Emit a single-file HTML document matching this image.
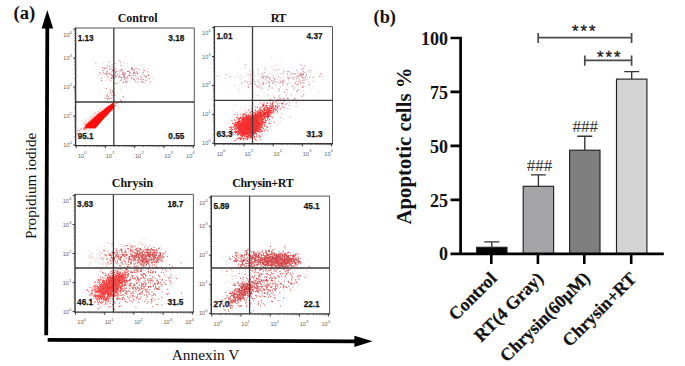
<!DOCTYPE html>
<html><head><meta charset="utf-8"><style>
html,body{margin:0;padding:0;background:#fff;}
body{width:685px;height:366px;overflow:hidden;}
svg{display:block;}
.tl{font-family:"Liberation Sans",sans-serif;font-size:5.6px;fill:#666;}
.sp{font-size:4.4px;}
.q{font-family:"Liberation Sans",sans-serif;font-weight:bold;font-size:8.2px;fill:#151515;stroke:#151515;stroke-width:0.25px;}
.pt{font-family:"Liberation Serif",serif;font-weight:bold;font-size:12px;fill:#111;}
.serif{font-family:"Liberation Serif",serif;}
</style></head><body>
<svg width="685" height="366" viewBox="0 0 685 366">
<rect width="685" height="366" fill="#fff"/>
<text x="13.5" y="19.3" class="serif" font-weight="bold" font-size="18.6" fill="#111">(a)</text>
<path d="M46.2 335.3L47.3 27" stroke="#000" stroke-width="3.8"/>
<path d="M47.3 10L53.2 28.5L41.6 28.5Z" fill="#000"/>
<path d="M47.7 339.9L356 341.4" stroke="#000" stroke-width="3.8"/>
<path d="M372.6 341.3L354.4 335.7L354.4 347Z" fill="#000"/>
<text transform="translate(35.9,239) rotate(-90)" class="serif" font-size="15.25" fill="#111">Propidium iodide</text>
<text x="205.6" y="360" class="serif" font-size="15.4" fill="#111" text-anchor="middle">Annexin V</text>
<path d="M143.1 69.4h1M115.2 78.0h1M124.6 63.1h1M122.4 67.1h1M124.6 72.4h1M134.1 69.0h1M112.9 77.2h1M152.3 78.0h1M153.3 79.1h1M100.7 73.9h1M102.2 62.4h1M124.8 81.9h1M139.3 64.3h1M125.7 79.4h1M130.5 67.4h1M138.1 77.3h1M125.7 83.2h1M135.1 73.3h1M99.6 73.8h1M110.4 78.2h1M123.2 74.8h1M141.7 66.3h1M105.4 70.5h1M118.9 73.4h1M111.6 71.4h1M131.4 71.1h1M108.1 72.5h1M127.1 63.9h1M138.2 69.5h1M109.9 68.2h1M101.8 74.5h1M123.6 86.6h1M136.5 71.9h1M127.9 74.8h1M130.8 70.1h1M132.6 78.7h1M114.6 77.0h1M135.9 71.4h1M127.1 78.7h1M129.5 70.0h1M104.0 67.6h1M130.7 79.0h1M110.3 78.1h1M135.8 77.4h1M118.5 70.3h1M124.8 69.8h1M140.9 74.4h1M119.1 80.8h1M131.8 60.6h1M135.4 82.5h1M112.5 71.2h1M132.4 69.6h1M119.0 72.2h1M142.4 79.4h1M143.1 71.1h1M122.5 63.1h1M115.0 72.1h1M115.6 76.4h1M102.9 70.9h1M108.4 79.3h1M145.7 77.0h1M143.7 80.1h1M135.8 76.6h1M137.1 75.0h1M131.6 85.2h1M111.8 67.0h1M103.1 67.5h1M98.4 66.9h1M134.0 65.7h1M148.9 79.6h1M106.3 77.4h1M138.9 73.1h1M106.1 74.4h1M142.3 74.5h1M143.6 74.6h1M131.7 73.7h1M123.9 75.0h1M125.5 57.7h1M118.9 82.6h1M123.3 61.0h1M129.5 81.4h1M122.7 78.7h1M113.0 73.5h1M145.3 79.0h1M98.4 75.5h1M104.4 69.2h1M141.7 65.1h1M142.8 72.6h1M133.5 65.5h1M114.2 71.3h1M106.2 71.8h1M138.7 76.1h1M142.8 68.8h1M123.1 81.4h1M110.7 72.0h1M106.2 73.9h1M148.3 68.8h1M105.1 68.0h1M144.5 70.7h1M123.4 81.3h1M116.8 68.1h1M102.2 67.7h1M95.6 69.3h1M112.8 66.9h1M98.7 69.9h1M107.7 78.9h1M114.6 70.1h1M141.4 77.0h1M95.5 69.0h1M107.8 74.3h1M108.6 101.8h1M112.4 81.1h1M110.3 93.4h1M106.3 99.3h1M107.5 95.7h1M111.6 98.8h1M111.3 94.3h1M110.7 107.0h1M120.1 89.9h1M110.0 88.2h1M111.5 96.4h1M107.0 102.1h1M109.6 94.7h1M113.1 100.2h1M113.3 92.3h1M110.4 89.1h1M112.6 102.0h1M111.2 102.8h1M103.5 102.7h1M97.9 92.8h1M120.2 89.2h1M114.3 89.2h1M110.8 93.9h1M104.0 97.9h1M105.9 97.5h1" stroke="#d8b0b8" stroke-width="1" opacity="0.6"/>
<path d="M133.5 73.2h1M140.1 79.4h1M105.9 74.1h1M124.7 73.5h1M119.8 77.3h1M109.1 69.3h1M124.1 79.3h1M131.0 78.2h1M116.6 83.2h1M110.9 78.4h1M140.2 76.4h1M141.2 77.9h1M145.7 80.4h1M114.6 73.4h1M136.6 73.1h1M147.0 71.9h1M117.4 71.7h1M143.6 75.8h1M135.5 68.6h1M115.2 69.7h1M143.5 82.3h1M115.7 76.2h1M145.4 76.8h1M133.6 71.1h1M123.5 72.4h1M131.3 69.3h1M129.1 72.9h1M122.9 82.5h1M131.6 69.2h1M125.0 78.1h1M135.1 81.1h1M115.2 75.3h1M119.4 75.0h1M120.4 80.6h1M113.3 78.1h1M117.0 74.6h1M126.9 81.7h1M115.6 71.8h1M110.3 80.9h1M127.4 71.5h1M125.4 80.8h1M128.1 71.4h1M113.2 77.4h1M110.5 74.1h1M112.6 69.6h1M107.6 76.7h1M121.1 79.2h1M127.1 76.3h1M133.4 79.8h1M114.7 83.5h1M109.5 74.0h1M148.6 78.5h1M129.6 76.1h1M129.0 74.8h1M131.2 67.7h1M111.9 70.4h1M133.1 74.9h1M127.3 71.4h1M125.6 77.8h1M120.6 69.7h1M124.0 77.0h1M128.4 71.5h1M114.9 76.9h1M127.3 78.1h1M142.7 72.6h1M122.0 73.2h1M123.6 74.8h1M106.2 74.0h1M132.1 68.5h1M123.4 75.8h1M104.6 73.6h1M134.7 75.7h1M122.3 74.7h1M128.5 75.5h1M121.5 70.9h1M133.8 70.0h1M108.6 73.7h1M143.8 70.7h1M137.1 73.8h1M136.6 72.0h1M118.1 77.2h1M149.8 81.9h1M106.8 71.2h1M112.5 75.5h1M111.5 77.2h1M133.1 72.4h1M140.9 81.4h1M122.9 74.0h1M123.4 77.7h1M111.9 75.6h1M113.8 74.9h1M142.4 82.0h1M102.8 72.8h1M138.5 69.4h1M136.6 78.8h1M146.5 76.1h1M147.9 75.7h1M101.2 80.5h1M132.6 77.8h1M145.3 76.3h1M134.5 73.2h1M111.2 75.2h1M142.5 79.5h1M100.9 78.4h1M133.7 79.1h1M124.5 74.7h1M112.9 76.5h1M123.1 76.8h1M125.7 82.4h1M131.4 75.4h1M129.8 72.7h1M111.8 77.9h1M118.8 76.3h1M122.4 72.2h1M148.1 74.7h1M133.9 72.9h1M137.0 82.1h1M121.0 77.8h1M106.3 72.9h1M137.9 78.9h1M113.8 68.1h1M111.5 65.0h1M118.3 60.7h1M99.7 72.8h1M112.7 70.7h1M120.4 65.4h1M102.1 68.2h1M119.9 61.9h1M108.7 61.9h1M95.4 62.9h1M111.2 68.8h1M104.2 68.5h1M114.6 63.3h1M102.6 70.7h1M120.4 70.9h1M106.1 67.9h1M114.9 72.2h1M107.2 65.6h1M109.4 66.4h1M121.5 69.4h1M109.9 90.4h1M112.4 90.5h1M106.2 96.0h1M114.3 95.4h1M107.7 96.3h1M109.5 98.3h1M105.9 88.6h1M111.8 91.8h1M113.8 94.6h1M113.2 88.6h1M112.5 91.9h1M105.3 98.1h1M107.7 98.4h1M108.6 98.3h1M107.2 94.2h1M113.4 93.2h1M110.6 98.3h1M109.9 92.5h1M111.5 95.4h1M107.1 99.3h1" stroke="#a82838" stroke-width="1" opacity="0.7"/>
<path d="M94.9 120.6h1M100.1 118.1h1M100.9 113.7h1M97.2 116.5h1M113.1 106.1h1M101.8 116.7h1M100.4 115.6h1M94.5 121.4h1M106.9 109.9h1M91.5 123.5h1M85.9 125.9h1M91.7 123.0h1M104.1 113.0h1M90.2 123.8h1M110.0 109.6h1M99.5 117.5h1M86.7 125.4h1M97.7 118.6h1M112.0 104.2h1M92.8 122.6h1M90.4 126.7h1M103.4 113.8h1M109.6 108.9h1M107.0 110.3h1M96.9 119.2h1M100.2 115.0h1M102.0 115.1h1M108.1 109.1h1M115.7 103.0h1M98.2 117.3h1M109.2 108.5h1M95.2 117.3h1M104.9 114.5h1M91.7 122.4h1M91.9 119.9h1M102.9 114.8h1M91.9 122.0h1M106.1 111.2h1M95.1 120.5h1M99.1 115.4h1M96.5 114.7h1M96.3 118.5h1M100.2 115.9h1M108.1 110.7h1M123.0 96.8h1M89.5 123.6h1M101.6 115.0h1M97.4 117.4h1M91.7 122.0h1M101.4 115.0h1M91.5 121.2h1M99.4 118.3h1M108.2 108.2h1M83.1 129.0h1M100.8 114.8h1M102.1 113.2h1M91.8 122.9h1M103.8 114.1h1M102.7 115.5h1M96.6 119.1h1M108.3 108.7h1M89.2 125.3h1M103.2 111.4h1M97.2 118.0h1M91.0 123.5h1M98.0 118.1h1M95.5 117.8h1M104.5 110.3h1M88.2 127.0h1M97.2 117.3h1M94.4 118.0h1M110.6 105.9h1M90.2 123.4h1M108.1 110.9h1M85.2 127.3h1M102.4 115.4h1M98.0 117.6h1M102.2 114.6h1M94.0 121.6h1M83.4 128.3h1M87.0 126.3h1M109.0 108.2h1M100.2 114.7h1M92.5 122.4h1M105.5 110.4h1M93.1 121.2h1M92.6 120.5h1M89.3 124.0h1M107.8 108.9h1M115.0 105.4h1M91.3 122.6h1M101.2 114.9h1M107.6 111.9h1M113.7 101.3h1M79.3 130.5h1M98.3 113.6h1M103.9 112.6h1M87.4 126.1h1M102.4 114.6h1M100.5 115.6h1M104.0 111.5h1M95.3 121.6h1M102.3 114.3h1M93.9 120.1h1M102.9 112.0h1M100.3 116.0h1M95.5 118.5h1M87.3 125.0h1M111.9 106.6h1M107.6 110.0h1M105.2 110.5h1M94.3 121.7h1M95.4 118.0h1M111.2 105.4h1M104.8 112.3h1M92.1 122.0h1M99.2 116.4h1M99.6 115.4h1M97.2 117.9h1M91.0 122.0h1M107.7 107.6h1M103.9 113.5h1M96.6 117.0h1M86.3 126.1h1M94.7 120.7h1M98.8 116.6h1M107.3 113.4h1M95.0 117.7h1M107.1 109.1h1M100.0 115.7h1M93.8 122.2h1M76.7 133.5h1M88.7 122.6h1M87.8 126.6h1M97.1 116.7h1M101.4 114.3h1M110.4 108.6h1M98.4 116.0h1M89.5 123.3h1M117.7 102.4h1M101.2 114.4h1M97.0 118.3h1M96.3 117.3h1M88.2 124.7h1M103.3 111.7h1M100.9 112.9h1M112.5 108.1h1M107.9 110.0h1M106.4 111.8h1M108.3 107.9h1M96.7 118.2h1M95.3 119.0h1M97.7 115.6h1M89.5 124.5h1M97.4 116.7h1M96.3 118.3h1M103.3 111.1h1M99.5 117.3h1M84.4 128.7h1M99.5 116.5h1M109.6 106.9h1M84.2 127.2h1M93.8 122.0h1M99.0 116.0h1M88.8 124.7h1M94.8 119.8h1M98.8 115.1h1M89.6 125.7h1M100.2 113.0h1M102.5 114.0h1M89.0 124.1h1M98.3 114.9h1M107.8 109.9h1M98.1 117.8h1M102.6 113.7h1M103.7 111.7h1M97.6 118.1h1M107.6 111.1h1M102.3 114.1h1M92.4 123.7h1M103.8 113.7h1M106.5 111.5h1M106.4 112.4h1M93.7 119.7h1M102.5 113.0h1M110.3 108.2h1M101.4 115.2h1M109.5 110.1h1M110.2 109.1h1M99.1 116.6h1M104.6 112.3h1M96.8 117.8h1M107.5 109.3h1M98.3 116.4h1M95.5 120.3h1M98.8 116.0h1M98.5 116.3h1M102.4 113.9h1M102.7 112.9h1M90.0 123.2h1M92.8 118.5h1M102.4 114.2h1M102.9 113.0h1M100.1 115.8h1M120.3 100.2h1M107.0 107.8h1M100.3 118.5h1M105.2 111.8h1M110.1 108.0h1M101.2 112.5h1M86.1 127.4h1M100.5 115.9h1M99.7 115.5h1M116.5 103.2h1M85.8 128.4h1M111.5 106.3h1M97.8 116.4h1M107.7 111.4h1M97.4 118.1h1M100.9 114.9h1M109.9 110.9h1M100.4 115.7h1M107.8 109.5h1M99.2 116.8h1M96.2 118.3h1M98.0 117.6h1M95.8 119.3h1M98.3 116.3h1M110.2 107.5h1M90.6 123.5h1M86.8 126.6h1M99.9 116.6h1M113.4 106.3h1M108.1 109.8h1M110.4 108.3h1M109.3 108.0h1M93.8 120.3h1M101.3 116.1h1M77.5 130.8h1M95.1 120.0h1M106.5 114.7h1M86.3 124.1h1M84.4 129.8h1M88.4 122.6h1M101.7 114.9h1M109.9 110.0h1M121.1 101.2h1M110.5 106.4h1M87.0 124.2h1M80.6 129.0h1M101.4 115.5h1M107.9 109.0h1M87.1 125.8h1M95.9 119.2h1M96.6 118.9h1M100.5 116.0h1M98.5 117.0h1M103.0 111.3h1M109.1 110.4h1M98.8 113.1h1" stroke="#f51010" stroke-width="1" opacity="0.85"/>
<path d="M80.7 120.5h1M99.5 115.4h1M100.3 119.6h1M97.9 115.2h1M94.4 112.8h1M96.7 119.0h1M103.3 113.1h1M100.9 118.5h1M101.6 117.6h1M91.5 121.0h1M102.1 115.2h1M93.6 113.5h1M81.7 133.9h1M102.5 114.1h1M97.7 121.3h1M108.0 113.2h1M96.0 117.4h1M96.9 117.3h1M98.2 113.5h1M94.0 112.2h1M93.9 119.7h1M82.7 129.5h1M111.9 101.9h1M85.6 129.3h1M95.2 119.5h1M104.5 113.6h1M99.8 112.6h1M99.6 108.9h1M106.1 113.6h1M110.0 109.8h1M100.3 114.7h1M122.4 96.3h1M88.7 123.2h1M99.7 115.1h1M93.9 118.2h1M89.5 115.9h1M101.9 116.9h1M107.8 103.6h1M91.2 121.0h1M91.2 121.0h1M104.7 112.7h1M99.7 109.5h1M117.2 106.6h1M108.1 111.6h1M101.4 117.2h1M97.5 122.2h1M98.4 113.6h1M90.7 110.7h1M86.8 127.0h1M100.5 120.0h1M98.6 120.9h1M95.0 117.3h1M94.1 119.7h1M113.2 106.2h1M100.7 108.0h1M104.9 109.1h1M91.5 119.6h1M92.0 127.7h1M94.3 117.4h1M103.0 119.0h1M95.0 119.4h1M93.3 114.3h1M110.4 115.7h1M98.8 112.7h1M90.6 125.1h1M97.4 123.9h1M91.3 120.2h1M97.3 112.9h1M89.8 127.4h1M96.6 118.4h1M101.7 109.4h1M96.3 114.2h1M89.4 122.3h1M94.4 123.5h1M98.5 115.5h1M103.4 115.3h1M108.3 115.2h1M99.1 121.0h1M89.2 129.3h1M112.6 110.3h1M97.6 111.2h1M103.8 117.1h1M101.3 115.7h1M88.8 123.7h1M93.2 116.6h1M97.3 111.5h1M104.9 107.4h1M98.5 116.5h1M94.4 116.7h1M99.9 113.2h1M110.4 109.8h1M103.6 111.5h1M119.3 99.8h1M112.8 110.5h1M109.1 107.1h1M107.3 112.0h1M84.1 123.9h1M106.0 112.0h1M103.4 113.2h1M93.8 121.0h1M102.2 111.9h1M99.7 111.7h1M93.4 119.4h1M96.1 116.7h1M97.6 121.2h1M101.7 117.6h1M92.1 117.0h1M103.9 114.8h1M80.5 128.9h1M96.4 120.0h1M82.5 127.3h1M91.1 116.8h1M104.4 115.9h1M99.0 117.9h1M94.8 114.9h1M95.1 112.1h1M110.6 105.1h1M86.2 121.7h1M105.0 110.1h1M86.0 128.7h1M96.7 123.6h1M98.8 115.0h1M93.2 126.0h1M101.9 118.4h1M103.5 111.0h1M84.6 121.1h1M98.9 119.5h1M95.9 121.0h1M85.5 135.7h1M99.0 121.7h1M92.5 124.3h1M112.7 111.9h1M88.5 120.5h1M113.1 106.0h1M92.9 120.0h1M118.0 108.0h1M103.7 114.7h1M96.3 106.7h1M107.5 114.8h1M104.2 108.8h1M111.6 109.4h1M112.2 104.2h1M95.5 119.9h1M88.4 127.0h1M92.9 117.4h1M107.2 115.2h1M102.0 115.4h1M99.0 116.2h1M96.3 121.1h1M91.5 120.1h1M99.1 123.4h1M101.8 114.9h1M83.4 129.9h1M105.0 112.9h1M83.7 124.8h1M94.5 115.3h1M92.9 121.9h1M95.5 120.4h1M91.4 127.3h1M88.9 125.9h1M94.0 116.1h1M89.6 125.7h1M120.8 102.4h1M96.2 122.3h1M92.9 122.3h1M91.0 117.9h1M90.8 127.1h1M96.8 120.2h1M97.8 111.3h1M86.4 129.1h1M96.6 115.2h1M89.5 127.8h1M100.9 121.5h1M103.2 117.4h1M100.0 111.0h1M100.0 111.9h1M90.3 119.8h1M106.8 112.7h1M94.7 120.9h1M101.3 115.1h1M104.6 113.1h1M96.4 120.5h1M88.0 127.3h1M106.4 116.9h1M88.2 124.5h1M90.6 123.6h1M85.0 120.2h1M102.8 108.3h1M95.3 116.6h1M104.7 112.6h1M117.8 105.5h1M112.7 103.9h1M92.1 119.8h1M97.7 115.4h1M102.6 113.9h1M104.7 109.7h1M99.0 117.9h1M89.0 125.2h1M105.1 112.8h1M104.7 114.7h1M86.4 126.2h1M95.0 119.9h1M103.5 119.4h1M97.8 117.0h1M103.9 115.4h1M104.9 111.8h1M101.8 112.3h1M96.1 116.8h1M84.7 124.3h1M103.3 112.9h1M108.9 106.2h1M114.2 102.7h1M99.9 120.2h1M97.3 117.0h1M112.5 110.0h1M110.9 108.0h1M102.4 116.8h1M102.9 110.8h1M91.6 122.6h1M107.8 119.4h1M92.2 124.6h1M98.5 120.4h1M97.2 118.5h1M95.4 122.3h1M77.4 128.6h1M89.1 120.7h1M101.6 115.8h1M98.9 119.4h1M93.7 118.8h1M101.2 113.7h1M103.2 111.6h1M104.9 110.9h1M88.6 119.7h1M95.4 113.6h1M94.8 119.2h1M87.0 118.9h1M83.1 124.9h1M95.8 116.2h1M88.3 120.5h1M116.9 103.1h1M96.2 116.7h1M95.7 118.4h1M92.5 117.4h1M112.7 102.6h1M90.6 124.7h1M97.1 119.0h1M90.3 121.2h1M97.4 118.8h1M97.8 117.7h1M107.6 110.0h1M88.5 130.4h1M96.9 116.2h1M112.6 107.1h1M94.2 121.5h1M95.8 117.7h1M88.0 120.3h1M91.0 123.7h1M89.7 128.6h1M89.1 117.8h1M89.0 121.0h1M89.0 128.1h1M86.2 125.1h1M89.8 121.9h1M83.5 124.9h1M88.8 127.1h1M84.4 122.1h1M87.8 126.1h1M91.0 123.4h1M88.1 123.5h1M87.4 123.6h1M90.4 127.1h1M88.0 120.4h1M87.6 122.7h1M87.7 125.8h1M93.4 120.2h1M90.8 119.1h1M90.3 125.5h1M85.3 123.8h1M90.7 123.4h1M85.0 124.2h1M90.3 120.9h1M85.5 132.5h1M94.7 120.9h1M83.8 122.5h1M92.5 119.5h1M91.2 122.6h1M83.5 128.4h1M88.1 123.9h1M93.2 125.6h1M92.2 122.4h1M83.8 129.2h1M87.3 124.3h1M85.3 120.1h1M85.7 126.1h1M86.9 122.7h1M94.3 125.6h1M89.2 124.2h1M88.1 124.6h1M87.8 124.2h1M90.8 121.1h1M90.9 119.3h1M86.1 126.7h1M93.2 123.4h1M85.6 124.7h1M88.0 122.4h1M90.2 117.7h1M93.9 120.0h1M87.8 128.0h1M89.7 121.5h1M92.7 122.7h1M90.7 119.4h1M92.2 122.2h1M91.9 122.7h1M89.6 123.1h1M90.7 123.6h1M91.6 121.9h1" stroke="#f09a9a" stroke-width="1" opacity="0.6"/><path d="M85 128.3L85.3 125.3L97.5 114.6L107.5 106.6L113.8 102.3L114.4 107.6L104 118.6L95.4 128.6Z" fill="#ff0d0d"/>
<path d="M75.6 28.0H194.3V145.6" fill="none" stroke="#555" stroke-width="1"/>
<path d="M75.6 27.5V145.6H194.8" fill="none" stroke="#333" stroke-width="1.4"/>
<line x1="113.8" y1="28.0" x2="113.8" y2="145.6" stroke="#3a3a3a" stroke-width="1.3"/>
<line x1="75.6" y1="102.0" x2="194.3" y2="102.0" stroke="#3a3a3a" stroke-width="1.3"/>
<path d="M73.2 145.1H75.6M76.1 145.6V148.2M73.2 116.1H75.6M105.4 145.6V148.2M73.2 87.0H75.6M134.7 145.6V148.2M73.2 58.0H75.6M164.0 145.6V148.2M73.2 29.0H75.6M193.3 145.6V148.2" stroke="#333" stroke-width="1"/>
<path d="M74.2 136.4H75.6M74.2 131.3H75.6M74.2 127.6H75.6M74.2 124.8H75.6M74.2 122.5H75.6M74.2 120.6H75.6M74.2 118.9H75.6M74.2 117.4H75.6M84.9 145.6V147.1M90.1 145.6V147.1M93.7 145.6V147.1M96.6 145.6V147.1M98.9 145.6V147.1M100.9 145.6V147.1M102.6 145.6V147.1M104.1 145.6V147.1M74.2 107.3H75.6M74.2 102.2H75.6M74.2 98.6H75.6M74.2 95.8H75.6M74.2 93.5H75.6M74.2 91.5H75.6M74.2 89.9H75.6M74.2 88.4H75.6M114.2 145.6V147.1M119.4 145.6V147.1M123.0 145.6V147.1M125.9 145.6V147.1M128.2 145.6V147.1M130.2 145.6V147.1M131.9 145.6V147.1M133.4 145.6V147.1M74.2 78.3H75.6M74.2 73.2H75.6M74.2 69.6H75.6M74.2 66.8H75.6M74.2 64.5H75.6M74.2 62.5H75.6M74.2 60.8H75.6M74.2 59.4H75.6M143.5 145.6V147.1M148.7 145.6V147.1M152.3 145.6V147.1M155.2 145.6V147.1M157.5 145.6V147.1M159.5 145.6V147.1M161.2 145.6V147.1M162.7 145.6V147.1M74.2 49.3H75.6M74.2 44.2H75.6M74.2 40.6H75.6M74.2 37.7H75.6M74.2 35.4H75.6M74.2 33.5H75.6M74.2 31.8H75.6M74.2 30.3H75.6M172.8 145.6V147.1M178.0 145.6V147.1M181.6 145.6V147.1M184.5 145.6V147.1M186.8 145.6V147.1M188.8 145.6V147.1M190.5 145.6V147.1M192.0 145.6V147.1" stroke="#666" stroke-width="0.8"/>
<text x="63.3" y="147.1" class="tl">10<tspan dy="-3" class="sp">0</tspan></text>
<text x="77.9" y="157.8" class="tl">10<tspan dy="-3.6" class="sp">0</tspan></text>
<text x="63.3" y="118.1" class="tl">10<tspan dy="-3" class="sp">1</tspan></text>
<text x="105.7" y="157.8" class="tl">10<tspan dy="-3.6" class="sp">1</tspan></text>
<text x="63.3" y="89.0" class="tl">10<tspan dy="-3" class="sp">2</tspan></text>
<text x="135.0" y="157.8" class="tl">10<tspan dy="-3.6" class="sp">2</tspan></text>
<text x="63.3" y="60.0" class="tl">10<tspan dy="-3" class="sp">3</tspan></text>
<text x="164.3" y="157.8" class="tl">10<tspan dy="-3.6" class="sp">3</tspan></text>
<text x="63.3" y="36.5" class="tl">10<tspan dy="-3" class="sp">4</tspan></text>
<text x="186.1" y="157.8" class="tl">10<tspan dy="-3.6" class="sp">4</tspan></text>
<text x="77.7" y="40.5" class="q">1.13</text>
<text x="184.3" y="40.5" class="q" text-anchor="end">3.18</text>
<text x="77.7" y="138.8" class="q">95.1</text>
<text x="184.3" y="138.8" class="q" text-anchor="end">0.55</text>
<text x="137.60" y="21.7" class="pt" text-anchor="middle">Control</text>
<path d="M227.9 75.7h1M279.5 77.1h1M225.5 78.6h1M311.0 72.1h1M298.2 76.1h1M262.8 81.4h1M271.9 80.5h1M275.7 79.8h1M297.3 71.6h1M255.5 75.3h1M253.0 74.0h1M258.9 88.0h1M276.9 91.2h1M279.9 82.4h1M264.4 92.4h1M291.5 77.3h1M249.6 77.4h1M271.8 69.3h1M257.4 81.5h1M250.0 76.1h1M302.5 80.4h1M266.1 83.6h1M250.0 77.8h1M274.6 70.8h1M250.1 79.3h1M287.7 79.1h1M293.6 79.9h1M297.8 85.1h1M248.8 78.0h1M270.2 77.6h1M317.0 93.5h1M268.6 88.3h1M303.4 79.0h1M309.6 72.3h1M241.2 76.2h1M302.2 82.8h1M291.4 86.5h1M294.3 98.9h1M313.5 77.9h1M284.6 81.0h1M275.6 77.0h1M288.1 80.5h1M265.6 76.8h1M285.4 71.4h1M226.4 88.0h1M314.4 80.9h1M261.2 90.1h1M286.4 75.9h1M281.1 82.0h1M276.2 85.2h1M276.4 65.1h1M275.2 69.5h1M235.2 85.9h1M260.9 80.8h1M301.8 65.5h1M249.7 74.2h1M248.9 71.7h1M323.4 76.2h1M302.1 92.3h1M310.4 75.5h1M273.4 96.1h1M280.0 78.1h1M291.6 74.3h1M286.9 92.5h1M271.6 87.6h1M239.2 91.0h1M256.4 95.5h1M238.2 88.5h1M310.5 89.8h1M264.1 66.6h1M269.2 73.7h1M280.1 83.7h1M273.8 81.8h1M285.7 85.9h1M258.7 76.5h1M237.5 89.0h1M314.3 96.2h1M256.5 84.9h1M262.0 86.9h1M254.5 84.3h1M260.2 87.7h1M273.5 82.0h1M290.6 76.4h1M248.3 81.9h1M279.8 81.2h1M257.2 68.3h1M301.1 82.2h1M244.1 80.6h1M275.2 82.0h1M289.6 76.0h1M241.0 84.2h1M275.4 85.3h1M276.2 74.8h1M254.1 82.9h1M267.7 86.5h1M295.9 86.2h1M278.4 73.1h1M263.0 72.2h1M267.8 80.5h1M283.1 72.0h1M302.2 100.0h1M291.1 73.8h1M289.6 73.9h1M309.0 85.3h1M236.6 76.4h1M239.1 61.6h1M219.6 78.9h1M291.9 72.2h1M219.2 75.9h1M271.4 67.2h1M289.9 72.8h1M239.9 78.6h1M257.0 79.3h1M266.2 71.0h1M289.3 74.1h1M237.1 73.0h1M279.7 80.8h1M288.4 78.5h1M275.6 69.8h1M275.9 84.7h1M301.2 74.1h1M277.3 82.7h1M271.7 72.4h1M264.4 81.9h1M287.3 78.6h1M265.5 80.0h1M287.3 83.5h1M274.5 83.0h1M298.3 80.9h1M253.8 80.8h1M273.9 69.5h1M280.2 79.0h1M281.7 62.2h1M298.3 61.8h1M281.2 77.1h1M293.0 77.8h1M317.4 91.3h1M291.6 84.8h1M247.7 88.3h1M239.1 77.1h1M287.6 83.1h1M263.4 88.8h1M278.8 83.8h1M268.1 82.4h1M302.3 80.4h1M299.8 72.4h1M246.1 72.6h1M278.4 68.4h1M265.1 82.9h1M241.9 77.6h1M287.0 74.4h1M268.8 82.5h1M282.3 75.2h1M329.2 88.0h1M302.7 94.8h1M297.5 83.3h1M262.7 74.3h1M244.8 68.0h1M300.8 95.7h1M265.1 83.4h1M273.1 70.5h1M263.4 88.3h1M274.4 66.6h1M327.5 76.3h1M264.8 77.9h1M265.5 77.0h1M276.7 70.8h1M278.6 98.8h1M244.4 76.7h1M231.1 82.9h1M258.5 80.1h1M267.0 67.2h1M253.8 75.5h1M248.8 81.5h1M250.1 87.2h1M262.7 77.1h1M268.9 82.8h1M234.1 77.2h1M259.0 84.5h1M279.7 60.3h1M268.7 84.6h1M240.2 74.9h1M263.3 75.3h1M271.0 57.3h1M289.1 71.4h1M234.0 84.7h1M287.1 98.2h1M260.8 74.3h1M276.0 74.7h1M287.1 83.8h1M251.3 82.2h1M252.8 75.2h1M268.7 78.6h1M288.0 76.9h1M258.8 84.8h1M238.8 86.2h1M255.2 93.9h1M280.0 87.2h1M297.8 85.2h1M256.8 126.1h1M264.7 118.1h1M240.8 130.2h1M281.7 113.5h1M253.1 116.2h1M264.8 105.0h1M233.9 112.8h1M269.7 124.0h1M259.0 123.1h1M252.6 128.2h1M244.0 126.9h1M248.8 141.0h1M269.2 101.7h1M272.1 122.8h1M249.5 114.5h1M252.2 117.0h1M237.7 117.5h1M230.2 135.4h1M229.0 132.1h1M246.5 129.5h1M247.4 118.4h1M231.5 119.2h1M264.1 120.7h1M263.9 128.3h1M257.2 126.5h1M230.4 133.7h1M251.1 126.5h1M243.9 108.8h1M235.1 128.0h1M277.1 112.0h1M255.6 110.8h1M251.1 131.2h1M270.6 109.6h1M268.6 119.8h1M251.0 107.7h1M252.3 116.1h1M262.8 118.9h1M271.0 114.0h1M255.2 125.6h1M249.0 123.4h1M258.0 116.2h1M256.8 127.9h1M240.1 112.9h1M250.2 119.4h1M248.7 121.5h1M256.7 120.7h1M257.7 129.0h1M246.7 111.0h1M252.7 126.9h1M249.6 105.2h1M242.4 119.5h1M261.5 110.9h1M230.3 131.5h1M251.6 115.6h1M255.1 114.7h1M235.0 128.1h1M245.5 122.7h1M259.7 98.2h1M244.0 111.9h1M239.2 124.6h1M260.5 127.2h1M259.8 118.4h1M273.2 101.4h1M252.7 123.2h1M256.6 126.2h1M244.2 127.7h1M246.4 114.0h1M251.1 121.3h1M260.9 116.2h1M252.3 107.0h1M237.2 117.8h1M251.5 134.5h1M258.6 94.9h1M241.0 129.9h1M259.8 114.6h1M277.8 121.2h1M262.6 122.0h1M251.1 113.4h1M274.1 122.1h1M253.7 115.0h1M260.7 137.3h1M256.9 136.1h1M265.5 113.2h1M263.8 123.0h1M271.5 112.5h1M243.8 117.2h1M252.9 132.3h1M248.5 128.2h1M259.1 126.5h1M248.3 135.0h1M269.5 126.4h1M260.7 127.5h1M239.6 128.1h1M231.7 137.9h1M268.9 110.9h1M250.2 120.5h1M262.1 135.3h1M249.0 128.7h1M265.2 133.9h1M225.2 129.5h1M227.5 135.6h1M230.2 130.1h1M251.0 118.5h1M259.2 114.8h1M257.2 117.7h1M248.5 119.5h1M264.6 121.6h1M245.2 118.2h1M249.3 117.9h1M254.4 128.3h1M248.7 129.5h1M240.4 122.4h1M248.9 133.3h1M229.9 120.0h1M252.8 116.6h1M257.5 136.6h1M252.7 94.8h1M229.1 133.1h1M270.6 121.4h1M250.4 121.4h1M246.5 117.1h1M238.2 120.8h1M232.8 111.7h1M227.9 122.2h1M263.1 116.2h1M246.8 119.1h1M260.6 116.9h1M261.3 115.1h1M247.2 127.7h1M241.7 110.9h1M246.4 122.1h1M262.9 112.2h1M252.2 118.7h1M250.0 114.0h1M250.9 100.0h1M253.8 127.4h1M280.4 114.0h1M270.4 118.9h1M276.3 124.8h1M240.8 134.6h1M260.7 113.0h1M257.6 123.9h1M257.3 106.9h1M238.5 132.3h1M254.5 119.4h1M235.4 120.7h1M253.4 133.7h1M274.2 120.7h1M252.4 126.5h1M237.6 129.0h1M258.3 104.5h1M239.3 119.5h1M236.2 138.3h1M266.6 116.0h1M248.4 108.8h1M262.1 129.8h1M243.3 129.3h1M276.5 124.5h1M255.6 131.6h1M226.2 132.5h1M238.7 130.7h1M238.5 122.3h1M246.3 116.7h1M260.0 114.4h1M245.5 131.0h1M250.9 136.8h1M274.8 99.8h1M256.2 126.9h1M245.8 126.1h1M251.5 120.2h1M241.9 139.6h1M257.0 115.6h1M270.0 126.0h1M243.5 123.6h1M260.1 108.0h1M252.0 130.1h1M249.1 108.9h1M237.8 118.2h1M241.6 126.3h1M233.9 132.7h1M253.6 118.6h1M239.9 108.9h1M243.1 113.6h1M240.7 134.1h1M240.4 134.6h1M239.9 118.8h1M259.0 121.0h1M256.7 121.7h1M248.4 134.9h1M252.4 114.5h1M280.0 121.2h1M252.1 119.2h1M283.1 119.3h1M261.5 126.4h1M263.8 105.1h1M244.4 123.6h1M267.7 116.3h1M242.3 138.4h1M248.9 109.8h1M245.9 120.7h1M230.7 141.1h1M237.7 135.5h1M261.2 106.2h1M254.1 111.9h1M269.8 116.5h1M249.9 113.0h1M259.3 127.6h1M245.3 126.4h1M234.0 105.0h1M251.9 134.5h1M248.0 136.6h1M246.8 140.0h1M271.0 120.3h1M250.0 106.1h1M250.5 137.9h1M248.5 127.9h1M268.1 122.8h1M256.0 118.4h1M253.4 119.0h1M236.2 129.1h1M254.0 137.7h1M239.6 132.4h1M227.9 134.2h1M257.2 106.1h1M250.2 128.3h1M247.1 125.3h1M241.1 130.3h1M265.7 124.7h1M280.7 113.3h1M259.2 118.3h1M264.3 117.5h1M237.4 131.7h1M257.4 126.7h1M257.8 126.2h1M270.8 113.0h1M248.3 115.6h1M244.4 135.5h1M255.3 129.8h1M242.0 117.1h1M271.3 115.2h1" stroke="#d8b4bc" stroke-width="1" opacity="0.6"/>
<path d="M299.7 81.0h1M262.9 82.8h1M271.0 80.8h1M264.4 69.2h1M267.5 81.9h1M274.4 78.8h1M269.2 85.2h1M252.9 71.9h1M291.8 86.4h1M263.2 77.1h1M301.6 69.8h1M271.7 88.1h1M260.6 76.9h1M283.5 82.3h1M292.5 79.1h1M256.3 86.6h1M269.1 86.7h1M303.3 86.8h1M254.8 84.3h1M257.7 70.3h1M278.1 69.9h1M250.4 81.2h1M225.5 74.2h1M241.4 82.8h1M282.2 81.0h1M287.8 71.5h1M286.6 73.7h1M282.6 73.1h1M250.1 74.6h1M288.3 78.7h1M297.8 84.1h1M260.8 88.1h1M293.6 74.1h1M267.4 76.6h1M278.6 89.4h1M282.1 85.4h1M245.1 81.4h1M304.1 65.8h1M257.7 73.9h1M272.8 80.9h1M264.9 76.4h1M284.0 92.0h1M283.4 80.5h1M275.2 81.7h1M303.1 73.3h1M280.5 73.7h1M266.8 75.9h1M217.2 76.2h1M269.2 78.6h1M269.0 82.2h1M257.4 81.4h1M257.6 86.0h1M286.7 71.8h1M295.7 81.3h1M312.7 81.4h1M297.7 89.6h1M260.7 78.7h1M279.9 82.0h1M247.6 75.0h1M289.4 82.5h1M282.0 82.4h1M262.6 76.2h1M272.7 77.3h1M269.8 79.8h1M262.1 83.5h1M301.2 73.0h1M291.3 78.0h1M296.0 91.5h1M278.0 88.8h1M267.9 77.5h1M318.8 76.2h1M267.5 94.9h1M282.8 83.8h1M272.5 83.4h1M286.7 77.4h1M273.9 79.2h1M286.7 84.9h1M249.5 83.7h1M272.8 75.0h1M302.3 87.5h1M254.2 81.9h1M261.5 74.2h1M302.3 86.0h1M282.9 78.9h1M296.2 84.7h1M230.1 76.6h1M277.8 82.2h1M249.3 70.1h1M247.0 82.2h1M283.1 70.8h1M298.5 81.0h1M244.9 64.6h1M252.6 79.6h1M263.1 84.4h1M272.3 82.9h1M248.1 87.2h1M320.0 73.5h1M286.5 89.5h1M267.5 89.7h1M264.3 72.7h1M321.3 75.2h1M319.6 76.5h1M264.9 79.8h1M281.7 81.1h1M299.9 65.0h1M250.9 83.6h1M262.9 78.4h1M301.7 73.8h1M260.7 85.7h1M265.9 77.9h1M247.6 86.9h1M259.3 83.2h1M288.3 78.0h1M258.0 87.1h1M248.3 84.9h1M261.9 76.9h1M310.0 70.2h1M278.0 76.7h1M263.1 83.7h1M301.0 76.5h1M309.1 77.5h1M303.0 74.4h1M302.8 82.4h1M303.6 83.0h1M298.4 76.0h1M301.5 74.9h1M299.3 74.6h1M292.5 73.7h1M294.8 82.6h1M305.0 77.2h1M300.2 74.3h1M301.5 74.8h1M296.0 78.7h1M299.6 74.0h1M305.1 77.6h1M302.4 75.8h1M299.9 82.8h1M308.1 81.8h1M301.7 68.9h1M300.6 75.2h1M306.6 79.6h1M295.0 73.7h1M304.2 80.1h1M297.5 77.7h1M298.8 79.0h1M299.2 75.7h1M302.5 77.5h1M302.4 78.6h1M303.2 68.6h1M302.8 71.4h1M307.6 70.9h1M308.8 84.5h1M304.8 77.5h1M305.0 77.9h1M300.5 76.9h1M297.5 73.4h1M304.4 72.3h1M302.1 80.3h1M305.4 74.1h1M294.6 84.0h1M312.8 77.0h1M296.9 76.5h1M302.1 74.9h1M306.0 75.6h1M296.4 76.2h1M299.8 83.7h1M293.8 87.8h1M296.2 70.2h1M294.2 77.3h1M277.8 101.1h1M263.3 114.4h1M264.0 109.4h1M270.8 116.3h1M247.4 123.3h1M281.2 107.7h1M273.3 111.0h1M270.1 106.9h1M275.0 110.7h1M277.2 110.6h1M293.4 89.4h1M276.0 110.1h1M289.5 116.9h1M266.4 110.7h1M277.6 108.7h1M266.1 105.4h1M272.0 111.3h1M261.8 112.0h1M266.0 116.7h1M277.0 105.4h1M277.3 99.2h1M279.8 109.8h1M265.1 112.0h1M273.3 102.6h1M246.8 125.0h1M279.8 98.8h1M273.1 110.3h1M275.1 106.5h1M283.5 99.6h1M269.8 113.8h1M279.3 97.5h1M270.4 115.0h1M273.3 97.3h1M272.3 117.3h1M276.1 107.2h1M286.7 98.2h1M264.2 109.8h1M267.7 114.5h1M268.9 109.9h1M275.2 105.9h1M303.2 94.9h1M265.7 110.5h1M251.2 120.6h1M267.0 114.3h1M259.1 122.7h1M266.6 111.4h1M273.2 108.9h1M263.0 114.7h1M267.5 115.6h1M257.2 126.1h1M272.3 103.7h1M264.7 112.7h1M283.6 101.3h1M284.8 104.0h1M267.4 119.7h1M268.9 110.7h1M273.8 108.9h1M283.2 107.9h1M252.6 114.2h1M270.1 105.9h1M290.6 94.8h1M271.8 108.9h1M275.5 107.8h1M271.5 106.3h1M264.8 122.7h1M280.7 99.6h1M275.0 105.8h1M277.1 111.5h1M282.0 106.7h1M280.8 103.3h1M254.4 121.9h1M279.7 108.4h1M266.8 112.0h1M276.0 109.8h1M263.3 109.3h1M264.1 114.1h1M278.6 95.9h1M270.6 104.9h1M267.2 105.6h1M272.9 114.9h1M272.5 105.9h1M273.4 109.5h1M246.5 119.7h1M263.5 113.0h1M269.8 108.6h1M278.4 100.1h1M288.9 102.8h1M259.4 107.7h1M294.2 98.2h1M280.3 117.8h1M276.0 101.8h1M267.6 111.6h1M263.0 105.9h1M287.6 98.8h1M266.6 102.7h1M273.5 111.1h1M283.6 98.7h1M286.1 89.8h1M254.6 112.5h1M267.3 103.0h1M272.2 106.9h1M293.6 99.6h1M297.2 90.6h1M269.7 103.6h1M274.9 102.2h1M282.2 102.7h1M278.9 91.0h1M271.3 112.0h1M282.8 103.8h1M260.0 102.6h1M248.7 129.3h1M255.1 110.1h1M274.8 105.4h1M284.0 107.2h1M246.1 115.6h1M250.2 111.9h1M270.1 103.4h1M236.1 124.8h1M278.6 103.4h1M282.5 98.8h1M241.6 124.5h1M279.9 100.7h1M270.9 107.9h1M285.7 95.0h1M277.0 106.9h1M270.9 108.9h1M272.1 102.6h1M287.4 108.5h1M272.2 101.2h1M275.6 109.9h1M256.9 113.6h1M279.2 105.7h1M275.0 109.2h1M294.3 98.9h1M276.8 112.9h1M270.6 104.6h1M274.1 122.4h1M281.9 104.3h1M269.5 105.5h1M263.1 106.5h1M295.6 106.3h1M295.8 102.4h1M268.9 110.2h1M265.0 116.8h1M288.4 105.3h1M265.4 113.1h1M301.4 87.7h1M272.2 108.1h1M285.5 104.5h1M260.5 115.7h1M270.3 102.8h1M286.7 103.3h1M274.0 97.8h1M266.4 107.8h1M301.8 96.5h1M281.8 103.5h1M272.0 109.7h1M267.8 111.6h1M273.5 113.1h1M287.4 98.5h1" stroke="#a83848" stroke-width="1" opacity="0.6"/>
<path d="M245.5 126.1h1M233.6 125.9h1M248.8 129.1h1M250.5 114.2h1M243.3 126.3h1M245.5 132.7h1M254.7 125.7h1M243.4 134.1h1M242.7 128.7h1M247.1 129.7h1M251.9 125.4h1M251.2 123.1h1M245.5 129.2h1M247.7 131.5h1M245.6 116.9h1M244.5 123.3h1M239.7 118.2h1M240.1 124.0h1M250.4 118.9h1M246.0 124.4h1M264.7 119.3h1M253.2 129.5h1M245.4 133.4h1M246.8 122.4h1M249.3 123.2h1M251.4 128.3h1M249.7 122.3h1M250.1 123.4h1M244.4 117.8h1M253.0 128.3h1M261.5 123.1h1M243.9 122.5h1M243.7 120.7h1M250.6 119.8h1M256.1 125.8h1M252.2 122.3h1M253.4 118.1h1M247.2 124.7h1M248.0 130.6h1M253.8 130.7h1M254.1 131.1h1M258.2 123.6h1M257.8 124.4h1M237.6 131.2h1M253.7 127.9h1M245.0 130.3h1M234.0 125.9h1M249.3 122.1h1M246.5 124.8h1M247.0 130.3h1M239.6 126.4h1M240.8 124.7h1M248.3 131.5h1M241.3 136.0h1M246.0 122.3h1M248.5 125.5h1M248.9 132.0h1M249.2 123.9h1M249.0 130.7h1M238.9 122.0h1M241.5 127.3h1M249.8 129.1h1M256.1 131.6h1M250.3 130.5h1M242.5 119.8h1M246.7 118.9h1M235.9 125.8h1M243.3 132.1h1M246.8 130.5h1M249.2 131.5h1M247.1 130.2h1M245.5 124.2h1M240.3 126.9h1M243.2 123.3h1M250.7 129.7h1M235.0 124.0h1M240.9 129.0h1M246.2 128.1h1M258.7 129.2h1M250.8 121.5h1M257.9 125.2h1M254.4 119.1h1M246.8 132.0h1M247.0 124.8h1M240.5 127.2h1M253.5 119.6h1M251.4 122.1h1M250.5 122.2h1M251.0 122.2h1M252.4 130.8h1M247.7 121.3h1M250.0 126.9h1M256.4 127.9h1M241.5 122.6h1M238.5 118.4h1M248.7 128.5h1M252.4 116.4h1M248.2 122.3h1M246.6 126.3h1M253.3 126.0h1M248.2 124.9h1M235.6 126.7h1M243.4 132.9h1M235.8 131.4h1M249.5 135.7h1M243.9 123.0h1M250.5 125.1h1M260.5 122.0h1M245.2 130.0h1M248.4 127.4h1M245.7 127.2h1M234.1 140.9h1M243.2 127.1h1M244.3 129.8h1M249.9 126.7h1M242.1 125.1h1M241.4 132.3h1M248.7 116.6h1M249.3 131.8h1M240.3 120.9h1M243.0 126.4h1M246.3 127.4h1M252.1 122.5h1M255.7 121.2h1M242.0 134.4h1M258.6 135.2h1M249.9 131.1h1M250.4 126.4h1M252.8 121.6h1M241.1 124.7h1M254.9 130.3h1M241.6 133.0h1M247.2 133.4h1M244.4 132.6h1M260.1 129.2h1M256.9 120.4h1M251.3 121.2h1M249.6 120.7h1M244.8 127.2h1M258.1 122.1h1M256.5 124.1h1M251.6 119.0h1M247.6 127.3h1M247.2 130.7h1M247.6 126.8h1M251.9 111.3h1M242.4 128.0h1M248.2 124.4h1M259.2 127.4h1M253.1 123.9h1M259.4 125.9h1M250.0 123.7h1M251.1 127.0h1M257.8 128.1h1M251.6 123.8h1M250.6 127.1h1M245.3 128.0h1M240.2 132.0h1M256.8 122.8h1M246.4 129.3h1M241.0 119.3h1M253.0 123.5h1M244.1 131.8h1M241.2 132.0h1M243.4 122.9h1M246.6 122.7h1M250.4 127.6h1M251.8 126.9h1M254.7 126.5h1M247.6 126.8h1M250.5 126.0h1M249.1 131.2h1M243.0 123.2h1M248.5 119.1h1M251.8 130.2h1M258.1 119.2h1M252.8 128.2h1M243.1 124.5h1M250.1 120.0h1M249.1 133.8h1M257.5 122.9h1M236.0 123.0h1M244.0 126.5h1M244.1 126.7h1M248.6 125.0h1M247.7 127.2h1M237.1 124.0h1M236.8 128.5h1M250.0 127.9h1M257.8 126.2h1M257.0 123.8h1M244.7 123.3h1M248.0 116.3h1M245.3 134.5h1M238.0 123.8h1M254.8 121.7h1M252.3 124.9h1M246.9 128.9h1M246.0 126.8h1M252.5 120.7h1M250.1 125.4h1M249.3 136.3h1M253.6 137.1h1M247.9 125.2h1M246.8 129.9h1M241.4 119.6h1M254.0 125.4h1M246.5 130.4h1M240.9 127.1h1M261.7 131.1h1M256.9 127.8h1M252.3 128.0h1M244.0 114.4h1M248.5 123.0h1M240.8 132.2h1M247.4 124.0h1M247.3 117.6h1M246.2 124.0h1M253.1 132.4h1M244.8 130.8h1M250.6 129.9h1M239.3 130.1h1M250.5 133.7h1M240.4 114.6h1M238.6 123.3h1M248.7 135.8h1M249.9 131.0h1M245.1 128.5h1M253.2 122.9h1M241.4 119.3h1M253.1 122.5h1M252.3 124.2h1M243.3 123.2h1M258.7 129.8h1M241.7 133.6h1M250.9 124.0h1M249.9 130.3h1M252.6 124.6h1M239.4 130.5h1M240.4 126.4h1M247.0 139.3h1M246.0 119.4h1M248.4 125.5h1M249.8 131.0h1M248.1 131.5h1M241.5 120.2h1M238.6 124.6h1M245.4 126.7h1M250.0 121.7h1M253.0 121.3h1M244.7 126.2h1M254.1 123.6h1M241.7 134.0h1M250.1 117.1h1M243.2 133.3h1M249.1 124.9h1M243.3 130.9h1M241.8 126.6h1M248.3 138.2h1M253.7 115.4h1M245.9 133.1h1M251.0 123.2h1M248.6 125.0h1M251.9 132.3h1M249.6 124.9h1M253.1 129.3h1M243.2 135.3h1M247.4 123.6h1M253.1 135.0h1M246.5 133.3h1M249.8 124.7h1M242.4 129.4h1M251.2 121.8h1M244.4 129.1h1M247.7 131.0h1M254.2 129.5h1M254.7 125.4h1M244.0 125.1h1M243.4 124.7h1M252.4 120.2h1M230.8 130.6h1M256.8 126.7h1M254.8 121.3h1M240.8 125.3h1M253.5 119.3h1M251.0 128.4h1M250.4 124.4h1M232.1 123.4h1M246.8 132.5h1M248.5 131.7h1M245.7 127.3h1M245.3 125.6h1M246.3 126.8h1M229.9 127.7h1M248.4 131.4h1M246.0 134.1h1M249.1 131.3h1M245.5 128.5h1M248.4 127.5h1M250.5 128.3h1M261.0 130.9h1M242.0 124.4h1M257.9 123.1h1M245.6 123.8h1M241.0 122.6h1M240.0 130.7h1M254.8 130.0h1M237.6 124.5h1M254.8 129.2h1M251.0 128.9h1M245.4 129.7h1M246.1 133.9h1M249.9 122.5h1M251.3 133.5h1M251.8 123.4h1M248.8 128.9h1M242.7 120.4h1M252.6 129.9h1M241.0 128.9h1M252.1 122.2h1M246.8 121.6h1M241.7 129.5h1M244.0 134.4h1M246.9 129.5h1M236.8 128.3h1M255.0 120.3h1M252.1 119.8h1M241.1 127.0h1M244.9 119.3h1M257.4 121.5h1M252.0 130.7h1M241.9 128.1h1M235.1 129.8h1M237.4 126.8h1M256.0 127.4h1M250.8 128.7h1M242.4 135.4h1M251.1 121.8h1M244.2 122.0h1M243.1 124.9h1M243.1 121.8h1M245.1 127.0h1M257.2 121.2h1M241.1 124.2h1M245.5 126.9h1M257.3 128.4h1M257.9 126.7h1M241.2 125.4h1M260.2 122.5h1M254.9 125.7h1M240.1 132.2h1M258.1 121.3h1M237.3 123.3h1M252.5 126.6h1M239.7 124.1h1M236.9 128.1h1M252.6 123.5h1M251.8 129.7h1M246.8 124.3h1M249.3 126.7h1M247.0 125.5h1M245.6 124.3h1M242.9 132.4h1M250.7 123.1h1M248.8 128.5h1M246.9 128.1h1M241.8 119.0h1M243.8 119.3h1M234.3 114.9h1M246.6 128.3h1M242.5 129.4h1M254.8 121.5h1M241.5 125.8h1M244.8 125.7h1M247.1 123.4h1M252.6 124.6h1M250.6 125.3h1M246.7 122.2h1M262.9 128.6h1M249.4 131.0h1M249.3 123.9h1M267.4 131.0h1M246.3 139.2h1M255.5 130.1h1M252.4 130.9h1M239.3 126.2h1M243.8 126.1h1M250.6 117.5h1M238.7 127.3h1M248.3 131.2h1M252.9 122.7h1M244.1 119.2h1M251.9 133.2h1M246.9 136.6h1M246.5 134.5h1M242.0 120.6h1M247.1 130.8h1M250.5 121.4h1M248.2 125.6h1M260.7 125.8h1M253.5 132.3h1M248.7 123.0h1M260.8 120.5h1M245.4 120.8h1M243.2 128.0h1M247.4 121.6h1M240.7 126.2h1M252.2 128.9h1M256.1 123.7h1M251.9 125.7h1M246.0 128.5h1M248.3 130.3h1M252.9 131.8h1M253.3 118.8h1M243.2 119.8h1M246.3 129.6h1M255.5 127.5h1M251.3 132.3h1M251.2 129.3h1M253.4 133.4h1M244.1 130.2h1M246.2 123.8h1M255.8 128.9h1M245.7 122.6h1M245.8 123.6h1M250.4 127.7h1M249.9 124.5h1M264.5 125.8h1M242.6 126.2h1M251.5 134.5h1M258.5 117.8h1M249.3 129.6h1M249.6 123.5h1M241.5 135.7h1M252.9 121.9h1M254.3 128.2h1M248.2 110.3h1M245.8 123.4h1M252.7 133.3h1M247.9 127.4h1M253.2 125.2h1M249.3 130.5h1M256.3 136.0h1M238.4 124.0h1M246.0 126.7h1M230.4 129.8h1M248.2 130.0h1M251.6 121.7h1M244.2 119.8h1M259.7 114.9h1M243.1 131.4h1M246.3 128.1h1M243.8 132.2h1M242.7 120.1h1M243.9 123.2h1M238.5 126.8h1M243.5 132.3h1M260.8 124.6h1M246.2 126.2h1M252.0 120.1h1M240.8 129.8h1M246.6 124.5h1M252.5 129.5h1M249.6 134.8h1M245.2 128.0h1M245.2 121.7h1M251.7 137.4h1M253.9 127.8h1M256.0 126.6h1M240.3 129.6h1M236.0 131.3h1M247.0 127.3h1M248.4 127.7h1M250.1 118.2h1M253.3 121.2h1M243.9 127.4h1M260.5 123.2h1M249.9 126.9h1M238.1 131.9h1M251.0 116.3h1M248.2 121.6h1M248.7 122.9h1M238.7 130.2h1M245.9 126.2h1M251.9 135.3h1M246.5 125.1h1M251.8 124.1h1M253.2 117.0h1M259.8 131.9h1M255.6 124.5h1M247.0 126.3h1M257.3 120.2h1M249.7 126.4h1M252.6 123.3h1M248.4 132.6h1M238.5 125.5h1M233.9 128.9h1M248.3 123.7h1M244.9 130.5h1M248.5 128.1h1M254.8 129.3h1M239.7 132.0h1M238.4 132.6h1M249.7 126.3h1M251.6 130.0h1M247.1 129.3h1M245.4 129.1h1M236.2 122.3h1M246.8 124.6h1M242.6 124.8h1M247.9 117.4h1M255.6 130.7h1M246.9 134.3h1M252.1 130.7h1M250.0 128.8h1M254.4 132.0h1M254.7 115.9h1M253.9 131.1h1M249.2 115.9h1M253.0 125.7h1M245.7 127.9h1M248.8 128.9h1M251.1 128.8h1M256.5 127.4h1M254.7 120.8h1M260.5 119.0h1M240.3 124.8h1M248.0 127.2h1M237.2 128.3h1M242.4 120.2h1M239.7 134.1h1M253.3 119.0h1M251.8 122.8h1M240.5 125.2h1M248.9 122.4h1M253.3 127.7h1M257.3 119.9h1M250.8 118.3h1M247.8 123.2h1M245.9 121.9h1M249.5 118.2h1M251.2 130.1h1M246.9 132.7h1M238.6 122.2h1M256.6 131.6h1M246.4 136.2h1M244.3 120.6h1M253.4 126.8h1M247.3 125.3h1M256.0 128.1h1M237.0 115.2h1M253.5 127.8h1M239.5 127.4h1M239.8 131.6h1M243.1 132.5h1M245.2 115.4h1M243.9 127.5h1M239.8 129.1h1M256.1 126.9h1M244.0 133.5h1M248.5 130.2h1M248.4 122.4h1M246.2 130.6h1M249.0 122.3h1M252.8 128.8h1M247.1 125.9h1M253.9 123.6h1M244.7 128.2h1M239.3 121.2h1M248.7 124.6h1M240.5 122.9h1M251.6 130.0h1M249.3 132.5h1M243.1 120.8h1M248.1 115.1h1M251.6 126.5h1M229.5 129.6h1M244.7 122.8h1M252.2 136.7h1M250.3 123.6h1M243.2 122.8h1M240.7 127.4h1M249.2 127.5h1M254.4 132.4h1M236.2 131.9h1M237.2 123.7h1M243.8 125.4h1M235.3 139.9h1M241.8 119.7h1M252.8 124.7h1M243.4 133.9h1M249.2 127.4h1M242.4 127.2h1M249.2 121.6h1M252.1 126.0h1M256.6 126.4h1M248.8 127.4h1M255.8 129.1h1M250.7 126.7h1M247.1 133.3h1M257.0 124.3h1M245.8 131.8h1M248.5 124.7h1M265.2 129.7h1M255.1 130.6h1M244.1 131.3h1M248.3 121.4h1M245.0 128.5h1M242.8 113.4h1M238.5 127.8h1M249.5 126.9h1M237.4 125.6h1M250.4 126.5h1M251.2 128.9h1M255.7 133.2h1M261.3 122.3h1M235.8 122.6h1M237.4 118.1h1M241.8 127.7h1M246.0 131.8h1M254.9 130.0h1M246.1 127.7h1M243.5 124.7h1M240.2 125.5h1M244.0 127.1h1M245.5 127.8h1M248.3 129.5h1M239.6 129.9h1M250.5 135.9h1M251.6 126.2h1M250.8 128.2h1M242.1 133.8h1M254.3 129.3h1M251.9 122.1h1M247.4 118.6h1M238.7 123.0h1M239.8 131.2h1M249.1 129.2h1M242.4 130.2h1M241.2 132.8h1M255.3 130.8h1M252.3 121.3h1M255.7 137.1h1M259.8 136.3h1M254.6 128.4h1M240.8 128.1h1M255.3 125.6h1M246.7 120.0h1M250.7 125.9h1M256.2 119.9h1M250.5 125.3h1M257.0 122.1h1M251.4 136.0h1M244.5 123.4h1M244.3 129.4h1M246.6 125.1h1M240.3 137.2h1M249.2 131.6h1M245.0 119.9h1M243.4 123.2h1M235.1 132.3h1M234.3 128.0h1M252.9 127.3h1M242.4 128.9h1M254.6 119.0h1M243.3 126.7h1M250.9 128.1h1M239.3 129.1h1M244.4 128.5h1M247.3 128.8h1M251.3 125.0h1M260.1 129.6h1M251.9 119.0h1M240.1 131.6h1M247.3 124.3h1M247.6 128.8h1M245.5 131.8h1M252.5 128.4h1M258.5 126.7h1M246.4 131.0h1M255.5 126.9h1M256.1 122.9h1M242.8 132.1h1M260.1 127.7h1M259.5 127.3h1M250.2 127.4h1M258.7 124.6h1M246.6 117.1h1M253.7 120.7h1M251.7 124.5h1M244.4 132.9h1M251.4 131.6h1M247.3 127.6h1M243.4 122.4h1M241.9 131.1h1M244.8 132.7h1M241.8 132.5h1M253.8 121.2h1M234.7 125.5h1M247.2 122.3h1M242.8 122.9h1M242.0 133.6h1M252.9 126.6h1M246.5 138.1h1M257.7 131.8h1M248.5 131.6h1M249.0 122.8h1M248.2 129.9h1M252.6 127.4h1M251.6 118.3h1M243.5 121.7h1M246.9 123.2h1M260.5 129.0h1M244.0 125.9h1M256.8 116.7h1M245.8 127.8h1M245.6 130.4h1M236.1 124.3h1M245.8 137.0h1M236.5 126.5h1M246.2 132.5h1M253.2 128.4h1M246.6 123.3h1M244.2 127.2h1M241.9 128.6h1M243.4 126.3h1M240.4 132.9h1M240.5 129.3h1M257.1 114.8h1M249.6 126.5h1M240.8 123.1h1M251.7 124.2h1M257.4 124.7h1M244.0 127.3h1M248.9 131.4h1M240.4 128.6h1M237.7 127.3h1M258.7 131.4h1M269.6 123.3h1M243.4 127.4h1M238.3 129.7h1M255.9 121.9h1M254.5 124.9h1M249.4 121.2h1M259.5 131.8h1M247.8 132.9h1M246.3 115.7h1M251.3 120.6h1M246.1 126.9h1M249.9 122.6h1M243.4 117.2h1M251.8 128.8h1M247.2 120.7h1M237.2 133.5h1M249.2 128.4h1M241.7 136.3h1M241.6 124.1h1M240.7 138.1h1M251.0 119.3h1M248.3 134.1h1M247.3 132.2h1M256.1 126.1h1M250.6 120.2h1M249.1 134.4h1M236.7 134.3h1M249.5 117.6h1M242.5 115.1h1M244.8 124.2h1M251.1 121.1h1M245.3 131.0h1M247.7 127.3h1M253.8 126.3h1M250.6 123.1h1M245.7 132.1h1M255.8 121.1h1M252.6 117.3h1M255.7 111.8h1M248.5 129.0h1M248.4 123.3h1M251.7 116.6h1M249.3 121.6h1M248.3 124.5h1M248.4 129.9h1M243.0 117.3h1M243.5 125.9h1M245.3 131.2h1M251.2 127.9h1M247.4 130.9h1M242.5 138.4h1M247.1 122.5h1M257.1 120.6h1M257.8 128.9h1M238.4 138.0h1M243.5 129.9h1M252.2 123.7h1M246.8 121.2h1M249.4 129.4h1M247.8 128.6h1M246.8 121.6h1M241.2 126.3h1M253.7 119.9h1M242.7 131.4h1M247.0 126.3h1M259.1 129.5h1M256.6 130.8h1M248.6 128.3h1M249.8 132.2h1M246.1 132.7h1M247.4 134.6h1M246.0 125.1h1M257.1 127.1h1M248.3 136.2h1M252.5 128.8h1M250.1 124.1h1M251.0 127.2h1M249.9 138.0h1M252.0 123.6h1M248.2 123.7h1M250.2 130.9h1M244.8 126.1h1M233.0 123.8h1M250.2 118.2h1M252.8 125.5h1M244.3 125.0h1M249.4 134.0h1M249.1 123.6h1M240.4 122.4h1M251.3 121.9h1M250.7 119.8h1M255.1 130.6h1M252.6 121.5h1M239.2 137.5h1M252.3 128.5h1M248.7 137.1h1M254.8 124.3h1M255.9 128.8h1M250.0 115.7h1M247.1 124.9h1M263.9 118.0h1M249.7 132.3h1M241.9 128.3h1M255.1 128.1h1M238.6 126.4h1M257.8 117.2h1M254.3 124.6h1M258.2 130.4h1M254.5 124.6h1M253.1 133.4h1M240.0 127.9h1M244.3 126.4h1M251.2 124.2h1M246.8 126.1h1M249.6 123.0h1M244.0 127.1h1M242.5 124.7h1M248.6 121.5h1M255.1 132.5h1M249.8 131.0h1M242.2 127.4h1M237.6 127.3h1M258.1 115.7h1M242.5 131.8h1M242.2 125.5h1M247.0 137.2h1M251.1 117.1h1M244.4 130.0h1M253.4 131.5h1M249.3 123.9h1M244.6 138.6h1M250.8 131.3h1M242.6 133.9h1M246.1 123.3h1M254.3 130.3h1M248.4 132.1h1M243.1 129.4h1M248.5 136.1h1M247.7 128.9h1M246.9 115.9h1M235.2 133.0h1M240.0 138.7h1M250.3 123.3h1M248.7 130.7h1M247.3 124.1h1M249.5 126.6h1M243.2 114.8h1M242.8 119.5h1M248.4 125.5h1M251.3 123.1h1M247.4 117.7h1M249.3 130.3h1M242.5 130.7h1M248.2 122.5h1M238.2 119.6h1M245.0 131.0h1M248.3 124.4h1M249.9 130.1h1M256.3 130.1h1M252.8 123.6h1M250.6 124.9h1M247.3 131.1h1M247.6 125.7h1M243.7 118.1h1M259.3 126.3h1M251.3 127.4h1M243.3 125.4h1M243.8 130.8h1M254.8 122.6h1M242.3 126.5h1M251.4 129.7h1M247.0 119.9h1M251.9 117.1h1M242.6 127.6h1M248.8 119.6h1M250.5 130.2h1M251.6 121.6h1M253.5 115.9h1M248.0 124.5h1M243.3 116.6h1M255.3 131.2h1M239.7 129.1h1M250.2 129.4h1M243.0 130.9h1M241.2 129.8h1M237.1 124.8h1M239.4 133.4h1M252.5 123.4h1M252.1 121.3h1M245.6 116.9h1M256.1 130.5h1M247.9 125.4h1M244.5 125.6h1M238.8 119.8h1M254.0 129.4h1M252.7 124.5h1M257.1 128.8h1M243.3 127.9h1M245.1 123.1h1M241.0 131.8h1M252.5 117.1h1M249.9 118.0h1M251.0 125.2h1M249.1 130.0h1M248.9 132.0h1M245.8 126.8h1M254.4 123.9h1M244.7 128.7h1M253.1 123.9h1M249.1 123.6h1M242.9 130.8h1M238.8 127.0h1M243.2 127.0h1M249.7 132.1h1M240.8 130.0h1M251.1 122.9h1M255.9 127.6h1M251.1 124.8h1M239.1 132.9h1M232.9 127.1h1M252.1 121.3h1M254.8 117.0h1M247.5 132.5h1M253.3 132.0h1M248.3 132.5h1M244.9 129.4h1M254.3 125.5h1M244.5 126.5h1M254.1 127.6h1M258.1 122.3h1M245.9 122.1h1M260.7 127.5h1M241.7 133.2h1M254.4 127.2h1M248.1 126.2h1M262.8 119.8h1M248.5 126.8h1M243.7 129.0h1M256.0 118.0h1M238.3 127.3h1M249.2 120.8h1M245.2 133.1h1M254.3 117.6h1M245.7 121.1h1M251.9 120.7h1M248.1 127.3h1M240.2 124.3h1M237.9 138.7h1M259.8 126.4h1M245.9 115.0h1M241.6 129.7h1M246.8 128.6h1M252.1 118.7h1M239.1 128.9h1M261.7 122.4h1M245.6 124.0h1M245.7 126.7h1M256.2 125.5h1M248.6 123.7h1M242.0 128.1h1M251.7 119.1h1M251.7 128.4h1M253.8 121.3h1M244.4 133.8h1M244.4 138.1h1M254.3 132.9h1M244.8 125.1h1M235.8 132.6h1M244.2 126.4h1M252.5 127.3h1M242.5 124.0h1M254.1 119.3h1M244.9 127.2h1M246.2 122.9h1M240.1 135.2h1M244.3 131.3h1M247.4 128.3h1M251.2 124.6h1M248.9 125.3h1M255.8 128.8h1M235.1 131.0h1M248.2 126.4h1M249.9 135.3h1M242.0 129.1h1M247.3 125.3h1M243.2 126.8h1M252.4 131.5h1M245.2 124.8h1M250.3 123.3h1M244.2 133.2h1M257.3 129.3h1M252.5 132.1h1M257.4 119.1h1M247.8 128.7h1M244.1 124.8h1M249.4 128.1h1M242.8 120.1h1M241.5 127.6h1M249.7 131.4h1M247.9 127.5h1M240.5 116.7h1M247.2 131.8h1M242.7 130.0h1M248.5 124.9h1M239.9 129.1h1M257.7 121.7h1M249.9 131.7h1M253.6 124.5h1M238.4 121.5h1M248.8 121.9h1M249.6 134.2h1M255.6 129.7h1M254.4 128.5h1M237.0 126.1h1M255.7 126.7h1M240.6 134.1h1M256.2 124.4h1M248.8 130.0h1M242.5 134.1h1M253.8 129.9h1M248.9 128.5h1M242.8 130.6h1M241.7 122.3h1M250.4 124.3h1M241.0 133.0h1M245.4 136.1h1M259.4 123.8h1M245.0 133.0h1M250.3 125.9h1M249.3 121.3h1M254.4 126.7h1M254.0 127.0h1M231.5 127.4h1M243.8 123.6h1M255.2 124.5h1M242.5 125.8h1M259.7 125.3h1M247.5 119.9h1M241.9 132.7h1M250.5 122.6h1M260.3 124.4h1M241.7 120.7h1M252.8 129.8h1M243.0 129.2h1M247.7 137.4h1M246.3 118.7h1M248.4 117.2h1M251.2 129.2h1M250.7 130.3h1M259.9 113.7h1M242.3 131.1h1M238.2 134.5h1M253.5 131.9h1M249.4 126.8h1M237.1 122.3h1M255.6 114.3h1M247.0 137.6h1M240.2 131.2h1M252.1 130.3h1M251.4 123.8h1M261.9 120.9h1M238.5 128.6h1M239.0 124.8h1M246.0 125.8h1M243.8 122.3h1M247.0 124.8h1M245.4 133.1h1M238.7 129.8h1M244.4 124.4h1M254.9 133.1h1M254.8 131.0h1M244.2 128.1h1M248.7 117.5h1M252.5 131.7h1M247.0 133.6h1M245.1 124.6h1M250.5 133.1h1M263.7 117.3h1M248.7 125.0h1M242.0 126.2h1M247.4 127.7h1M244.5 127.1h1M257.1 130.9h1M234.5 129.2h1M242.1 130.8h1M253.2 125.2h1M251.0 126.9h1M247.0 122.7h1M252.4 125.0h1M242.1 135.6h1M251.5 129.7h1M239.4 123.4h1M239.7 127.3h1M249.6 121.0h1M242.2 124.8h1M245.0 124.3h1M250.1 119.7h1M242.5 130.8h1M253.1 129.5h1M261.9 122.9h1M246.2 124.8h1M254.2 125.4h1M251.6 121.6h1M242.0 133.9h1M243.3 140.0h1M244.1 114.3h1M235.8 132.5h1M248.5 126.7h1M250.0 127.0h1M250.5 124.4h1M248.6 118.8h1M256.1 123.6h1M245.5 125.4h1M256.1 123.2h1M251.3 125.3h1M250.6 123.2h1M250.6 137.4h1M252.1 119.0h1M243.0 126.3h1M250.7 119.3h1M254.7 123.6h1M246.4 135.0h1M242.3 128.2h1M242.3 124.2h1M245.9 120.5h1M251.2 128.3h1M252.4 121.5h1M260.6 125.7h1M257.0 120.1h1M249.0 123.5h1M245.7 127.0h1M238.4 121.4h1M255.0 130.4h1M249.6 120.3h1M246.7 127.8h1M247.8 128.9h1M251.0 137.5h1M233.2 133.8h1M249.1 130.5h1M249.4 123.5h1M247.2 126.1h1M241.7 128.6h1M250.0 131.3h1M249.6 121.0h1M259.7 124.8h1M258.8 137.5h1M250.3 120.9h1M245.1 118.2h1M239.3 126.8h1M245.1 126.8h1M242.3 136.9h1M248.3 129.0h1M256.3 129.7h1M253.5 121.2h1M253.6 124.6h1M248.7 127.8h1M252.9 120.7h1M247.0 128.4h1M235.9 129.1h1M249.4 127.3h1M246.3 120.1h1M234.6 120.7h1M247.0 133.9h1M233.4 131.6h1M245.2 127.1h1M259.4 136.0h1M245.8 132.5h1M256.8 126.1h1M248.6 123.2h1M244.3 129.8h1M237.8 131.2h1M252.4 124.0h1M254.4 131.9h1M240.3 133.1h1M246.5 130.2h1M253.7 120.8h1M242.7 125.0h1M252.3 131.0h1M236.7 131.7h1M241.8 126.0h1M253.1 126.8h1M241.1 129.2h1M238.8 127.6h1M239.5 128.7h1M247.1 131.0h1M239.2 131.4h1M246.3 123.1h1M250.5 122.3h1M258.0 125.1h1M244.3 122.8h1M258.2 124.2h1M251.5 125.1h1M245.0 121.3h1M247.8 114.8h1M256.2 119.9h1M257.3 123.7h1M252.8 125.2h1M249.5 132.6h1M253.3 125.1h1M249.4 125.9h1M249.8 128.1h1M249.1 124.2h1M261.8 131.0h1M240.1 126.4h1M246.5 122.9h1M240.8 126.5h1M255.2 130.5h1M254.1 121.9h1M255.3 120.5h1M246.9 130.0h1M250.3 131.9h1M252.2 123.2h1M250.3 129.4h1M249.0 123.0h1M251.5 132.6h1M248.3 121.1h1M247.1 125.6h1M250.2 123.7h1M238.0 125.2h1M245.5 127.0h1M241.1 132.2h1M246.4 122.9h1M246.6 136.7h1M251.8 126.6h1M256.3 125.6h1M239.5 125.4h1M243.4 127.8h1M251.5 129.9h1M255.5 119.1h1M251.9 121.8h1M249.7 121.8h1M245.9 120.6h1M246.4 130.2h1M249.3 122.1h1M253.7 133.0h1M247.3 120.4h1M244.2 126.1h1M238.5 129.8h1M241.6 123.6h1M242.7 117.4h1M240.2 125.8h1M250.1 125.7h1M238.1 124.9h1M246.7 128.3h1M247.5 117.3h1M253.5 126.2h1M252.7 135.5h1M256.9 128.5h1M246.1 132.2h1M242.9 126.4h1M254.1 122.4h1M244.5 133.3h1M246.7 125.3h1M238.6 132.8h1M253.5 119.8h1M253.1 126.8h1M243.9 128.7h1M234.3 119.8h1M249.5 125.4h1M250.6 128.5h1M256.0 126.6h1M259.9 124.5h1M251.5 131.9h1M246.7 126.6h1M245.6 123.4h1M247.7 131.2h1M243.0 138.9h1M242.2 126.7h1M249.9 133.6h1M237.9 128.9h1M238.0 122.3h1M254.2 120.0h1M242.8 123.9h1M254.7 130.2h1M254.9 124.8h1M247.4 123.9h1M253.3 125.4h1M249.1 133.2h1M242.7 127.8h1M246.4 123.4h1M249.1 128.0h1M247.6 122.4h1M249.3 128.6h1M247.2 131.8h1M254.8 125.2h1M246.3 124.9h1M245.8 127.8h1M251.7 118.2h1M244.5 135.6h1M251.7 137.3h1M257.1 123.6h1M245.5 116.9h1M255.8 120.6h1M244.5 120.3h1M242.3 118.9h1M247.0 126.1h1M244.6 126.8h1M245.1 124.2h1M247.2 132.4h1M253.1 125.0h1M249.2 121.2h1M247.6 128.7h1M241.8 122.1h1M267.0 118.5h1M245.8 123.0h1M257.1 125.0h1M240.7 127.5h1M242.9 125.2h1M256.0 125.2h1M242.3 130.7h1M242.2 129.6h1M249.6 131.6h1M242.3 123.1h1M247.1 128.8h1M251.7 133.8h1M253.5 124.8h1M246.1 115.9h1M251.5 130.3h1M255.9 122.9h1M257.7 126.6h1M246.5 128.4h1M238.0 132.9h1M244.0 134.0h1M254.9 124.9h1M246.5 131.0h1M242.1 121.9h1M244.2 123.2h1M257.7 122.7h1M251.0 133.5h1M244.8 123.4h1M243.5 126.2h1M242.6 131.6h1M264.5 118.5h1M246.1 120.5h1M246.2 117.1h1M247.5 130.6h1M253.0 119.1h1M242.7 130.0h1M237.5 132.5h1M243.3 123.0h1M251.0 127.8h1M258.7 112.2h1M247.6 126.0h1M241.5 123.3h1M247.2 127.9h1M243.9 128.8h1M243.8 128.8h1M249.7 129.1h1M249.1 122.9h1M242.1 121.1h1M253.0 118.6h1M249.3 131.1h1M247.4 121.4h1M244.6 125.8h1M251.0 127.3h1M250.5 124.9h1M250.8 120.5h1M240.2 118.3h1M253.5 129.4h1M244.0 124.8h1M246.5 118.7h1M251.8 122.0h1M257.5 123.6h1M242.7 118.2h1M241.8 129.2h1M249.2 126.1h1M256.3 126.0h1M246.3 127.1h1M261.5 117.0h1M234.5 122.6h1M257.1 122.5h1M254.6 121.7h1M257.3 131.2h1M242.9 126.6h1M257.1 125.5h1M255.5 124.3h1M253.2 115.9h1M248.1 130.2h1M246.2 124.7h1M254.0 117.1h1M251.0 127.5h1M248.0 132.7h1M243.1 127.4h1M249.5 124.5h1M239.2 126.0h1M251.2 123.2h1M250.9 131.1h1M239.1 129.7h1M251.7 127.3h1M256.4 126.6h1M245.5 112.4h1M240.5 129.6h1M245.5 130.1h1M253.7 125.7h1M238.3 122.0h1M244.9 123.4h1M256.2 127.1h1M247.2 128.7h1M245.4 129.5h1M251.5 119.5h1M258.4 124.4h1M252.8 132.1h1M240.3 129.1h1M240.6 135.6h1M248.0 130.7h1M238.6 133.6h1M246.8 123.4h1M252.8 121.5h1M231.2 128.4h1M248.9 131.9h1M252.1 131.3h1M243.5 122.6h1M248.7 119.7h1M251.5 125.9h1M256.5 130.2h1M265.0 122.2h1M251.1 128.5h1M243.5 130.2h1M242.9 130.9h1M240.6 128.1h1M253.3 127.1h1M251.3 128.7h1M250.9 124.9h1M251.9 133.5h1M256.3 118.3h1M254.3 122.4h1M253.1 120.5h1M245.7 132.5h1M247.9 131.9h1M239.3 125.4h1M244.4 127.9h1M248.1 124.1h1M238.8 122.5h1M243.2 123.9h1M260.9 123.8h1M248.0 129.2h1M238.1 125.9h1M240.7 128.7h1M248.9 130.2h1M255.4 130.9h1M248.2 128.0h1M252.3 120.9h1M247.8 118.5h1M241.6 128.8h1M254.0 122.9h1M244.7 124.5h1M258.6 119.5h1M243.9 124.9h1M247.6 127.3h1M246.0 130.4h1M245.4 123.1h1M253.8 133.8h1M249.2 133.1h1M255.1 122.9h1M251.3 126.9h1M260.1 130.1h1M247.4 122.0h1M255.2 121.0h1M254.7 121.2h1M246.0 122.0h1M264.7 124.6h1M257.1 122.4h1M251.8 125.7h1M247.3 127.1h1M247.6 125.6h1M249.5 133.5h1M249.8 125.0h1M240.3 124.7h1M246.7 120.0h1M243.7 124.4h1M258.7 123.9h1M253.3 125.6h1M258.9 124.3h1M262.2 119.7h1M251.9 127.3h1M261.2 124.4h1M248.9 120.1h1M252.8 126.9h1M243.3 130.0h1M248.5 124.9h1M258.7 128.5h1M251.5 125.6h1M245.1 123.6h1M249.9 130.6h1M246.6 135.8h1M242.7 122.4h1M239.7 128.8h1M256.4 128.1h1M256.0 126.9h1M249.3 131.1h1M242.3 134.9h1M244.4 118.7h1M261.6 125.5h1M238.1 121.6h1M244.0 123.0h1M244.0 122.3h1M254.0 126.9h1M238.4 121.3h1M250.2 126.3h1M241.3 121.1h1M249.2 136.0h1M240.4 126.3h1M251.6 125.2h1M243.8 121.9h1M244.0 124.8h1M257.0 130.1h1M250.9 126.7h1M261.0 116.4h1M250.3 123.2h1M248.8 125.4h1M251.8 134.0h1M264.9 120.4h1M256.7 125.8h1M248.3 131.6h1M253.9 136.5h1M246.3 130.2h1M250.9 120.1h1M244.0 122.8h1M247.7 135.1h1M251.8 127.3h1M253.8 114.9h1M252.9 122.3h1M252.3 122.7h1M248.2 124.7h1M234.9 133.9h1M248.5 129.7h1M249.2 132.8h1M248.9 116.7h1M259.5 124.2h1M252.8 123.9h1M236.4 124.9h1M249.8 130.1h1M245.1 120.7h1M250.7 118.6h1M250.5 133.8h1M237.5 131.9h1M244.2 131.8h1M248.4 132.9h1M234.2 124.5h1M249.7 132.8h1M246.8 127.4h1M255.7 126.7h1M248.9 130.3h1M245.6 130.5h1M247.0 124.9h1M248.4 126.3h1M254.5 125.2h1M244.1 133.1h1M231.4 120.7h1M267.1 127.4h1M251.5 120.7h1M251.8 136.3h1M263.7 123.8h1M244.0 136.7h1M243.2 126.9h1M248.2 135.2h1M251.9 127.4h1M246.1 129.2h1M253.7 127.0h1M242.5 115.7h1M254.0 117.1h1M248.7 118.1h1M238.4 130.1h1M247.8 125.5h1M242.6 132.4h1M248.0 128.3h1M250.1 132.1h1M260.8 118.8h1M247.4 128.5h1M237.7 127.3h1M247.2 120.9h1M238.5 120.6h1M259.2 122.4h1M251.2 120.8h1M257.0 120.9h1M244.4 122.8h1M240.2 123.4h1M254.2 138.7h1M239.9 129.3h1M240.4 122.3h1M243.3 127.0h1M247.3 126.8h1M236.7 122.6h1M237.2 135.3h1M255.5 119.3h1M245.6 129.8h1M246.3 124.6h1M250.6 121.4h1M255.6 140.3h1M243.2 124.8h1M243.2 120.2h1M257.2 120.7h1M254.3 119.2h1M254.3 129.8h1M259.0 124.9h1M234.9 124.5h1M251.6 134.1h1M246.2 125.7h1M234.5 124.0h1M251.9 130.5h1M253.1 127.9h1M248.3 121.0h1M235.5 124.6h1M246.7 125.9h1M248.5 122.7h1M247.6 129.2h1M250.4 126.9h1M249.5 119.7h1M255.3 118.3h1M249.3 124.5h1M266.3 126.9h1M248.6 122.8h1M250.9 128.3h1M252.1 121.6h1M248.5 128.3h1M245.5 124.1h1M256.5 125.6h1M233.9 126.3h1M236.4 126.2h1M263.9 130.9h1M254.2 128.9h1M249.8 119.2h1M251.9 130.9h1M249.8 124.7h1M244.6 134.2h1M244.6 120.4h1M241.9 127.6h1M254.7 121.8h1M251.2 121.5h1M248.1 120.2h1M253.6 134.3h1M247.5 126.3h1M240.8 126.9h1M256.3 115.0h1M254.0 130.0h1M249.0 131.6h1M251.7 124.1h1M254.1 117.2h1M256.5 126.4h1M252.4 124.8h1M251.3 117.7h1M250.1 136.2h1M257.8 126.8h1M252.7 119.6h1M253.0 120.5h1M241.7 132.3h1M254.1 130.4h1M253.4 127.6h1M254.1 127.0h1M232.0 129.6h1M240.1 139.5h1M249.7 124.4h1M243.0 129.2h1M251.3 127.3h1M247.4 125.2h1M254.8 128.2h1M247.3 134.6h1M238.5 118.2h1M251.2 124.3h1M248.5 132.7h1M243.3 135.2h1M235.5 128.2h1M268.6 123.3h1M246.4 128.0h1M247.1 127.6h1M235.3 127.4h1M243.6 133.1h1M249.1 132.3h1M252.7 133.2h1M253.5 126.1h1M243.9 128.6h1M253.0 130.7h1M260.4 139.6h1M244.8 126.4h1M247.7 126.2h1M239.9 138.3h1M241.6 122.9h1M236.0 117.6h1M253.9 129.8h1M249.3 133.4h1M260.1 129.5h1M251.0 130.8h1M254.9 130.1h1M250.4 122.3h1M251.1 131.0h1M240.2 124.1h1M256.1 116.0h1M247.4 125.7h1M235.0 124.3h1M243.1 122.6h1M240.5 125.8h1M254.9 122.2h1M255.0 125.1h1M256.2 118.7h1M260.9 119.4h1M244.1 127.1h1M236.9 131.0h1M243.2 130.6h1M252.0 129.2h1M231.9 133.0h1M245.3 129.8h1M254.5 127.9h1M243.0 128.1h1M247.8 127.6h1M241.3 124.1h1M259.5 124.0h1M261.9 127.1h1M241.0 125.5h1M245.0 134.3h1M248.4 123.8h1M254.3 130.1h1M253.6 133.4h1M252.8 126.2h1M254.1 122.6h1M256.8 126.0h1M259.7 120.7h1M248.5 121.8h1M247.4 132.1h1M245.5 117.6h1M264.1 126.0h1M253.0 121.0h1M254.8 129.1h1M256.6 121.2h1M259.4 132.2h1M262.9 119.2h1M240.6 117.5h1M254.7 139.4h1M253.8 124.9h1M253.9 124.0h1M246.6 127.0h1M238.4 128.0h1M247.7 128.2h1M243.5 124.1h1M251.6 136.6h1M254.7 120.8h1M254.3 127.8h1M243.8 134.8h1M243.9 126.7h1M251.4 129.9h1M255.1 121.5h1M246.9 121.8h1M249.0 122.1h1M241.0 134.4h1M247.3 132.1h1M242.4 123.7h1M251.5 130.6h1M245.6 122.7h1M243.5 128.9h1M242.9 131.8h1M246.8 116.4h1M245.4 130.5h1M255.1 122.6h1M247.2 119.2h1M247.8 130.0h1M254.5 125.8h1M241.5 130.4h1M253.7 123.2h1M242.9 124.7h1M250.9 118.8h1M243.8 126.6h1M240.9 123.4h1M236.2 128.0h1M249.2 128.1h1M252.5 129.0h1M240.2 131.1h1M259.7 124.1h1M247.8 125.1h1M242.7 133.0h1M262.2 127.8h1M245.0 124.9h1M256.7 121.4h1M229.2 127.5h1M261.2 120.6h1M248.7 123.9h1M251.1 135.4h1M252.2 132.0h1M239.0 122.4h1M255.1 128.1h1M250.6 124.3h1M247.6 117.6h1M245.0 128.7h1M239.9 125.5h1M250.9 127.0h1M254.0 127.1h1M248.0 123.0h1M249.2 133.7h1M245.1 128.0h1M251.4 121.3h1M254.7 115.9h1M250.5 136.9h1M241.7 124.4h1M263.5 121.7h1M238.9 130.8h1M251.1 129.9h1M245.5 120.3h1M252.6 112.4h1M247.4 127.1h1M235.6 122.7h1M240.7 127.3h1M251.9 135.6h1M247.1 123.6h1M245.0 130.8h1M243.0 122.3h1M238.4 127.5h1M244.8 129.4h1M243.6 127.0h1M246.3 123.7h1M242.4 133.6h1M257.4 122.0h1M235.9 125.5h1M252.7 122.0h1M251.1 123.7h1M258.1 123.4h1M256.9 124.0h1M238.8 125.0h1M249.6 123.0h1M256.0 134.2h1M253.6 123.0h1M253.4 131.3h1M244.0 125.1h1M256.7 125.1h1M246.5 123.3h1M242.2 117.8h1M248.5 123.0h1M246.8 130.9h1M246.0 133.2h1M250.6 130.7h1M263.6 118.1h1M249.7 123.7h1M247.0 120.4h1M245.9 128.0h1M251.6 128.9h1M241.3 129.3h1M250.1 121.4h1M250.5 127.2h1M248.9 126.1h1M251.9 127.1h1M246.8 125.4h1M252.7 125.5h1M250.5 121.4h1M250.4 120.9h1M244.5 114.1h1M254.0 125.1h1M247.4 127.0h1M254.7 118.8h1M249.9 133.3h1M258.0 129.0h1M252.4 133.4h1M247.9 125.5h1M241.7 126.8h1M252.7 126.3h1M251.9 129.6h1M250.9 132.9h1M249.4 120.8h1M248.9 125.0h1M239.6 118.4h1M240.7 127.2h1M253.6 129.0h1M250.5 128.9h1M261.3 134.0h1M261.8 125.2h1M252.8 122.5h1M251.2 121.3h1M252.3 126.2h1M251.5 133.6h1M242.6 121.5h1M230.8 126.9h1M253.2 124.9h1M251.5 123.3h1M249.9 130.2h1M248.5 123.7h1M254.4 124.4h1M254.0 124.2h1M249.9 126.7h1M248.9 133.0h1M250.1 118.9h1M250.7 116.4h1M259.7 114.7h1M242.4 126.5h1M251.6 125.6h1M243.8 130.3h1M246.1 128.5h1M263.0 122.0h1M243.1 118.6h1M246.6 123.3h1M245.5 129.2h1M251.8 118.6h1M245.1 124.7h1M237.5 127.4h1M250.0 128.1h1M252.1 120.3h1M245.7 118.3h1M248.8 124.1h1M243.6 126.1h1M243.8 131.8h1M247.5 123.3h1M241.0 127.3h1M244.8 124.6h1M241.5 125.8h1M250.0 136.2h1M249.3 112.7h1M249.0 128.9h1M254.0 120.1h1M250.6 125.7h1M245.1 119.2h1M243.0 128.8h1M247.6 122.1h1M241.9 131.0h1M254.9 130.9h1M238.1 123.0h1M237.2 121.4h1M244.7 133.2h1M240.8 138.6h1M248.9 126.0h1M240.3 118.0h1M243.0 119.8h1M253.4 129.3h1M237.2 138.7h1M246.5 126.0h1M248.3 119.1h1M256.2 129.5h1M246.9 119.5h1M243.0 124.3h1M253.0 121.3h1M252.9 121.3h1M262.6 124.2h1M259.9 117.3h1M247.1 127.2h1M258.3 128.5h1M251.1 130.8h1M243.9 134.4h1M252.0 123.0h1M253.6 115.6h1M234.0 131.7h1M256.7 124.5h1M243.5 129.1h1M257.5 121.1h1M250.3 127.8h1M247.6 121.1h1M258.0 127.2h1M248.8 135.1h1M261.3 122.6h1M242.4 128.4h1M245.5 130.4h1M242.3 130.9h1M252.4 127.8h1M248.0 127.3h1M252.7 123.3h1M257.3 131.3h1M251.2 119.1h1M256.5 129.3h1M253.6 120.1h1M248.3 128.6h1M242.1 123.3h1M239.7 121.0h1M251.1 119.9h1M243.3 122.8h1M244.1 134.4h1M242.0 125.1h1M245.6 123.4h1M247.9 121.2h1M258.9 113.0h1M260.5 115.5h1M264.2 112.4h1M255.4 117.7h1M252.4 120.7h1M259.6 114.7h1M268.5 114.4h1M266.0 112.5h1M255.4 122.0h1M254.7 113.6h1M263.0 114.1h1M255.9 116.7h1M247.6 116.1h1M265.8 120.4h1M255.9 113.3h1M264.2 116.5h1M267.9 113.9h1M259.5 120.9h1M252.2 119.2h1M250.8 111.6h1M267.2 113.8h1M261.2 114.7h1M267.2 113.9h1M258.1 116.6h1M268.2 115.9h1M258.4 119.1h1M255.8 117.3h1M265.2 122.3h1M258.8 114.3h1M255.1 110.3h1M261.4 115.6h1M268.2 112.6h1M257.3 120.1h1M247.9 121.7h1M263.6 113.6h1M272.0 104.8h1M267.2 109.7h1M253.9 122.6h1M262.9 112.0h1M269.7 112.6h1M266.5 110.8h1M273.4 107.7h1M266.0 110.8h1M244.0 131.0h1M264.9 113.3h1M254.1 116.6h1M254.8 119.9h1M251.4 126.4h1M252.6 121.9h1M256.4 114.1h1M266.9 108.5h1M266.7 107.5h1M267.8 116.4h1M269.5 110.5h1M259.7 119.7h1M256.6 121.5h1M273.2 106.0h1M266.0 116.5h1M258.2 116.6h1M266.5 113.0h1M252.0 112.9h1M271.3 108.1h1M251.1 120.0h1M255.7 115.5h1M259.9 116.7h1M257.1 112.6h1M251.7 120.1h1M261.9 104.2h1M264.6 111.9h1M259.8 113.0h1M267.9 117.6h1M257.9 117.8h1M268.4 112.6h1M251.4 109.4h1M252.6 118.7h1M257.4 112.6h1M261.8 119.8h1M264.9 116.3h1M265.6 112.5h1M272.6 108.1h1M251.9 121.3h1M249.8 122.0h1M263.9 115.7h1M270.8 111.0h1M267.6 110.1h1M258.8 113.5h1M262.2 120.7h1M258.1 115.1h1M271.6 105.1h1M263.8 122.5h1M263.4 113.9h1M252.4 120.0h1M264.8 107.1h1M258.2 112.6h1M261.8 120.1h1M258.4 115.4h1M262.3 118.9h1M277.5 100.0h1M266.8 114.7h1M265.9 112.6h1M255.3 117.3h1M248.3 116.3h1M249.1 128.4h1M257.5 118.1h1M262.3 114.3h1M264.4 116.7h1M249.5 118.7h1M268.3 116.3h1M259.0 120.0h1M270.0 111.8h1M260.7 118.0h1M260.4 113.1h1M256.1 118.0h1M257.5 119.5h1M260.6 113.6h1M267.7 116.5h1M267.7 114.4h1M259.1 122.3h1M250.2 116.4h1M267.1 117.7h1M269.1 108.2h1M256.6 115.2h1M258.0 116.3h1M261.0 121.2h1M264.5 115.0h1M268.6 112.1h1M257.0 122.3h1M266.3 116.4h1M273.2 112.2h1M267.2 115.3h1M256.8 119.4h1M252.6 123.0h1M259.2 111.1h1M270.3 108.8h1M262.8 105.4h1M271.0 108.5h1M259.2 117.0h1M260.5 112.7h1M255.1 117.1h1M267.1 115.7h1M259.5 114.9h1M256.2 118.5h1M262.4 122.1h1M265.9 113.5h1M269.1 113.8h1M267.6 112.9h1M278.2 106.4h1M268.7 114.9h1M255.0 118.3h1M270.2 112.3h1M255.0 117.3h1M253.4 118.5h1M267.6 113.5h1M256.5 115.7h1M256.8 107.4h1M257.8 116.4h1M262.7 119.3h1M248.1 119.5h1M268.7 112.5h1M269.1 108.4h1M257.2 111.5h1M269.4 108.4h1M263.2 104.5h1M271.8 112.8h1M270.8 107.1h1M254.1 121.1h1M267.1 111.1h1M257.9 111.1h1M266.0 110.2h1M262.0 119.1h1M277.0 107.9h1M272.1 106.3h1M260.2 112.6h1M264.5 112.4h1M260.8 109.9h1M263.8 114.1h1M264.9 105.9h1M253.8 116.6h1M253.7 123.1h1M269.2 109.6h1M262.8 111.2h1M258.9 116.9h1M256.7 116.7h1M252.2 121.7h1M261.8 118.8h1M249.9 121.8h1M259.5 109.1h1M264.3 114.5h1M255.6 115.2h1M270.5 113.4h1M268.4 114.1h1M262.8 113.7h1M257.3 119.2h1M254.4 113.4h1M252.0 113.9h1M247.7 122.3h1M262.1 115.6h1M268.8 115.4h1M249.9 119.5h1M262.0 110.6h1M258.1 113.5h1M260.7 112.2h1M266.4 112.2h1M264.8 106.8h1M258.0 119.9h1M263.8 107.9h1M262.5 123.0h1M243.7 125.7h1M275.0 106.2h1M258.4 110.1h1M259.5 117.1h1M266.7 103.6h1M265.7 115.3h1M256.2 115.6h1M263.0 114.7h1M264.2 114.9h1M261.5 118.4h1M247.5 129.1h1M264.2 117.4h1M256.1 121.1h1M252.9 117.8h1M259.3 111.5h1M276.9 107.6h1M253.6 121.1h1M262.2 112.1h1M251.0 121.3h1M251.9 124.6h1M260.2 119.1h1M266.2 109.2h1M260.5 110.0h1M259.4 108.3h1M268.4 108.3h1M263.8 111.9h1M254.7 113.8h1M256.5 122.1h1M262.4 121.6h1M262.0 111.3h1M260.2 118.5h1M259.2 115.7h1M258.3 119.0h1M255.9 119.0h1M252.8 120.0h1M257.4 121.1h1M274.3 109.2h1M267.6 109.1h1M271.3 110.3h1M260.7 112.8h1M260.1 115.4h1M267.6 113.1h1M259.4 118.0h1M265.9 105.6h1M263.0 116.1h1M264.2 108.1h1M256.2 119.0h1M274.6 109.0h1M259.7 109.9h1M263.6 109.0h1M257.5 120.5h1M257.0 118.9h1M262.0 106.1h1M251.7 124.9h1M268.3 107.8h1M254.9 114.3h1M268.1 111.5h1M255.5 116.1h1M260.8 115.3h1M262.1 115.3h1M271.7 117.8h1M257.0 121.3h1M265.3 113.3h1M263.2 114.0h1M266.9 112.6h1M256.3 120.0h1M260.0 113.2h1M257.0 119.6h1M257.3 114.7h1M267.3 108.7h1M268.9 109.5h1M256.7 121.9h1M261.5 118.0h1M255.2 107.0h1M256.9 122.5h1M258.5 116.9h1M254.0 119.9h1M267.5 116.6h1M253.3 117.1h1M268.7 105.9h1M244.2 118.0h1M262.7 109.2h1M266.6 114.6h1M255.1 115.6h1M247.7 119.5h1M262.9 115.3h1M250.9 117.5h1M266.9 108.1h1M260.2 112.2h1M261.6 116.2h1M260.4 112.6h1M265.1 110.3h1M260.4 114.6h1M261.3 107.4h1M262.9 112.7h1M254.1 112.2h1M266.1 106.8h1M270.8 106.6h1M268.5 110.4h1M261.2 113.7h1M267.4 114.9h1M253.9 119.9h1M256.4 120.1h1M254.1 117.4h1M255.8 115.7h1M269.5 116.0h1M252.3 113.9h1M258.7 121.0h1M249.3 119.4h1M257.4 119.8h1M247.3 118.6h1M267.7 112.5h1M260.3 116.5h1M263.1 105.0h1M268.7 107.2h1M265.1 114.7h1M264.9 116.4h1M262.2 115.2h1M256.9 115.3h1M246.2 124.3h1M259.6 110.5h1M254.3 115.2h1M254.5 119.9h1M256.9 117.5h1M261.9 117.1h1M265.7 112.5h1M255.2 120.9h1M252.2 120.2h1M269.1 112.0h1M268.9 119.5h1M264.3 108.8h1M259.2 116.6h1M250.7 119.7h1M270.5 110.7h1M269.9 110.9h1M255.3 115.4h1M263.9 113.7h1M268.5 110.9h1M277.2 104.0h1M269.5 110.7h1M267.1 116.5h1M260.6 117.7h1M257.4 116.3h1M261.0 116.0h1M260.2 123.5h1M264.1 110.5h1M264.0 117.5h1M258.2 114.1h1M251.4 114.9h1M260.5 112.6h1M259.4 117.4h1M263.2 112.6h1M253.5 117.1h1M264.2 109.8h1M258.5 112.7h1M271.9 103.7h1M254.9 116.5h1M269.7 99.4h1M281.3 103.5h1M261.5 115.8h1M275.0 106.3h1M270.5 112.4h1M252.1 118.4h1M257.6 117.1h1M263.4 103.0h1M263.8 113.9h1M266.6 109.7h1M265.4 114.5h1M272.8 110.7h1M259.6 115.2h1M252.1 115.7h1M257.7 118.4h1M262.8 117.1h1" stroke="#f51010" stroke-width="1" opacity="0.85"/>
<path d="M214.4 26.6H332.5V143.7" fill="none" stroke="#555" stroke-width="1"/>
<path d="M214.4 26.1V143.7H333.0" fill="none" stroke="#333" stroke-width="1.4"/>
<line x1="252.5" y1="26.6" x2="252.5" y2="143.7" stroke="#3a3a3a" stroke-width="1.3"/>
<line x1="214.4" y1="100.3" x2="332.5" y2="100.3" stroke="#3a3a3a" stroke-width="1.3"/>
<path d="M212.0 143.2H214.4M214.9 143.7V146.3M212.0 114.3H214.4M244.1 143.7V146.3M212.0 85.4H214.4M273.2 143.7V146.3M212.0 56.5H214.4M302.4 143.7V146.3M212.0 27.6H214.4M331.5 143.7V146.3" stroke="#333" stroke-width="1"/>
<path d="M213.0 134.5H214.4M213.0 129.4H214.4M213.0 125.8H214.4M213.0 123.0H214.4M213.0 120.7H214.4M213.0 118.8H214.4M213.0 117.1H214.4M213.0 115.6H214.4M223.7 143.7V145.2M228.8 143.7V145.2M232.5 143.7V145.2M235.3 143.7V145.2M237.6 143.7V145.2M239.5 143.7V145.2M241.2 143.7V145.2M242.7 143.7V145.2M213.0 105.6H214.4M213.0 100.5H214.4M213.0 96.9H214.4M213.0 94.1H214.4M213.0 91.8H214.4M213.0 89.9H214.4M213.0 88.2H214.4M213.0 86.7H214.4M252.8 143.7V145.2M258.0 143.7V145.2M261.6 143.7V145.2M264.4 143.7V145.2M266.7 143.7V145.2M268.7 143.7V145.2M270.4 143.7V145.2M271.9 143.7V145.2M213.0 76.7H214.4M213.0 71.6H214.4M213.0 68.0H214.4M213.0 65.2H214.4M213.0 62.9H214.4M213.0 61.0H214.4M213.0 59.3H214.4M213.0 57.8H214.4M282.0 143.7V145.2M287.1 143.7V145.2M290.8 143.7V145.2M293.6 143.7V145.2M295.9 143.7V145.2M297.8 143.7V145.2M299.5 143.7V145.2M301.0 143.7V145.2M213.0 47.8H214.4M213.0 42.7H214.4M213.0 39.1H214.4M213.0 36.3H214.4M213.0 34.0H214.4M213.0 32.1H214.4M213.0 30.4H214.4M213.0 28.9H214.4M311.1 143.7V145.2M316.3 143.7V145.2M319.9 143.7V145.2M322.7 143.7V145.2M325.0 143.7V145.2M327.0 143.7V145.2M328.7 143.7V145.2M330.2 143.7V145.2" stroke="#666" stroke-width="0.8"/>
<text x="202.1" y="145.2" class="tl">10<tspan dy="-3" class="sp">0</tspan></text>
<text x="216.7" y="155.9" class="tl">10<tspan dy="-3.6" class="sp">0</tspan></text>
<text x="202.1" y="116.3" class="tl">10<tspan dy="-3" class="sp">1</tspan></text>
<text x="244.4" y="155.9" class="tl">10<tspan dy="-3.6" class="sp">1</tspan></text>
<text x="202.1" y="87.4" class="tl">10<tspan dy="-3" class="sp">2</tspan></text>
<text x="273.5" y="155.9" class="tl">10<tspan dy="-3.6" class="sp">2</tspan></text>
<text x="202.1" y="58.5" class="tl">10<tspan dy="-3" class="sp">3</tspan></text>
<text x="302.7" y="155.9" class="tl">10<tspan dy="-3.6" class="sp">3</tspan></text>
<text x="202.1" y="35.1" class="tl">10<tspan dy="-3" class="sp">4</tspan></text>
<text x="324.3" y="155.9" class="tl">10<tspan dy="-3.6" class="sp">4</tspan></text>
<text x="216.5" y="39.1" class="q">1.01</text>
<text x="322.5" y="39.1" class="q" text-anchor="end">4.37</text>
<text x="216.5" y="136.9" class="q">63.3</text>
<text x="322.5" y="136.9" class="q" text-anchor="end">31.3</text>
<text x="278.05" y="22.2" class="pt" text-anchor="middle" letter-spacing="-0.9">RT</text>
<path d="M105.7 262.4h1M160.4 262.6h1M110.9 258.3h1M124.2 255.2h1M87.9 256.9h1M141.1 259.9h1M99.1 255.6h1M104.7 251.8h1M108.4 251.3h1M145.5 266.3h1M105.2 248.7h1M115.9 251.8h1M130.1 255.1h1M101.9 262.5h1M123.4 253.5h1M132.7 260.2h1M151.8 266.0h1M110.4 270.8h1M143.9 248.2h1M120.1 258.1h1M117.6 258.1h1M137.3 260.0h1M146.6 244.7h1M90.7 253.0h1M118.3 268.7h1M135.9 257.5h1M113.4 250.3h1M160.2 260.2h1M116.1 268.0h1M108.8 256.0h1M145.1 264.3h1M124.0 246.6h1M138.1 264.2h1M128.7 252.8h1M143.6 249.4h1M90.1 262.6h1M150.0 270.3h1M99.9 251.7h1M110.5 246.6h1M97.2 261.2h1M131.1 250.6h1M154.8 254.9h1M90.0 257.5h1M128.4 257.7h1M132.7 257.7h1M159.3 256.1h1M141.7 257.8h1M118.6 252.9h1M129.6 253.7h1M125.5 261.4h1M130.2 256.5h1M124.6 263.7h1M160.8 252.8h1M129.3 244.2h1M113.1 244.7h1M146.3 264.8h1M120.8 268.5h1M113.7 274.5h1M100.8 259.5h1M152.2 265.0h1M130.8 269.0h1M154.5 258.6h1M119.7 244.7h1M139.1 242.5h1M155.1 262.0h1M93.1 257.3h1M107.9 261.5h1M114.2 248.6h1M129.8 259.1h1M101.5 262.6h1M145.7 257.8h1M115.4 263.8h1M156.8 258.3h1M142.5 269.7h1M128.9 243.2h1M144.6 252.9h1M117.5 263.3h1M103.6 254.7h1M143.2 258.3h1M133.4 253.3h1M144.7 254.4h1M132.6 260.2h1M108.0 242.9h1M88.6 250.5h1M114.2 257.0h1M140.0 261.1h1M98.9 263.3h1M96.9 257.9h1M120.3 269.3h1M103.1 259.9h1M95.6 260.1h1M88.3 265.4h1M129.9 262.5h1M159.9 255.9h1M152.6 245.7h1M94.7 262.0h1M102.8 264.6h1M122.2 244.5h1M118.7 251.4h1M144.4 252.6h1M144.7 262.6h1M122.2 261.1h1M144.6 243.4h1M95.3 258.9h1M109.3 259.4h1M104.4 246.2h1M112.5 245.3h1M138.7 265.7h1M148.0 263.6h1M149.1 261.4h1M136.8 254.7h1M142.4 268.4h1M99.2 258.9h1M147.4 257.5h1M149.6 259.6h1M144.4 256.8h1M117.2 269.4h1M114.6 261.8h1M155.7 261.9h1M106.7 264.2h1M103.9 258.1h1M128.0 250.7h1M153.9 251.2h1M130.5 250.3h1M164.6 262.2h1M145.3 270.8h1M118.7 267.1h1M131.5 256.0h1M150.9 252.6h1M160.1 246.9h1M155.4 252.9h1M136.4 253.8h1M97.0 258.2h1M136.4 260.3h1M146.3 248.8h1M151.8 258.7h1M119.0 252.7h1M126.7 247.8h1M105.7 256.2h1M107.0 251.9h1M132.9 248.1h1M131.4 273.5h1M139.9 255.5h1M130.2 253.7h1M99.6 247.9h1M146.1 252.6h1M127.7 253.2h1M143.5 239.5h1M106.0 266.0h1M130.5 270.5h1M165.8 264.1h1M136.5 258.1h1M149.1 245.6h1M88.6 255.3h1M134.7 247.7h1M119.6 260.7h1M152.8 254.0h1M118.3 258.3h1M98.2 253.6h1M151.6 267.9h1M151.3 258.6h1M137.7 247.8h1M133.6 271.3h1M151.5 260.5h1M135.2 264.0h1M145.2 251.6h1M118.5 254.3h1M127.7 276.6h1M100.4 264.4h1M102.1 266.8h1M142.5 250.0h1M144.5 251.7h1M146.0 272.5h1M145.0 260.1h1M119.8 267.8h1M144.3 259.0h1M129.8 259.3h1M118.8 258.7h1M116.9 253.8h1M150.8 251.5h1M135.9 266.6h1M126.6 265.7h1M116.2 251.6h1M160.6 249.2h1M105.6 251.4h1M105.7 265.8h1M145.2 245.8h1M135.0 249.3h1M135.4 259.3h1M115.4 266.6h1M142.2 262.8h1M99.9 256.4h1M91.9 254.3h1M101.6 253.8h1M154.6 257.6h1M127.1 266.8h1M131.9 256.9h1M139.6 260.1h1M149.9 265.2h1M154.1 254.0h1M162.1 258.1h1M131.8 254.7h1M147.3 261.5h1M95.2 268.5h1M140.6 266.5h1M155.2 253.9h1M142.6 270.1h1M112.2 268.0h1M110.8 254.2h1M91.9 257.4h1M135.8 256.9h1M132.8 271.6h1M138.4 244.1h1M135.6 249.8h1M97.0 266.3h1M138.5 258.2h1M156.2 264.9h1M129.6 261.1h1M99.3 254.6h1M116.1 258.5h1M154.3 267.8h1M103.2 263.1h1M117.2 251.7h1M115.6 256.2h1M116.5 248.2h1M132.6 258.1h1M101.6 253.4h1M126.3 257.7h1M160.7 266.2h1M134.1 255.2h1M144.2 263.4h1M154.0 262.9h1M106.3 262.2h1M97.1 250.0h1M99.1 267.7h1M130.9 247.7h1M100.4 267.5h1M119.5 268.1h1M125.9 269.4h1M148.6 268.0h1M90.8 254.9h1M126.9 243.9h1M89.8 256.7h1M105.7 268.2h1M124.5 248.8h1M109.3 260.2h1M151.5 260.5h1M114.6 262.4h1M145.6 261.4h1M145.7 254.1h1M122.1 246.4h1M100.7 253.3h1M130.9 262.7h1M136.3 253.8h1M113.3 264.3h1M124.6 265.7h1M125.5 251.1h1M133.9 256.6h1M152.2 256.0h1M112.6 263.3h1M156.5 257.8h1M148.5 252.6h1M131.3 272.5h1M160.3 254.5h1M129.1 266.0h1M137.3 249.8h1M96.2 254.7h1M127.2 262.8h1M105.1 263.3h1M152.8 261.0h1M144.8 257.2h1M141.1 265.1h1M130.5 266.3h1M117.9 246.2h1M106.0 256.7h1M145.9 252.3h1M117.9 243.0h1M132.4 246.3h1M103.1 260.0h1M147.2 263.1h1M140.6 242.7h1M132.6 271.4h1M134.1 256.1h1M105.7 264.7h1M153.7 266.1h1M119.9 263.2h1M102.0 269.2h1M116.4 262.0h1M111.1 260.9h1M124.8 249.7h1M115.6 253.9h1M130.1 250.1h1M125.0 257.7h1M91.4 259.2h1M106.9 242.9h1M150.5 245.9h1M113.4 256.7h1M158.5 259.1h1M149.0 262.8h1M112.4 251.8h1" stroke="#e0a0a0" stroke-width="1" opacity="0.6"/>
<path d="M146.0 263.0h1M114.1 257.5h1M139.6 249.2h1M110.6 263.6h1M163.4 256.4h1M147.1 259.1h1M135.9 257.7h1M110.1 254.7h1M151.0 262.6h1M144.8 249.5h1M131.0 262.0h1M159.5 255.9h1M117.1 255.1h1M137.6 266.3h1M110.1 260.4h1M155.8 250.8h1M150.6 259.6h1M148.1 264.2h1M107.3 262.7h1M134.6 259.0h1M146.2 250.3h1M137.1 256.8h1M139.1 257.9h1M156.7 260.8h1M134.5 259.2h1M139.6 252.7h1M142.5 254.2h1M113.0 259.3h1M124.5 261.3h1M142.9 261.1h1M136.8 268.4h1M115.2 255.1h1M138.7 253.8h1M145.3 256.8h1M139.2 248.9h1M156.3 258.7h1M119.1 265.4h1M130.0 263.9h1M121.0 250.6h1M134.3 246.2h1M159.8 255.6h1M116.4 250.7h1M159.6 257.8h1M151.6 262.4h1M110.0 255.5h1M141.6 257.5h1M146.0 261.5h1M146.2 251.1h1M134.7 249.3h1M133.4 255.3h1M145.7 255.9h1M112.2 258.9h1M151.3 258.9h1M141.7 254.3h1M103.4 250.3h1M109.2 255.4h1M130.0 259.1h1M120.9 250.6h1M142.3 259.8h1M133.5 252.4h1M158.8 257.3h1M135.6 253.4h1M141.4 256.6h1M130.7 256.3h1M149.3 254.7h1M152.2 253.0h1M136.2 256.4h1M145.3 261.3h1M125.7 254.7h1M118.6 259.1h1M132.4 256.0h1M120.7 254.4h1M133.7 267.1h1M120.1 258.0h1M126.8 248.8h1M132.2 249.9h1M138.4 261.4h1M147.8 254.9h1M123.2 264.2h1M147.0 249.2h1M141.3 261.0h1M135.6 253.9h1M128.0 262.0h1M143.4 254.9h1M120.9 257.2h1M155.2 252.3h1M124.2 254.6h1M150.6 259.7h1M123.3 261.1h1M124.8 267.5h1M121.2 256.4h1M118.2 256.0h1M127.0 266.5h1M121.8 254.0h1M145.0 257.1h1M144.5 255.2h1M129.9 249.4h1M128.3 259.7h1M133.1 258.1h1M121.7 252.1h1M109.6 258.5h1M135.4 252.4h1M150.1 255.9h1M145.6 258.4h1M135.8 267.6h1M121.1 257.1h1M130.9 260.2h1M162.6 253.9h1M118.5 259.4h1M127.9 248.8h1M144.7 258.5h1M154.3 250.6h1M155.1 260.8h1M120.5 248.9h1M123.5 259.8h1M133.7 261.2h1M130.8 256.2h1M156.1 249.4h1M116.4 263.7h1M121.4 262.5h1M142.6 258.9h1M128.4 261.4h1M113.9 258.2h1M117.6 256.8h1M145.1 262.3h1M141.5 261.3h1M111.4 255.3h1M143.6 262.0h1M134.0 255.7h1M131.7 257.8h1M104.8 255.1h1M137.2 263.2h1M121.2 249.5h1M123.0 255.8h1M117.5 257.2h1M121.1 250.3h1M130.5 263.5h1M116.0 255.0h1M152.2 249.5h1M137.9 256.4h1M138.6 255.5h1M112.1 253.0h1M133.5 257.4h1M153.5 262.3h1M117.0 261.0h1M124.8 255.9h1M127.9 261.1h1M100.6 258.3h1M148.7 253.3h1M112.8 261.1h1M133.9 264.1h1M148.2 260.6h1M141.5 252.9h1M138.2 257.3h1M126.7 245.5h1M134.1 266.9h1M120.1 259.5h1M155.5 254.5h1M121.6 263.8h1M134.3 259.1h1M120.5 250.1h1M160.0 254.1h1M122.2 255.5h1M140.6 252.2h1M125.1 251.3h1M111.5 243.7h1M134.4 257.9h1M133.1 263.9h1M131.9 252.3h1M124.8 251.1h1M134.7 256.4h1M142.5 261.0h1M137.3 260.5h1M150.2 254.5h1M120.7 262.2h1M130.1 250.4h1M147.5 253.0h1M117.6 256.9h1M149.3 255.7h1M140.1 249.1h1M140.9 254.7h1M128.9 258.1h1M134.1 259.2h1M119.7 259.5h1M120.4 260.1h1M144.2 259.7h1M103.8 250.3h1M142.6 255.8h1M108.8 253.5h1M131.4 259.8h1M111.1 257.4h1M155.8 262.7h1M147.4 261.2h1M152.3 255.8h1M128.5 248.3h1M126.7 254.5h1M129.8 260.1h1M150.1 252.8h1M116.3 254.9h1M113.2 259.4h1M154.1 264.4h1M136.8 250.9h1M143.8 259.0h1M119.7 256.2h1M128.7 258.5h1M126.0 255.5h1M125.6 252.3h1M141.6 252.2h1M146.7 255.6h1M124.3 252.7h1M108.4 254.5h1M111.9 258.2h1M129.1 257.1h1M131.5 251.3h1M148.3 249.5h1M117.6 254.6h1M144.2 263.7h1M154.7 257.6h1M133.4 256.5h1M139.6 260.0h1M110.5 262.0h1M130.3 246.4h1M114.0 253.2h1M119.6 259.1h1M110.8 256.2h1M147.4 247.8h1M119.4 250.6h1M116.7 253.0h1M115.1 261.8h1M153.9 255.6h1M135.2 263.2h1M106.4 255.1h1M137.8 260.1h1M117.2 256.5h1M157.2 257.2h1M111.7 252.3h1M120.9 252.3h1M112.3 252.4h1M114.3 260.0h1M128.7 256.3h1M125.2 245.5h1M102.5 258.1h1M140.2 256.2h1M141.4 261.8h1M108.5 264.0h1M135.2 249.9h1M154.1 257.9h1M116.8 252.3h1M138.0 254.5h1M140.7 257.9h1M141.7 244.3h1M116.2 249.2h1M128.4 258.2h1M149.5 254.0h1M117.2 261.9h1M134.3 255.0h1M134.4 258.1h1M127.7 259.2h1M123.2 255.1h1M124.1 256.9h1M119.9 257.6h1M156.4 260.3h1M140.1 260.8h1M112.3 259.9h1M126.2 264.3h1M106.7 258.4h1M130.3 251.9h1M136.1 248.4h1M129.1 258.7h1M130.3 254.1h1M160.8 256.3h1M148.0 261.9h1M144.4 252.5h1M141.2 264.6h1M148.3 256.3h1M113.0 258.6h1M164.3 253.3h1M149.7 252.5h1M119.6 257.4h1M138.1 255.7h1M115.6 257.1h1M131.2 250.0h1M153.7 262.5h1M113.6 260.0h1M141.7 262.2h1M122.2 254.5h1M114.8 252.7h1M136.9 252.9h1M133.2 260.4h1M113.8 252.8h1M152.1 255.9h1M124.6 252.7h1M126.4 255.0h1M134.9 255.3h1M128.7 256.7h1M148.6 255.4h1M147.4 263.1h1M104.7 254.9h1M140.0 256.7h1M159.5 252.2h1M141.6 261.1h1M149.2 257.4h1M150.8 262.6h1M152.0 252.9h1M125.5 258.2h1M136.4 250.2h1M141.3 259.4h1M130.5 262.3h1M141.4 253.8h1M115.2 256.2h1M139.0 258.1h1M134.0 252.9h1M139.7 248.7h1M131.7 247.3h1M128.3 264.5h1M143.9 254.7h1M143.3 260.7h1M136.5 250.4h1M111.5 252.9h1M113.5 258.4h1M106.4 259.2h1M123.7 256.2h1M139.5 253.1h1M123.3 254.2h1M151.6 255.4h1M134.5 256.5h1M137.1 254.1h1M149.0 255.8h1M150.6 259.9h1M131.6 245.6h1M143.4 251.2h1M146.4 262.5h1M157.8 260.0h1M153.1 260.4h1M142.0 257.1h1M138.8 259.7h1M160.0 253.8h1M142.9 258.7h1M148.7 258.8h1M152.3 259.1h1M136.1 255.0h1M156.7 250.9h1M146.4 261.6h1M139.6 253.4h1M150.3 249.6h1M162.1 255.9h1M150.7 260.5h1M142.9 255.7h1M150.2 251.8h1M150.4 257.6h1M147.9 252.6h1M153.3 259.4h1M153.1 257.3h1M139.7 263.0h1M136.7 253.8h1M148.7 259.6h1M154.4 255.5h1M151.7 262.9h1M137.3 255.9h1M154.2 251.9h1M142.2 251.5h1M154.3 252.9h1M160.6 259.0h1M140.7 263.5h1M148.8 261.0h1M146.7 255.9h1M160.3 260.7h1M142.9 262.2h1M147.9 254.3h1M142.8 254.5h1M145.6 257.8h1M146.0 264.9h1M145.2 254.0h1M146.0 252.5h1M140.4 260.7h1M141.4 264.7h1M153.0 253.1h1M138.3 262.3h1M151.6 250.0h1M145.4 259.7h1M153.7 254.9h1M153.5 250.8h1M146.5 260.4h1M138.5 257.2h1M156.4 262.0h1M155.5 252.4h1M153.1 254.5h1M146.1 262.0h1M159.9 254.7h1M154.0 259.8h1M155.4 254.4h1M138.1 258.5h1M131.0 254.6h1M134.7 257.2h1M145.4 250.2h1M135.2 260.3h1M158.9 248.1h1M147.0 254.2h1M145.3 261.3h1M152.8 252.1h1M142.3 260.2h1M159.1 259.8h1M137.2 251.9h1M136.3 254.6h1M151.8 254.5h1M159.2 255.1h1M143.4 265.3h1M150.1 255.9h1M149.7 253.2h1M159.0 259.0h1M141.5 257.0h1M147.8 255.3h1M139.3 254.5h1M154.4 256.5h1M149.4 255.1h1M131.9 256.1h1M146.8 249.4h1M138.3 254.8h1M145.0 256.2h1M154.3 254.1h1M151.9 255.1h1M149.3 252.5h1M148.5 255.9h1M151.5 254.8h1M142.8 250.9h1M151.1 259.3h1M152.1 261.9h1M142.3 258.8h1M143.8 257.1h1M139.5 255.0h1M151.7 250.3h1M151.1 249.1h1M137.3 250.5h1M141.4 255.7h1M156.2 261.1h1M152.4 256.0h1M161.5 260.9h1M142.5 257.5h1M136.1 255.5h1M142.5 259.6h1M147.4 256.0h1M143.6 259.2h1M139.0 251.2h1M151.0 248.4h1M132.8 251.2h1M152.8 256.6h1M147.2 249.2h1M141.7 259.4h1M156.3 252.9h1M137.3 248.3h1M149.2 256.5h1M147.9 252.8h1M144.0 259.2h1M144.3 261.9h1M146.8 252.5h1M138.4 259.9h1M146.1 260.6h1M137.2 252.0h1M155.4 257.9h1M139.5 253.5h1M141.0 249.9h1M154.4 252.4h1M148.4 253.8h1M148.0 250.1h1M142.2 261.3h1M155.7 255.6h1M138.2 251.1h1M140.6 265.1h1M132.7 259.1h1M145.8 261.0h1M148.5 256.2h1M147.4 259.7h1M144.6 257.5h1M141.7 253.0h1M153.3 252.3h1M147.6 263.3h1M151.8 265.2h1M159.7 256.8h1M154.5 261.7h1M157.9 248.5h1M160.7 258.4h1M157.1 260.1h1M145.7 259.5h1M140.4 255.8h1M132.2 255.1h1M147.2 252.9h1M142.2 257.1h1M160.5 252.9h1M143.9 252.7h1M162.2 257.4h1M145.8 258.8h1M150.0 255.7h1M144.9 249.5h1M143.9 259.7h1M147.4 253.9h1M153.5 247.5h1M142.8 255.0h1M149.5 258.8h1M144.5 255.1h1M154.5 258.0h1M152.2 255.8h1M155.2 255.7h1M159.1 253.4h1M139.4 258.1h1M152.4 254.1h1M144.4 246.9h1M151.3 259.5h1M142.0 255.2h1M139.8 250.2h1M146.6 261.8h1M146.2 255.9h1M155.3 256.1h1M137.2 252.7h1M142.4 255.9h1M154.2 257.0h1M149.0 255.3h1M147.0 251.2h1M152.8 250.1h1M157.9 256.8h1M148.9 257.0h1M153.2 258.9h1M156.9 259.7h1M157.1 258.2h1M147.8 256.2h1M131.6 255.5h1M143.5 256.2h1M157.4 252.9h1M147.2 252.3h1M157.8 258.7h1M158.3 255.6h1M135.5 253.4h1M154.3 249.6h1M157.0 259.3h1M148.8 250.6h1M141.7 256.9h1M149.6 251.1h1M158.0 256.7h1M151.3 254.2h1M149.5 249.7h1M153.6 257.2h1M158.4 255.6h1M162.9 257.8h1M157.5 261.8h1M147.1 254.2h1M156.3 253.2h1M142.2 260.5h1M153.5 258.2h1M162.0 261.1h1M139.0 253.4h1M157.6 261.9h1M147.2 262.6h1M126.5 283.2h1M120.2 275.1h1M140.5 282.7h1M125.9 279.1h1M102.6 285.4h1M140.3 278.6h1M140.6 275.0h1M109.7 306.6h1M154.8 267.4h1M110.6 287.3h1M119.3 306.1h1M116.2 290.2h1M129.5 284.1h1M133.4 293.2h1M101.2 290.9h1M129.1 279.5h1M130.7 271.6h1M126.7 302.1h1M90.7 293.7h1M106.4 282.0h1M112.5 278.2h1M146.5 289.2h1M125.6 293.6h1M130.9 272.1h1M165.2 251.9h1M138.2 299.4h1M122.1 278.0h1M140.9 274.1h1M142.6 265.4h1M158.5 289.5h1M125.3 275.4h1M103.3 280.7h1M101.1 298.7h1M116.5 290.9h1M121.4 281.9h1M106.9 285.9h1M97.9 279.5h1M118.5 277.4h1M129.3 300.1h1M111.5 273.6h1M159.4 276.6h1M151.5 291.8h1M114.6 303.2h1M142.5 277.1h1M131.3 293.4h1M121.6 298.7h1M113.0 276.6h1M169.0 264.3h1M121.3 275.6h1M105.1 273.7h1M129.5 291.5h1M134.6 269.9h1M130.5 283.5h1M118.5 274.1h1M118.3 298.4h1M120.3 292.8h1M105.8 291.6h1M123.4 275.2h1M131.4 272.6h1M134.7 279.8h1M123.5 277.8h1M142.2 263.1h1M136.2 283.3h1M137.8 280.0h1M116.6 299.2h1M126.2 292.1h1M115.7 276.6h1M144.0 273.9h1M122.0 276.1h1M119.3 272.7h1M125.1 285.0h1M149.1 266.9h1M121.9 289.8h1M114.9 285.1h1M134.6 285.2h1M126.3 281.2h1M149.6 272.2h1M149.9 280.4h1M140.9 292.8h1M124.8 280.1h1M120.1 265.8h1M141.6 258.0h1M140.6 287.7h1M146.2 290.0h1M97.8 308.6h1M118.9 303.2h1M124.8 280.5h1M135.6 272.3h1M144.1 286.6h1M133.8 287.1h1M105.5 301.2h1M133.0 286.1h1M116.8 288.8h1M89.5 287.6h1M120.3 298.9h1M123.6 288.0h1M127.8 275.2h1M137.5 272.2h1M134.9 287.7h1M125.5 277.3h1M115.9 278.0h1M130.0 285.7h1M116.0 298.5h1M143.2 283.7h1M132.5 288.9h1M145.3 276.0h1M136.2 276.2h1M114.7 270.7h1M126.9 282.0h1M125.7 277.9h1M137.0 294.8h1M89.4 300.0h1M116.7 292.8h1M161.0 272.2h1M125.5 272.6h1M144.8 261.1h1M127.1 296.6h1M112.1 304.6h1M117.3 271.7h1M124.3 285.8h1M123.8 299.3h1M143.2 265.8h1M150.5 270.3h1M119.7 288.7h1M156.4 262.7h1M140.5 270.1h1M100.2 271.1h1M139.5 264.2h1M133.3 275.9h1M130.6 283.2h1M114.0 309.1h1M146.9 297.2h1M124.4 299.0h1M156.5 268.1h1M109.1 282.1h1M106.6 293.0h1M140.8 286.4h1M111.6 290.6h1M152.3 271.2h1M121.8 299.5h1M135.9 268.6h1M111.7 284.8h1M128.6 297.9h1M134.2 285.0h1M123.6 295.3h1M141.0 278.2h1M114.8 280.0h1M156.4 280.3h1M141.0 271.4h1M108.3 299.6h1M161.7 269.6h1M136.6 282.9h1M112.5 280.2h1M136.3 283.4h1M125.8 271.0h1M143.3 277.7h1M140.7 271.6h1M154.2 283.6h1M108.8 288.0h1M133.2 278.5h1M120.0 285.9h1M98.3 280.1h1M117.1 286.8h1M114.0 290.4h1M131.8 272.5h1M124.6 283.1h1M136.2 280.9h1M130.1 285.5h1M134.1 284.9h1M141.5 285.9h1M123.0 297.5h1M126.1 280.9h1M128.7 285.8h1M121.9 286.0h1M112.9 286.7h1M131.6 275.5h1M134.1 268.1h1M157.7 267.5h1M136.9 287.4h1M131.5 276.3h1M111.4 287.3h1M124.6 275.1h1M142.3 260.9h1M154.2 256.2h1M137.9 278.8h1M146.8 254.6h1M161.9 279.6h1M164.8 269.7h1M141.6 275.2h1M118.7 281.8h1M136.9 286.8h1M146.8 268.3h1M130.7 301.1h1M129.2 280.5h1M120.0 291.9h1M118.2 279.7h1M113.9 302.0h1M149.5 275.4h1M122.5 291.0h1M139.1 293.6h1M133.8 270.5h1M117.5 269.9h1M105.3 275.6h1M118.0 281.4h1M112.8 287.9h1M129.9 277.8h1M122.9 290.7h1M151.1 280.6h1M121.3 279.1h1M142.9 286.9h1M113.6 285.5h1M99.1 289.4h1M127.9 290.5h1M147.6 280.4h1M147.1 278.9h1M142.8 264.0h1M129.8 296.1h1M126.1 288.1h1M128.0 274.9h1M124.8 285.2h1M138.4 279.0h1M141.7 274.7h1M140.9 269.6h1M125.3 301.7h1M149.0 265.8h1M103.2 301.2h1M124.4 284.5h1M122.6 288.8h1M121.5 270.1h1M134.1 300.0h1M152.5 284.3h1M117.7 288.4h1M145.1 284.9h1M113.0 292.6h1M132.4 288.8h1M134.3 278.5h1M136.7 262.2h1M109.4 287.7h1M94.5 296.6h1M151.2 262.6h1M106.6 274.7h1M124.0 283.0h1M129.3 288.1h1M151.5 273.3h1M136.3 269.9h1M154.4 284.8h1M147.9 269.3h1M138.4 280.7h1M125.2 282.4h1M145.6 264.5h1M144.8 274.6h1M129.9 272.2h1M97.7 289.1h1M112.5 272.6h1M136.7 279.6h1M125.2 290.7h1M143.2 273.6h1M166.8 256.5h1M130.2 279.4h1M138.7 285.1h1M140.2 270.7h1M155.7 266.3h1M100.0 302.7h1M121.9 285.2h1M152.1 272.3h1M132.0 287.3h1M103.1 294.4h1M146.0 292.0h1M107.3 288.0h1M143.3 274.2h1M145.4 275.5h1M124.1 284.8h1M107.6 283.2h1M137.5 277.8h1M120.4 277.7h1M124.8 283.1h1M123.4 291.0h1M125.9 291.8h1M115.3 290.0h1M140.0 271.1h1M156.1 288.5h1M116.7 288.3h1M118.8 306.6h1M137.6 269.5h1M149.9 272.7h1M144.9 289.3h1M142.9 265.4h1M136.4 266.0h1M135.2 288.6h1M133.0 296.1h1M122.2 294.6h1M130.5 286.1h1M101.5 293.0h1M153.1 272.1h1M117.2 298.1h1M132.2 276.7h1M128.1 266.4h1M133.4 291.2h1M124.1 273.4h1M112.3 278.5h1M121.6 281.9h1M145.7 283.8h1M134.4 266.2h1M110.3 293.6h1M137.0 296.6h1M105.6 300.0h1M127.5 281.0h1M127.2 275.2h1M102.9 281.7h1M156.9 280.2h1M103.7 283.4h1M148.2 272.6h1M109.5 303.5h1M137.6 271.4h1M100.5 296.7h1M126.5 294.1h1M110.7 294.1h1M139.2 288.7h1M122.2 297.7h1M132.7 295.3h1M126.4 269.5h1M115.9 293.0h1M120.7 287.9h1M132.0 278.7h1M107.6 277.5h1M134.2 277.8h1M108.4 307.1h1M163.2 272.3h1M142.2 267.6h1M107.0 294.0h1M116.7 288.3h1M127.3 291.5h1M134.2 272.4h1M137.1 271.1h1M138.5 262.5h1M149.6 278.4h1M120.8 306.2h1M133.1 284.0h1M129.2 288.3h1M141.4 283.3h1M121.8 275.1h1M105.4 302.2h1M128.5 298.0h1M170.2 269.1h1M128.4 280.8h1M143.4 266.4h1M125.1 277.9h1M130.1 293.8h1M126.7 277.6h1M126.3 285.2h1M142.7 276.9h1M121.2 284.1h1M97.6 291.3h1M143.9 278.3h1M133.6 272.2h1M121.1 282.7h1M131.9 292.4h1M143.4 281.4h1M125.2 262.8h1M109.7 282.3h1M152.5 276.6h1M162.7 253.8h1M132.9 288.3h1M119.0 298.9h1M149.4 281.3h1M157.4 283.8h1M110.4 280.2h1M103.1 288.5h1M107.2 290.2h1M119.8 283.1h1M117.1 299.1h1M124.3 290.1h1M118.7 280.3h1M102.6 293.4h1M128.1 270.9h1M147.4 268.4h1M92.5 290.2h1M132.9 299.5h1M125.0 293.3h1M147.1 291.3h1M147.8 286.4h1M158.3 282.9h1M149.8 287.1h1M167.9 293.3h1M155.0 295.0h1M180.9 293.0h1M157.2 283.9h1M136.8 288.4h1M140.0 294.2h1M146.7 296.1h1M166.2 271.0h1M148.7 294.5h1M159.9 282.5h1M136.1 297.7h1M157.2 288.6h1M137.9 290.7h1M143.2 284.6h1M149.7 286.5h1M138.1 302.1h1M171.7 266.3h1M138.5 294.2h1M144.5 289.3h1M168.7 280.2h1M161.3 286.1h1M124.8 301.3h1M155.0 286.7h1M165.8 293.8h1M138.5 290.3h1M156.4 304.5h1M137.2 277.3h1M146.5 303.3h1M168.6 278.7h1M158.1 275.4h1M139.0 284.9h1M135.6 289.5h1M159.3 286.4h1M152.9 286.7h1M150.6 299.2h1M152.9 286.1h1M135.4 291.2h1M141.4 288.6h1M143.9 295.1h1M164.5 283.6h1M154.6 299.6h1M138.0 288.0h1M141.5 288.4h1M161.4 280.2h1M152.5 280.7h1M143.6 287.0h1M144.3 282.7h1M152.9 268.4h1M142.6 276.1h1M144.8 280.1h1M135.9 270.8h1M121.3 290.9h1M158.6 289.3h1M149.3 289.8h1M155.1 271.6h1M180.6 263.0h1M145.0 284.1h1M154.6 278.5h1M147.8 292.5h1M142.4 290.7h1M142.0 291.8h1M145.4 286.2h1M153.2 293.5h1M170.0 281.3h1M161.4 305.0h1M146.1 295.0h1M161.8 284.6h1M139.8 289.4h1M156.7 280.3h1M150.2 278.9h1M145.0 291.0h1M156.9 289.6h1M167.1 294.6h1M158.4 287.3h1M132.2 302.1h1M131.9 297.2h1M148.6 286.7h1M148.6 293.1h1M136.1 298.1h1M158.0 283.1h1M155.0 284.1h1M163.4 282.1h1M147.9 271.5h1M170.3 283.3h1M139.3 279.9h1M152.3 306.7h1M157.2 284.2h1M155.4 288.6h1M134.5 296.9h1M136.9 278.3h1M161.1 297.2h1M150.1 283.1h1M145.4 299.4h1M150.9 299.6h1M151.3 295.9h1M140.2 267.7h1M152.4 277.9h1M156.5 282.3h1M138.4 282.0h1M175.9 278.6h1M158.1 298.9h1M152.4 298.2h1M170.2 277.6h1M147.6 279.9h1M139.6 298.9h1M137.9 299.2h1M143.2 288.7h1M141.1 284.3h1M135.4 307.2h1M150.8 302.9h1M144.4 301.5h1M166.8 289.4h1M154.1 283.5h1M141.8 293.9h1M158.7 276.0h1M152.6 301.1h1M125.3 288.2h1M147.9 282.6h1M165.5 280.4h1M150.7 286.7h1M147.5 301.9h1M153.5 294.3h1M141.7 284.7h1M157.8 288.5h1M154.3 289.4h1M151.0 301.0h1M155.0 272.6h1M167.7 277.2h1M151.3 279.1h1M165.3 284.6h1M162.2 291.8h1M148.0 287.5h1M157.2 304.7h1M164.4 275.0h1M155.4 287.8h1M159.5 279.2h1M129.5 283.8h1M157.9 281.8h1M131.6 295.6h1M170.6 275.0h1M152.4 281.8h1M160.4 284.1h1M141.4 285.6h1M152.6 295.5h1M140.4 297.2h1M140.3 292.5h1" stroke="#cc2424" stroke-width="1" opacity="0.8"/>
<path d="M106.4 292.2h1M124.1 281.3h1M110.3 284.4h1M110.8 278.9h1M104.6 297.1h1M108.9 293.2h1M103.1 290.5h1M86.4 290.6h1M104.9 284.7h1M107.1 294.8h1M102.5 287.6h1M106.6 285.2h1M115.1 289.0h1M109.8 287.0h1M115.8 281.8h1M100.4 289.1h1M111.8 286.8h1M102.7 293.0h1M107.0 292.7h1M106.8 277.3h1M112.9 291.7h1M113.4 295.4h1M109.2 290.2h1M108.9 284.8h1M117.1 288.4h1M113.7 291.5h1M101.9 288.1h1M110.8 285.3h1M106.9 290.0h1M105.2 284.4h1M107.0 287.9h1M114.5 288.7h1M114.1 296.2h1M98.9 283.5h1M100.8 297.6h1M94.9 288.9h1M106.6 285.2h1M105.0 294.4h1M108.1 281.3h1M107.9 290.3h1M106.6 286.1h1M108.5 292.1h1M116.2 272.8h1M117.9 292.9h1M106.5 283.1h1M108.2 283.6h1M89.7 294.4h1M105.8 298.0h1M114.4 285.6h1M113.7 283.9h1M106.9 298.2h1M91.5 293.3h1M96.6 291.1h1M110.2 288.0h1M102.9 286.8h1M111.4 283.3h1M104.5 289.4h1M107.0 286.9h1M110.1 288.0h1M102.3 285.3h1M107.2 295.2h1M103.0 291.9h1M103.1 287.2h1M104.9 286.9h1M112.6 286.1h1M106.3 288.5h1M105.0 293.6h1M104.9 299.5h1M102.1 292.5h1M103.6 281.2h1M107.9 290.0h1M114.1 284.0h1M106.1 290.3h1M103.5 290.3h1M109.0 276.8h1M110.9 283.9h1M113.4 284.7h1M99.2 293.7h1M110.9 295.6h1M112.9 294.9h1M101.6 280.7h1M99.6 306.9h1M103.0 284.3h1M104.9 287.4h1M121.0 295.5h1M110.1 296.5h1M109.7 292.6h1M102.2 285.8h1M100.8 294.3h1M111.5 288.5h1M113.9 277.4h1M102.4 294.8h1M110.7 277.4h1M120.1 287.5h1M98.8 294.8h1M96.8 291.4h1M106.4 298.1h1M103.9 296.6h1M107.1 298.1h1M96.5 288.2h1M102.6 288.2h1M108.5 286.9h1M105.7 279.3h1M105.6 290.5h1M101.2 293.7h1M108.7 286.0h1M109.5 286.2h1M97.4 286.6h1M110.4 289.8h1M104.6 299.4h1M98.4 287.0h1M103.3 284.1h1M105.0 290.3h1M108.7 279.8h1M102.7 286.4h1M106.4 286.6h1M108.2 278.9h1M92.7 289.2h1M112.7 290.1h1M109.4 280.1h1M107.8 293.4h1M109.8 281.2h1M102.3 296.5h1M99.9 291.0h1M94.2 288.9h1M116.5 284.2h1M101.0 292.2h1M106.9 284.1h1M103.7 304.9h1M116.7 292.1h1M95.1 290.5h1M101.8 291.9h1M90.7 298.7h1M96.4 291.4h1M112.9 287.0h1M100.8 298.3h1M118.3 286.6h1M114.7 275.0h1M106.8 292.2h1M102.4 300.1h1M97.7 282.7h1M106.4 286.7h1M92.3 294.8h1M104.7 294.8h1M102.5 282.7h1M108.3 287.0h1M94.9 296.6h1M103.4 286.3h1M106.6 288.5h1M107.4 278.0h1M104.2 283.2h1M109.1 280.7h1M111.7 289.7h1M105.7 298.3h1M120.9 276.1h1M108.7 284.4h1M102.6 281.6h1M99.6 285.1h1M115.5 282.8h1M110.0 292.9h1M108.2 284.8h1M105.2 285.2h1M103.6 287.2h1M99.2 298.4h1M106.9 296.5h1M116.0 281.3h1M106.5 286.5h1M103.1 293.0h1M99.4 290.7h1M101.3 292.5h1M107.3 295.4h1M106.8 291.7h1M109.6 276.6h1M114.3 295.3h1M124.7 293.0h1M92.3 290.7h1M103.8 288.1h1M97.3 300.1h1M97.9 303.7h1M101.8 280.9h1M101.2 303.7h1M110.3 293.8h1M103.3 295.8h1M112.4 283.8h1M107.1 276.4h1M97.8 296.8h1M108.0 282.7h1M107.3 290.8h1M107.8 285.2h1M99.4 286.7h1M119.5 292.0h1M119.8 295.2h1M101.2 283.5h1M98.0 297.3h1M89.3 295.6h1M114.1 287.9h1M104.4 284.8h1M99.5 297.5h1M99.0 291.3h1M122.9 280.4h1M94.3 287.0h1M109.5 289.6h1M114.3 284.4h1M120.7 280.6h1M108.6 288.5h1M113.3 292.5h1M103.5 299.6h1M106.9 284.7h1M106.1 289.5h1M97.5 290.9h1M98.1 292.3h1M118.8 290.6h1M109.2 280.6h1M124.1 280.8h1M109.3 297.2h1M96.9 301.1h1M121.3 284.6h1M106.6 282.3h1M114.8 280.0h1M99.8 289.0h1M108.5 296.7h1M114.6 282.0h1M99.4 289.6h1M105.8 289.2h1M109.8 293.7h1M107.5 280.0h1M114.9 287.6h1M102.4 293.1h1M111.2 284.2h1M106.3 291.5h1M103.7 286.8h1M104.2 284.3h1M107.4 279.1h1M107.1 290.8h1M104.7 281.0h1M100.3 290.0h1M95.9 292.1h1M103.1 297.6h1M99.9 277.3h1M105.9 287.0h1M107.5 288.2h1M99.6 295.7h1M102.0 292.1h1M109.5 292.3h1M110.2 285.2h1M108.1 284.8h1M105.4 291.2h1M103.6 293.3h1M98.7 296.6h1M104.8 292.8h1M116.6 288.2h1M109.6 295.5h1M100.0 287.2h1M105.6 284.6h1M128.6 285.0h1M102.7 289.5h1M94.5 285.0h1M96.3 295.9h1M96.2 299.6h1M112.4 291.8h1M109.6 289.1h1M104.8 294.1h1M109.4 288.2h1M113.2 290.8h1M97.2 286.3h1M108.2 288.1h1M112.3 286.5h1M98.7 296.5h1M109.3 294.3h1M103.1 283.8h1M100.1 302.1h1M122.8 281.5h1M109.0 279.8h1M116.8 279.9h1M98.0 295.2h1M99.5 280.7h1M113.2 283.8h1M101.9 288.9h1M116.6 277.3h1M94.3 286.2h1M107.3 290.3h1M108.6 296.0h1M101.2 301.6h1M108.9 294.9h1M107.8 290.7h1M103.2 297.4h1M99.5 285.7h1M110.4 282.7h1M110.9 284.4h1M109.3 287.1h1M109.0 283.7h1M113.6 282.7h1M108.2 293.1h1M98.5 287.0h1M108.9 290.8h1M107.2 288.0h1M104.1 293.5h1M108.5 288.6h1M109.3 288.8h1M111.6 282.9h1M104.2 297.0h1M116.9 287.6h1M107.6 292.5h1M96.2 292.0h1M112.1 283.2h1M110.2 287.5h1M113.3 296.0h1M102.4 296.9h1M113.0 287.2h1M104.3 298.1h1M96.6 288.7h1M108.0 291.6h1M103.0 273.3h1M105.2 286.8h1M107.7 289.0h1M96.8 287.2h1M104.6 275.6h1M100.1 284.9h1M111.2 287.8h1M123.7 277.8h1M108.8 289.2h1M100.0 292.7h1M101.4 299.2h1M102.5 295.3h1M98.9 291.1h1M107.9 287.6h1M120.0 290.6h1M104.9 286.8h1M101.1 285.6h1M105.8 280.8h1M95.5 284.8h1M101.0 284.7h1M115.6 289.9h1M115.2 286.0h1M105.9 292.5h1M106.7 293.7h1M101.6 288.4h1M106.9 286.0h1M115.4 282.4h1M111.2 294.2h1M98.4 292.2h1M108.4 278.7h1M109.9 280.5h1M117.5 289.4h1M110.9 284.8h1M100.5 285.5h1M101.5 294.6h1M111.9 289.3h1M102.4 287.0h1M105.1 285.8h1M110.9 279.1h1M91.1 290.4h1M95.4 294.8h1M100.3 298.1h1M104.2 294.3h1M105.5 289.0h1M103.8 281.9h1M102.1 292.9h1M115.9 287.7h1M107.9 294.4h1M108.9 283.4h1M112.9 278.0h1M115.7 287.7h1M105.0 290.7h1M110.4 294.8h1M112.1 290.2h1M114.6 289.7h1M99.9 294.3h1M96.5 289.1h1M104.5 293.3h1M111.8 283.2h1M109.6 290.5h1M105.4 288.7h1M100.3 297.8h1M96.8 292.7h1M108.8 287.8h1M103.4 297.7h1M116.3 290.3h1M97.8 288.0h1M108.4 289.4h1M111.5 286.8h1M110.3 287.4h1M106.3 289.1h1M119.3 280.2h1M104.8 287.7h1M110.5 289.1h1M109.1 296.1h1M107.4 278.1h1M117.8 289.2h1M109.4 278.6h1M107.1 286.2h1M109.2 281.2h1M102.8 296.1h1M103.6 289.7h1M112.0 288.2h1M88.1 291.2h1M97.3 296.0h1M113.1 289.2h1M107.5 288.1h1M101.9 286.2h1M105.6 290.2h1M120.0 288.7h1M112.1 290.7h1M108.2 295.4h1M95.4 292.1h1M107.2 288.4h1M98.3 291.8h1M104.9 289.2h1M99.3 288.6h1M111.6 280.6h1M106.5 297.4h1M102.6 284.4h1M116.7 285.4h1M93.3 298.3h1M101.8 289.0h1M99.6 298.9h1M116.1 282.6h1M113.1 292.3h1M112.5 297.5h1M109.6 290.9h1M109.9 284.1h1M108.1 284.0h1M102.3 281.9h1M112.3 284.9h1M107.0 284.8h1M124.5 288.6h1M98.8 291.5h1M102.8 287.9h1M108.2 281.7h1M111.1 284.8h1M102.0 288.9h1M108.9 276.0h1M115.5 289.0h1M118.0 283.0h1M110.3 296.5h1M115.8 286.1h1M106.4 289.2h1M111.8 290.9h1M111.1 285.2h1M107.9 295.2h1M105.0 290.2h1M117.7 282.0h1M95.8 286.1h1M108.7 284.7h1M115.6 284.2h1M115.8 282.6h1M105.6 289.3h1M104.6 297.9h1M116.8 288.6h1M99.8 286.4h1M107.0 289.1h1M104.1 294.0h1M105.2 303.4h1M104.2 292.9h1M103.8 288.4h1M96.2 296.5h1M118.4 287.5h1M97.7 280.6h1M118.9 285.6h1M116.7 288.4h1M102.9 290.8h1M109.9 293.6h1M101.8 288.1h1M103.1 284.8h1M102.2 282.3h1M108.2 286.5h1M110.3 288.6h1M108.0 288.8h1M98.9 286.3h1M97.9 296.1h1M109.5 290.2h1M106.8 291.6h1M114.7 291.7h1M99.8 287.5h1M109.1 289.2h1M100.6 292.6h1M109.0 287.6h1M103.3 287.9h1M109.1 287.2h1M117.1 272.1h1M109.3 283.0h1M108.9 293.2h1M106.4 285.4h1M105.8 287.5h1M107.5 290.5h1M108.6 290.7h1M110.4 293.6h1M104.2 285.8h1M111.5 283.5h1M108.2 279.6h1M117.8 283.0h1M109.6 287.0h1M109.7 287.7h1M116.8 274.2h1M100.6 297.8h1M104.2 283.3h1M105.5 281.8h1M108.5 284.0h1M100.3 288.1h1M106.1 292.7h1M98.8 295.6h1M101.3 288.2h1M98.9 301.1h1M112.9 288.0h1M104.7 288.7h1M98.4 290.2h1M111.1 278.6h1M107.2 289.9h1M100.8 293.0h1M109.9 287.9h1M104.8 292.4h1M96.5 298.4h1M104.8 285.9h1M116.0 283.5h1M96.6 296.2h1M97.3 282.2h1M108.8 283.8h1M111.5 291.9h1M112.6 286.3h1M103.7 288.2h1M112.1 281.0h1M107.7 290.2h1M104.7 287.7h1M104.0 281.1h1M100.7 284.8h1M111.8 299.3h1M102.9 289.7h1M101.9 292.6h1M102.9 292.7h1M99.9 296.0h1M111.6 289.1h1M108.4 287.8h1M94.2 295.9h1M103.3 290.0h1M106.4 288.4h1M105.8 299.7h1M113.9 293.7h1M105.4 294.3h1M111.7 295.5h1M99.5 291.0h1M105.0 285.0h1M100.4 279.5h1M121.7 282.2h1M116.4 283.7h1M103.6 283.4h1M108.3 290.8h1M105.9 287.4h1M108.5 288.7h1M97.4 302.2h1M108.1 291.5h1M109.7 286.0h1M105.3 287.2h1M102.7 298.0h1M94.5 291.2h1M97.3 298.1h1M118.2 285.5h1M114.6 291.1h1M109.2 277.2h1M106.2 292.3h1M101.5 291.2h1M96.9 294.9h1M111.1 290.9h1M99.1 296.1h1M93.9 282.3h1M115.0 286.6h1M111.3 278.4h1M106.6 292.2h1M109.5 282.9h1M105.0 285.5h1M109.1 286.9h1M100.7 296.7h1M105.1 284.0h1M111.5 292.6h1M106.8 285.0h1M109.7 288.8h1M112.4 295.2h1M108.3 285.1h1M103.0 293.3h1M110.5 290.0h1M104.0 296.1h1M110.0 292.3h1M104.4 291.4h1M102.7 292.3h1M103.9 292.3h1M101.9 289.6h1M105.5 278.6h1M103.5 293.3h1M108.7 287.5h1M117.4 296.9h1M117.3 277.7h1M108.3 280.1h1M99.4 290.5h1M98.3 292.0h1M108.5 290.5h1M107.7 285.0h1M104.6 293.9h1M110.1 282.5h1M94.4 295.2h1M95.6 298.4h1M102.7 292.5h1M105.7 280.8h1M112.9 286.7h1M106.4 287.6h1M120.4 290.0h1M108.6 286.0h1M106.7 290.7h1M112.1 278.6h1M110.1 289.4h1M100.5 290.2h1M108.9 288.1h1M103.3 296.7h1M108.6 278.9h1M99.0 281.8h1M95.9 295.5h1M114.0 283.7h1M110.4 289.1h1M107.6 295.8h1M106.2 286.4h1M109.3 284.5h1M103.4 285.0h1M109.2 289.5h1M115.9 288.4h1M104.1 290.3h1M109.3 292.3h1M115.0 278.9h1M103.5 288.2h1M106.8 296.8h1M110.8 293.2h1M112.4 284.9h1M99.2 288.2h1M106.0 290.7h1M99.6 286.8h1M117.9 283.1h1M112.3 281.8h1M105.7 283.6h1M112.7 283.4h1M106.4 304.2h1M103.9 294.0h1M109.8 289.6h1M110.4 278.5h1M100.3 297.7h1M103.7 281.3h1M103.2 287.7h1M105.6 290.9h1M113.7 296.5h1M98.3 290.7h1M116.1 284.5h1M102.6 290.1h1M102.8 279.9h1M102.3 296.0h1M109.9 301.1h1M99.1 299.4h1M112.3 279.3h1M120.9 276.9h1M108.6 290.5h1M105.6 283.3h1M118.4 280.7h1M101.2 289.1h1M108.1 287.6h1M101.5 290.1h1M111.5 285.3h1M110.2 288.2h1M110.5 281.2h1M117.1 290.2h1M97.6 289.2h1M104.8 293.3h1M113.9 295.4h1M114.5 291.9h1M105.7 288.5h1M111.8 288.0h1M108.6 281.8h1M105.6 292.1h1M104.1 284.8h1M108.0 295.1h1M101.4 295.2h1M110.6 281.7h1M119.4 283.7h1M104.2 287.3h1M117.2 282.1h1M113.4 278.5h1M101.8 289.0h1M107.7 293.6h1M109.7 298.4h1M117.4 291.1h1M117.6 287.1h1M104.7 291.6h1M101.1 298.7h1M107.0 288.0h1M113.8 282.9h1M108.5 286.1h1M109.8 292.3h1M98.8 297.0h1M106.2 280.8h1M106.1 291.3h1M111.0 293.4h1M109.3 290.3h1M102.5 288.3h1M101.8 292.9h1M107.6 288.2h1M112.7 289.8h1M118.2 283.6h1M104.6 288.9h1M103.9 296.8h1M111.7 273.5h1M107.2 276.9h1M105.0 294.9h1M99.7 282.4h1M111.9 294.3h1M115.7 283.5h1M107.3 289.2h1M118.7 287.2h1M114.4 295.4h1M103.1 292.2h1M109.5 289.5h1M94.8 292.3h1M99.7 286.6h1M106.4 281.1h1M106.5 297.4h1M103.9 288.6h1M104.7 300.2h1M103.6 284.2h1M94.8 292.7h1M105.4 290.9h1M114.2 289.4h1M101.2 287.5h1M110.4 282.8h1M106.9 284.1h1M115.9 293.0h1M104.0 293.4h1M107.9 290.7h1M99.0 290.3h1M102.3 291.2h1M101.7 287.8h1M116.7 295.1h1M115.0 281.2h1M93.1 286.4h1M111.3 277.3h1M87.0 289.6h1M91.2 292.2h1M110.7 273.9h1M116.9 287.6h1M106.9 286.5h1M104.1 282.6h1M113.1 296.2h1M93.1 296.1h1M115.8 292.3h1M103.3 289.6h1M95.0 297.9h1M111.4 288.8h1M115.7 291.7h1M114.2 282.8h1M117.5 290.3h1M102.8 286.4h1M117.4 294.3h1M107.8 290.3h1M108.1 288.5h1M116.6 279.8h1M105.9 291.1h1M94.9 301.8h1M105.0 291.5h1M94.1 289.9h1M107.2 300.7h1M112.9 280.0h1M106.6 283.4h1M99.5 288.1h1M108.1 292.2h1M110.0 281.2h1M107.0 286.7h1M121.1 287.4h1M104.0 296.5h1M108.2 287.5h1M104.4 284.1h1M101.7 292.2h1M110.2 289.1h1M107.6 281.8h1M111.1 280.7h1M97.5 299.6h1M106.7 286.9h1M114.6 291.6h1M109.4 278.2h1M107.3 284.8h1M104.6 285.3h1M103.9 292.8h1M112.8 279.7h1M109.2 292.8h1M120.9 289.4h1M107.4 288.0h1M109.9 289.1h1M100.7 290.0h1M102.9 298.8h1M105.9 284.2h1M105.4 288.9h1M115.6 284.7h1M96.2 290.7h1M101.7 297.2h1M112.0 283.4h1M102.8 293.9h1M99.5 292.1h1M91.3 293.1h1M103.5 295.5h1M110.4 287.1h1M112.1 285.6h1M95.0 295.6h1M110.0 289.6h1M99.8 291.5h1M103.0 292.8h1M114.6 292.8h1M104.3 288.4h1M109.3 289.6h1M108.5 284.8h1M110.6 287.7h1M107.5 286.8h1M113.5 288.4h1M101.7 288.9h1M100.2 291.6h1M106.6 299.0h1M107.0 289.7h1M107.4 299.4h1M107.0 287.5h1M102.2 285.5h1M114.6 282.3h1M102.3 294.8h1M112.5 283.0h1M106.1 280.5h1M114.0 272.5h1M108.4 298.5h1M107.1 283.4h1M104.9 293.2h1M107.3 294.2h1M110.8 291.0h1M102.0 272.5h1M109.8 276.3h1M100.5 285.1h1M104.4 294.0h1M105.6 286.2h1M108.7 278.9h1M111.7 288.4h1M112.6 288.7h1M111.9 284.7h1M102.6 283.1h1M110.9 287.2h1M115.2 276.3h1M109.3 285.5h1M103.9 292.3h1M105.2 291.0h1M104.7 288.7h1M108.1 286.9h1M112.1 288.4h1M98.6 295.6h1M94.9 282.0h1M102.0 287.2h1M101.0 293.0h1M98.6 301.4h1M98.1 292.0h1M110.5 281.8h1M100.6 296.1h1M112.0 277.6h1M108.7 291.0h1M105.4 285.6h1M117.4 281.4h1M118.3 281.6h1M101.2 295.4h1M115.5 288.7h1M109.2 285.2h1M100.3 288.8h1M104.7 290.3h1M107.9 301.1h1M119.0 285.8h1M118.2 273.6h1M94.8 290.2h1M101.6 291.5h1M101.2 283.9h1M97.4 287.8h1M115.9 288.5h1M111.1 291.9h1M108.1 293.6h1M102.3 302.5h1M91.5 287.9h1M107.1 289.4h1M93.9 294.8h1M114.2 289.4h1M100.9 287.0h1M113.6 286.1h1M111.0 290.9h1M112.9 290.2h1M113.7 293.4h1M107.5 297.7h1M103.6 292.0h1M99.8 284.5h1M108.6 290.0h1M115.6 291.4h1M109.1 294.5h1M108.0 275.2h1M101.4 287.1h1M102.2 296.4h1M104.3 294.3h1M103.4 292.1h1M114.9 283.2h1M108.9 282.2h1M110.5 289.1h1M111.7 296.2h1M108.5 288.0h1M94.8 287.6h1M118.2 275.6h1M111.5 288.4h1M114.2 286.5h1M111.0 280.7h1M103.9 285.7h1M106.5 290.1h1M102.4 294.0h1M106.8 289.8h1M105.7 289.6h1M96.4 296.8h1M105.9 285.0h1M94.2 286.6h1M101.7 284.9h1M118.1 277.5h1M118.5 284.5h1M95.7 291.8h1M114.0 296.1h1M108.1 286.8h1M112.9 279.0h1M120.1 283.2h1M110.5 293.5h1M108.3 297.0h1M111.5 290.6h1M111.2 289.0h1M95.6 295.4h1M108.9 288.3h1M105.4 291.9h1M113.8 279.0h1M111.5 288.0h1M102.5 280.6h1M109.2 282.6h1M104.4 287.8h1M107.7 288.4h1M110.0 289.2h1M97.8 298.2h1M112.4 286.3h1M107.8 278.8h1M117.4 294.2h1M111.3 282.2h1M104.0 298.8h1M108.6 289.0h1M106.1 290.3h1M104.6 288.9h1M99.8 293.9h1M96.6 286.6h1M104.8 288.0h1M107.4 302.2h1M106.7 293.2h1M98.3 291.7h1M107.9 285.3h1M116.3 278.3h1M108.2 286.5h1M110.0 294.5h1M100.3 296.9h1M100.8 290.0h1M103.4 277.7h1M112.5 294.9h1M108.6 294.4h1M95.9 297.0h1M101.3 295.4h1M107.3 285.9h1M98.8 290.8h1M118.4 295.2h1M99.7 279.4h1M100.0 292.2h1M117.8 282.9h1M93.9 302.2h1M104.1 291.2h1M97.3 294.6h1M105.4 291.9h1M106.0 282.5h1M110.4 279.0h1M110.5 289.7h1M102.8 287.0h1M109.9 290.8h1M103.0 298.9h1M110.0 295.3h1M114.3 290.3h1M104.9 283.8h1M110.4 286.4h1M103.9 291.0h1M113.0 290.7h1M104.8 288.6h1M105.4 298.4h1M98.2 296.6h1M97.5 304.5h1M101.8 293.5h1M104.0 291.7h1M104.0 284.3h1M100.8 291.1h1M104.6 300.5h1M113.0 293.6h1M101.8 277.9h1M116.6 296.1h1M114.0 294.2h1M101.0 288.8h1M111.2 290.1h1M123.7 280.1h1M105.9 288.1h1M115.9 279.9h1M120.1 282.6h1M115.0 279.2h1M113.8 288.3h1M118.3 282.9h1M120.8 280.0h1M118.6 278.3h1M110.9 281.9h1M128.0 273.4h1M109.6 280.1h1M114.9 283.0h1M117.1 275.4h1M117.5 285.2h1M114.7 282.2h1M117.0 284.8h1M114.0 277.3h1M127.3 271.8h1M114.2 279.0h1M114.1 281.3h1M109.2 280.4h1M120.1 282.1h1M117.5 275.5h1M114.4 284.2h1M116.2 283.2h1M121.8 282.8h1M115.8 283.9h1M109.5 277.7h1M118.2 275.2h1M119.6 272.0h1M112.4 277.3h1M105.7 283.7h1M120.5 280.7h1M111.8 287.2h1M125.7 274.6h1M115.6 275.8h1M118.5 276.2h1M119.6 280.9h1M121.9 277.4h1M117.3 274.1h1M119.1 278.9h1M118.1 279.4h1M113.9 289.8h1M119.1 276.9h1M109.5 273.0h1M118.9 280.2h1M123.7 280.2h1M109.5 278.1h1M115.7 285.4h1M123.2 280.8h1M114.3 283.1h1M113.5 280.1h1M115.2 281.7h1M118.9 277.1h1M116.4 282.0h1M120.7 283.2h1M123.3 276.2h1M118.2 276.8h1M120.8 280.6h1M116.0 279.4h1M111.6 276.8h1M111.2 286.0h1M120.5 286.6h1M120.8 275.3h1M125.5 274.5h1M111.2 277.8h1M116.8 279.7h1M118.4 277.4h1M118.8 279.8h1M115.3 281.6h1M106.3 287.6h1M116.9 284.2h1M112.5 280.5h1M113.1 278.2h1M118.8 284.0h1M115.3 284.4h1M115.7 276.7h1M111.2 278.8h1M108.1 281.6h1M123.8 285.7h1M118.3 282.6h1M119.3 279.7h1M123.0 279.0h1M111.8 287.1h1M121.6 288.4h1M112.9 286.4h1M119.0 281.1h1M110.5 284.0h1M107.7 292.0h1M123.4 277.1h1M112.7 284.6h1M108.2 274.1h1M118.1 278.4h1M118.7 274.6h1M119.2 281.9h1M110.5 275.5h1M123.8 271.9h1M113.0 277.9h1M113.1 283.3h1M118.3 279.9h1M115.1 283.7h1M116.9 277.4h1M112.2 282.4h1M115.8 275.1h1M110.2 286.3h1M116.1 277.7h1M122.7 281.5h1M122.7 286.0h1M113.1 275.7h1M126.5 272.4h1M114.2 276.3h1M110.8 279.2h1M117.5 280.6h1M123.8 277.1h1M114.2 280.9h1M111.6 288.4h1M115.6 281.4h1M110.2 282.8h1M119.7 286.3h1M111.3 287.3h1M123.5 275.3h1M118.5 282.8h1M121.6 280.8h1M116.6 279.7h1M122.8 280.8h1M111.9 276.4h1M112.1 278.1h1M113.2 283.9h1M111.1 278.4h1M124.1 282.1h1M121.0 276.8h1M116.8 285.1h1M110.3 285.8h1M119.6 275.9h1M112.4 282.7h1M115.7 285.4h1M114.9 280.4h1M116.3 271.1h1M121.7 283.3h1M114.8 280.1h1M109.7 284.5h1M116.5 279.6h1M119.5 273.4h1M111.3 271.8h1M118.5 276.2h1M115.7 277.9h1M116.3 281.4h1M117.9 280.0h1M115.9 278.8h1M125.5 269.6h1M121.8 284.3h1M117.7 281.6h1M117.0 279.9h1M114.8 274.9h1M116.8 277.3h1M120.7 277.2h1M117.9 273.9h1M116.3 276.7h1M106.0 283.6h1M119.9 276.4h1M118.9 279.9h1M122.7 274.6h1M106.1 287.1h1M121.2 278.4h1M109.1 290.1h1M110.4 271.1h1M113.1 277.9h1M120.0 276.1h1M108.7 287.9h1M114.8 270.6h1M108.7 284.2h1M117.7 285.3h1M113.9 282.0h1M119.6 278.5h1M117.0 284.2h1M118.8 281.6h1M112.0 280.3h1M115.1 282.2h1M111.6 280.4h1M119.7 280.1h1M115.6 284.3h1M114.8 286.3h1M120.6 278.9h1M112.5 270.8h1M123.5 274.4h1M114.6 277.8h1M121.9 279.6h1M116.8 285.5h1M121.9 277.6h1M122.1 273.5h1M124.2 276.5h1M111.2 288.5h1M114.5 287.5h1M110.7 289.8h1M120.9 275.8h1M122.7 276.5h1M115.4 281.4h1M115.9 286.7h1M110.7 277.8h1M109.3 278.6h1M116.8 285.4h1M116.0 286.0h1M121.7 279.6h1M125.4 272.8h1M118.6 283.4h1M120.3 277.1h1M122.1 272.9h1M124.6 277.2h1M113.4 277.4h1M120.0 279.2h1M122.1 274.8h1M122.1 276.5h1M127.3 280.6h1M110.9 278.1h1M117.8 280.9h1M123.6 280.6h1M118.2 283.3h1M126.9 274.2h1M125.8 268.9h1M116.5 286.9h1M113.4 280.8h1M121.3 286.1h1M118.4 278.9h1M124.3 279.2h1M127.3 276.3h1M112.6 281.0h1M116.5 280.0h1M123.2 280.7h1M113.7 280.6h1M121.3 280.7h1M110.4 284.0h1M120.1 280.7h1M116.9 280.9h1M119.6 279.2h1M115.3 287.6h1M111.5 280.1h1M112.4 279.0h1M106.7 279.2h1M115.8 295.6h1M111.0 282.6h1M122.0 281.6h1M115.2 279.9h1M116.9 277.8h1M114.8 277.9h1M129.3 280.4h1M113.1 279.2h1M114.0 277.5h1M121.5 278.5h1M118.8 281.5h1M119.0 280.2h1M116.8 275.3h1M113.0 283.6h1M113.8 286.6h1M112.5 280.1h1M124.7 281.7h1M126.8 269.9h1M113.4 285.1h1M119.0 279.4h1M107.1 286.2h1M118.7 283.7h1M115.1 274.7h1M117.2 279.5h1M108.5 280.8h1M116.3 282.6h1M119.7 269.1h1M119.1 281.5h1M112.6 280.5h1M119.9 282.2h1M112.5 281.6h1M118.7 286.3h1M115.1 280.4h1M115.9 279.2h1M114.0 279.5h1M118.3 276.9h1M107.4 280.5h1M112.3 284.4h1M116.8 271.7h1M114.6 281.2h1M114.9 279.0h1M113.9 280.6h1M112.7 279.2h1M111.2 282.9h1M116.9 279.3h1M117.0 280.7h1M116.2 287.5h1M116.3 278.9h1M123.2 278.6h1M110.5 289.2h1M122.9 279.2h1M113.7 281.5h1M119.8 287.4h1M114.6 274.8h1M118.9 275.7h1M118.3 280.4h1M117.7 276.2h1M111.5 285.0h1M112.8 286.3h1M112.2 283.4h1M114.5 280.3h1M113.6 284.9h1M111.2 282.7h1M118.6 275.9h1M112.0 275.5h1M112.6 286.4h1M126.2 280.9h1M119.9 272.8h1M120.4 274.2h1M109.8 291.8h1M108.4 280.6h1M109.6 280.9h1M118.6 281.0h1M119.3 278.3h1M120.4 280.3h1M110.6 278.0h1M123.2 278.7h1M124.3 271.0h1M119.9 283.0h1M123.6 278.7h1M116.1 278.1h1M108.2 292.1h1M113.6 281.6h1M112.9 278.3h1M118.3 276.8h1M117.3 273.1h1M113.7 281.3h1M110.1 280.6h1M115.6 286.6h1M113.7 277.5h1M118.4 284.8h1M118.9 282.0h1M117.4 271.8h1M111.7 283.4h1M124.5 272.8h1M113.8 279.5h1M122.0 275.1h1M121.7 285.9h1M119.0 277.5h1M110.9 278.9h1M118.6 274.3h1M115.4 278.6h1M115.9 291.6h1M114.4 279.5h1M116.4 287.3h1M116.2 273.6h1M113.3 280.5h1M119.5 276.0h1M119.0 276.2h1M120.0 278.8h1M115.4 283.1h1" stroke="#f51010" stroke-width="1" opacity="0.75"/>
<path d="M75.0 194.4H193.4V312.1" fill="none" stroke="#555" stroke-width="1"/>
<path d="M75.0 193.9V312.1H193.9" fill="none" stroke="#333" stroke-width="1.4"/>
<line x1="113.4" y1="194.4" x2="113.4" y2="312.1" stroke="#3a3a3a" stroke-width="1.3"/>
<line x1="75.0" y1="268.0" x2="193.4" y2="268.0" stroke="#3a3a3a" stroke-width="1.3"/>
<path d="M72.6 311.6H75.0M75.5 312.1V314.7M72.6 282.6H75.0M104.7 312.1V314.7M72.6 253.5H75.0M133.9 312.1V314.7M72.6 224.5H75.0M163.2 312.1V314.7M72.6 195.4H75.0M192.4 312.1V314.7" stroke="#333" stroke-width="1"/>
<path d="M73.6 302.9H75.0M73.6 297.7H75.0M73.6 294.1H75.0M73.6 291.3H75.0M73.6 289.0H75.0M73.6 287.0H75.0M73.6 285.4H75.0M73.6 283.9H75.0M84.3 312.1V313.6M89.4 312.1V313.6M93.1 312.1V313.6M95.9 312.1V313.6M98.2 312.1V313.6M100.2 312.1V313.6M101.9 312.1V313.6M103.4 312.1V313.6M73.6 273.8H75.0M73.6 268.7H75.0M73.6 265.1H75.0M73.6 262.2H75.0M73.6 259.9H75.0M73.6 258.0H75.0M73.6 256.3H75.0M73.6 254.8H75.0M113.5 312.1V313.6M118.7 312.1V313.6M122.3 312.1V313.6M125.2 312.1V313.6M127.5 312.1V313.6M129.4 312.1V313.6M131.1 312.1V313.6M132.6 312.1V313.6M73.6 244.8H75.0M73.6 239.6H75.0M73.6 236.0H75.0M73.6 233.2H75.0M73.6 230.9H75.0M73.6 228.9H75.0M73.6 227.3H75.0M73.6 225.8H75.0M142.7 312.1V313.6M147.9 312.1V313.6M151.5 312.1V313.6M154.4 312.1V313.6M156.7 312.1V313.6M158.6 312.1V313.6M160.3 312.1V313.6M161.8 312.1V313.6M73.6 215.7H75.0M73.6 210.6H75.0M73.6 207.0H75.0M73.6 204.1H75.0M73.6 201.8H75.0M73.6 199.9H75.0M73.6 198.2H75.0M73.6 196.7H75.0M172.0 312.1V313.6M177.1 312.1V313.6M180.8 312.1V313.6M183.6 312.1V313.6M185.9 312.1V313.6M187.9 312.1V313.6M189.6 312.1V313.6M191.1 312.1V313.6" stroke="#666" stroke-width="0.8"/>
<text x="62.7" y="313.6" class="tl">10<tspan dy="-3" class="sp">0</tspan></text>
<text x="77.3" y="324.3" class="tl">10<tspan dy="-3.6" class="sp">0</tspan></text>
<text x="62.7" y="284.6" class="tl">10<tspan dy="-3" class="sp">1</tspan></text>
<text x="105.0" y="324.3" class="tl">10<tspan dy="-3.6" class="sp">1</tspan></text>
<text x="62.7" y="255.5" class="tl">10<tspan dy="-3" class="sp">2</tspan></text>
<text x="134.2" y="324.3" class="tl">10<tspan dy="-3.6" class="sp">2</tspan></text>
<text x="62.7" y="226.5" class="tl">10<tspan dy="-3" class="sp">3</tspan></text>
<text x="163.5" y="324.3" class="tl">10<tspan dy="-3.6" class="sp">3</tspan></text>
<text x="62.7" y="202.9" class="tl">10<tspan dy="-3" class="sp">4</tspan></text>
<text x="185.2" y="324.3" class="tl">10<tspan dy="-3.6" class="sp">4</tspan></text>
<text x="77.1" y="206.9" class="q">3.63</text>
<text x="183.4" y="206.9" class="q" text-anchor="end">18.7</text>
<text x="77.1" y="305.3" class="q">46.1</text>
<text x="183.4" y="305.3" class="q" text-anchor="end">31.5</text>
<text x="132.40" y="187.3" class="pt" text-anchor="middle">Chrysin</text>
<path d="M271.4 273.6h1M276.3 254.0h1M269.3 263.7h1M261.8 262.5h1M288.1 270.0h1M248.4 268.9h1M268.0 272.6h1M266.9 285.3h1M270.2 280.0h1M246.3 282.6h1M225.5 275.1h1M242.0 260.3h1M250.6 267.4h1M259.0 280.4h1M250.2 274.6h1M280.4 257.3h1M258.3 259.7h1M240.4 283.2h1M280.6 271.4h1M236.1 263.0h1M302.7 267.9h1M292.1 287.7h1M264.5 263.6h1M278.3 260.2h1M291.5 260.6h1M289.4 260.7h1M287.6 280.4h1M262.8 269.7h1M277.8 265.3h1M255.0 287.4h1M297.9 261.8h1M265.7 269.4h1M245.4 273.6h1M261.1 273.7h1M221.4 270.9h1M230.3 270.3h1M231.4 277.9h1M259.0 280.6h1M307.8 278.1h1M250.5 277.7h1M243.4 276.7h1M273.8 283.8h1M257.4 266.6h1M285.2 260.8h1M293.1 261.9h1M253.4 266.9h1M231.6 267.8h1M266.3 277.5h1M268.5 284.7h1M245.2 271.4h1M280.0 257.0h1M272.8 257.7h1M232.2 258.3h1M260.7 266.7h1M277.2 272.4h1M254.6 263.3h1M275.8 257.6h1M248.5 264.2h1M277.7 266.9h1M261.5 284.3h1M237.8 289.3h1M240.7 260.5h1M226.8 260.6h1M221.7 256.8h1M239.6 266.8h1M274.8 248.4h1M269.4 261.0h1M275.5 261.5h1M278.7 288.5h1M226.1 264.8h1M273.7 262.6h1M231.5 264.0h1M289.4 274.5h1M234.8 276.4h1M284.1 282.4h1M289.5 289.1h1M282.2 259.3h1M295.0 279.5h1M271.7 293.7h1M244.2 288.9h1M256.7 281.8h1M232.3 271.6h1M307.2 259.7h1M292.0 286.6h1M258.3 287.9h1M272.8 284.9h1M251.9 276.3h1M280.8 266.0h1M290.0 275.3h1M276.3 262.6h1M282.6 264.9h1M262.2 263.5h1M248.4 271.8h1M246.1 286.5h1M260.4 280.4h1M249.1 258.8h1M262.7 273.5h1M248.2 256.4h1M247.9 261.8h1M264.7 250.7h1M248.7 282.9h1M260.4 252.4h1M254.0 276.4h1M297.8 277.1h1M236.0 267.7h1M231.9 279.6h1M283.7 271.3h1M271.5 265.2h1M264.9 285.0h1M273.6 269.3h1M265.0 256.6h1M261.6 269.2h1M244.0 268.3h1M269.7 255.9h1M266.3 263.2h1M273.1 291.8h1M275.2 262.5h1M243.7 291.2h1M239.1 271.0h1M277.8 294.7h1M237.9 253.6h1M231.3 269.8h1M275.3 285.2h1M252.4 267.5h1M284.4 278.6h1M303.3 273.0h1M284.1 286.3h1M247.7 256.5h1M288.1 259.8h1M284.0 271.5h1M282.9 288.8h1M256.7 259.7h1M255.5 276.2h1M254.1 279.0h1M287.9 266.6h1M288.2 259.9h1M273.9 267.8h1M232.8 284.1h1M229.9 283.3h1M276.4 253.6h1M239.8 267.0h1M257.6 286.0h1M293.6 269.8h1M268.0 281.1h1M280.3 257.3h1M254.9 256.5h1M298.1 278.7h1M264.5 274.9h1M277.0 284.2h1M277.2 256.1h1M255.1 267.4h1M256.4 255.7h1M270.0 270.7h1M262.4 271.2h1M292.9 284.3h1M254.5 279.8h1M284.2 259.6h1M285.6 277.6h1M266.3 288.1h1M263.0 293.2h1M249.5 291.8h1M270.6 281.1h1M249.7 255.1h1M289.2 264.5h1M281.9 250.6h1M244.9 267.4h1M271.6 288.9h1M305.8 275.3h1M266.4 279.0h1M244.7 265.9h1M235.7 275.4h1M256.7 278.4h1M274.8 287.4h1M258.1 268.5h1M272.4 284.5h1M277.4 285.8h1M305.9 270.8h1M228.9 256.6h1M259.1 291.4h1M270.7 281.1h1M235.4 258.5h1M291.6 263.9h1M297.8 281.8h1M236.6 277.1h1M297.4 284.0h1M280.4 283.5h1M220.8 277.8h1M277.5 283.2h1M255.7 266.5h1M244.5 283.2h1M234.7 265.3h1M239.1 267.1h1M235.7 278.4h1M276.5 278.3h1M248.1 282.0h1M257.6 265.8h1M256.4 280.9h1M275.5 291.7h1M241.3 272.6h1M236.4 268.0h1M269.4 255.4h1M293.7 290.8h1M254.9 274.8h1M286.7 271.1h1M284.0 276.8h1M226.5 271.1h1M239.3 277.1h1M255.5 272.3h1M244.0 264.4h1M271.9 266.3h1M239.4 256.9h1M230.3 274.9h1M284.1 269.6h1M263.6 289.2h1M249.8 269.7h1M262.1 260.6h1M265.7 280.9h1M266.7 281.7h1M230.3 268.2h1M254.9 256.4h1M250.6 269.4h1M230.4 268.8h1M282.5 284.5h1M230.4 268.5h1M286.5 271.5h1M238.4 260.0h1M229.1 261.2h1M266.5 261.8h1M250.5 265.6h1M241.8 273.2h1M238.0 260.7h1M283.7 290.5h1M273.3 259.1h1M286.6 287.9h1M258.6 284.1h1M245.7 275.6h1M260.5 270.7h1M251.2 252.3h1M288.1 282.3h1M277.3 268.8h1M305.0 275.2h1M240.9 281.4h1M243.1 259.0h1M292.6 273.8h1M248.5 281.2h1M259.4 276.2h1M246.6 257.0h1M298.5 274.9h1M224.2 282.9h1M268.7 271.1h1M233.1 275.6h1M246.7 288.8h1M299.1 260.8h1M221.3 270.4h1M238.2 263.8h1M281.3 279.5h1M284.9 276.2h1M274.8 287.4h1M297.7 259.8h1M260.1 290.4h1M251.5 268.1h1M283.7 286.5h1M273.3 294.2h1M263.9 266.2h1M263.6 292.2h1M254.7 271.9h1M227.0 281.4h1M269.2 294.5h1M266.1 261.2h1M249.0 265.3h1M254.0 270.1h1M275.9 276.0h1M250.0 275.7h1M245.5 256.3h1M283.3 246.6h1M289.8 274.6h1M296.2 279.6h1M271.0 266.8h1M285.1 265.8h1M278.7 267.7h1M287.5 273.7h1M294.7 267.5h1M241.9 263.6h1M255.6 258.6h1M308.1 270.8h1M285.6 268.9h1M240.8 285.0h1M249.7 278.2h1M250.7 266.4h1M255.1 275.7h1M240.4 260.4h1M233.8 290.6h1M281.5 270.2h1M275.4 284.3h1M245.2 269.0h1M244.2 253.7h1M297.7 284.2h1M255.3 280.7h1M297.8 267.3h1M289.4 268.7h1" stroke="#e0a0a0" stroke-width="1" opacity="0.6"/>
<path d="M278.6 262.7h1M280.9 262.6h1M283.0 260.4h1M270.8 258.1h1M293.5 257.2h1M268.9 260.9h1M270.9 263.3h1M274.5 264.3h1M279.2 257.0h1M275.2 259.7h1M246.7 252.6h1M254.5 260.1h1M264.3 259.9h1M258.8 261.1h1M265.7 252.4h1M266.3 264.9h1M271.0 261.1h1M268.8 251.9h1M259.4 269.4h1M252.1 256.5h1M258.2 259.8h1M249.7 250.7h1M276.0 255.7h1M270.5 259.6h1M266.1 263.1h1M235.8 256.4h1M262.6 267.5h1M255.3 269.0h1M279.7 255.1h1M259.8 261.1h1M279.4 266.0h1M260.9 257.9h1M274.0 257.6h1M289.3 261.5h1M281.8 255.6h1M248.9 254.9h1M276.5 257.2h1M278.1 258.9h1M275.5 254.8h1M280.7 260.2h1M252.1 261.9h1M243.2 260.8h1M273.0 257.6h1M247.8 265.7h1M247.4 263.5h1M263.0 254.3h1M269.8 265.1h1M257.1 264.2h1M266.7 270.7h1M293.2 254.3h1M250.1 266.2h1M264.1 259.3h1M291.9 262.3h1M262.4 250.5h1M266.3 264.4h1M250.6 265.6h1M260.7 266.1h1M281.9 254.1h1M266.3 260.1h1M250.5 258.0h1M239.7 257.8h1M283.7 256.4h1M266.1 268.7h1M276.5 260.6h1M275.5 256.0h1M242.9 261.1h1M249.4 258.7h1M298.3 260.3h1M251.4 270.5h1M254.7 259.3h1M250.0 255.3h1M283.9 257.2h1M254.4 259.1h1M262.3 260.5h1M276.2 267.2h1M295.3 254.0h1M264.1 264.9h1M287.5 257.5h1M272.1 256.3h1M275.9 255.6h1M239.7 255.0h1M253.3 257.2h1M284.4 260.1h1M252.1 257.6h1M275.1 266.8h1M269.4 261.3h1M258.2 261.7h1M255.0 261.1h1M297.9 260.6h1M262.0 252.2h1M251.7 256.1h1M243.0 259.9h1M246.7 261.0h1M245.3 263.4h1M290.6 259.5h1M289.4 261.5h1M288.4 260.3h1M246.5 267.1h1M276.9 258.5h1M254.2 255.6h1M283.5 262.1h1M237.6 267.7h1M251.6 256.4h1M242.0 264.2h1M275.3 265.8h1M255.3 259.7h1M251.2 261.1h1M276.8 257.4h1M264.1 260.3h1M271.8 267.8h1M259.3 253.7h1M276.6 257.2h1M271.1 262.6h1M267.8 264.1h1M249.0 263.6h1M261.1 260.4h1M283.3 267.6h1M255.9 254.5h1M276.6 256.3h1M264.8 258.8h1M286.7 262.1h1M255.3 258.7h1M274.5 260.5h1M273.9 260.1h1M267.4 263.6h1M265.3 268.8h1M238.1 264.3h1M242.0 263.5h1M268.5 268.4h1M272.4 259.8h1M287.6 255.4h1M267.6 258.4h1M257.2 256.9h1M285.5 264.9h1M260.0 260.3h1M276.5 256.6h1M262.8 255.6h1M279.0 264.3h1M253.9 253.1h1M256.9 265.4h1M246.6 260.1h1M274.8 260.0h1M240.2 264.7h1M256.3 256.3h1M277.7 262.9h1M251.0 264.0h1M255.2 256.8h1M251.9 257.7h1M263.2 259.6h1M269.1 257.9h1M268.9 261.4h1M259.6 260.5h1M247.7 268.0h1M241.7 262.0h1M245.2 268.8h1M266.6 263.9h1M273.4 264.4h1M293.3 260.2h1M293.8 261.5h1M271.4 264.0h1M293.9 262.8h1M264.9 260.0h1M285.3 254.9h1M286.3 254.2h1M279.2 256.2h1M257.3 251.8h1M252.9 257.2h1M274.0 258.4h1M251.2 258.1h1M233.4 267.5h1M290.8 265.0h1M253.5 265.9h1M254.4 264.9h1M251.1 263.2h1M246.5 254.2h1M283.7 254.3h1M251.6 255.3h1M251.6 262.8h1M246.4 253.1h1M280.1 263.2h1M277.5 263.6h1M232.0 256.4h1M251.6 267.1h1M293.4 266.2h1M269.6 258.5h1M285.4 259.9h1M283.6 261.7h1M294.3 263.6h1M274.1 258.9h1M267.2 256.3h1M254.5 257.7h1M300.2 263.8h1M259.7 263.0h1M255.0 260.0h1M287.3 270.6h1M300.1 262.0h1M276.0 261.9h1M258.1 261.0h1M266.3 261.8h1M272.3 262.4h1M244.2 264.9h1M236.4 252.6h1M249.9 263.6h1M247.1 250.3h1M270.7 261.4h1M236.1 259.1h1M293.8 265.3h1M269.1 250.2h1M279.9 254.1h1M285.5 270.5h1M275.8 260.9h1M255.7 262.9h1M284.5 253.1h1M275.3 259.4h1M253.9 252.3h1M241.1 264.9h1M266.9 254.6h1M267.2 261.9h1M278.5 267.7h1M270.9 259.5h1M264.2 255.8h1M273.9 253.9h1M274.5 260.4h1M268.7 250.4h1M284.5 258.0h1M287.3 259.7h1M253.1 253.3h1M250.7 258.9h1M291.6 259.5h1M277.7 268.2h1M284.1 263.0h1M258.1 261.7h1M291.6 261.0h1M283.2 251.3h1M236.4 260.9h1M259.2 259.1h1M269.8 254.6h1M297.8 263.2h1M271.1 253.0h1M270.1 265.5h1M282.4 261.9h1M252.9 266.2h1M242.0 267.8h1M275.8 255.5h1M263.1 266.7h1M286.5 256.3h1M281.7 255.8h1M286.3 256.4h1M286.5 263.7h1M248.4 254.8h1M253.7 261.7h1M265.2 257.2h1M267.0 262.7h1M283.9 260.2h1M257.7 255.0h1M265.6 258.4h1M253.5 258.8h1M234.0 257.4h1M277.2 260.5h1M229.0 258.3h1M257.1 261.0h1M241.7 264.3h1M284.4 254.7h1M280.3 253.8h1M247.0 260.6h1M254.5 258.4h1M234.9 255.3h1M295.6 257.5h1M239.7 261.6h1M262.9 262.5h1M287.2 260.2h1M236.6 252.3h1M237.7 257.5h1M285.9 265.1h1M283.8 256.8h1M262.5 262.4h1M262.6 263.5h1M241.7 257.0h1M268.0 265.6h1M263.2 257.5h1M288.8 257.2h1M276.2 254.6h1M279.0 261.1h1M249.9 256.0h1M252.5 257.4h1M252.8 263.8h1M298.4 254.2h1M256.7 262.2h1M257.9 255.1h1M246.1 254.1h1M277.7 256.0h1M258.3 263.2h1M295.8 259.3h1M290.7 261.6h1M295.0 263.4h1M265.3 258.1h1M299.3 261.9h1M245.9 250.2h1M281.7 266.2h1M279.6 255.0h1M295.2 262.7h1M263.8 259.7h1M254.1 262.2h1M283.6 255.3h1M261.5 262.8h1M258.0 256.4h1M255.3 256.2h1M298.1 262.4h1M240.6 266.7h1M251.0 259.8h1M271.6 253.2h1M288.0 260.7h1M266.2 253.7h1M236.6 256.0h1M294.1 255.8h1M245.7 258.6h1M260.0 269.5h1M244.2 260.1h1M268.2 251.2h1M260.1 258.3h1M245.8 263.5h1M268.0 260.3h1M254.7 257.9h1M272.3 263.1h1M245.7 255.0h1M233.8 260.3h1M233.4 261.3h1M282.0 266.0h1M247.6 248.9h1M251.7 258.7h1M237.7 254.9h1M269.2 260.5h1M260.6 265.1h1M262.9 264.0h1M262.7 263.6h1M278.8 266.8h1M296.3 259.8h1M242.1 261.9h1M252.7 251.3h1M248.0 267.1h1M262.4 260.9h1M280.3 266.0h1M267.0 255.3h1M297.9 256.9h1M243.9 255.7h1M292.5 258.1h1M271.6 265.7h1M288.9 263.1h1M291.8 255.5h1M253.6 254.3h1M272.8 257.9h1M292.0 263.3h1M249.3 265.4h1M285.8 258.2h1M241.0 254.9h1M267.1 263.7h1M257.5 258.0h1M268.2 264.1h1M255.6 267.4h1M251.1 257.0h1M270.2 254.6h1M275.6 260.2h1M264.2 261.8h1M241.7 256.3h1M274.3 262.9h1M283.9 264.7h1M274.5 254.3h1M296.3 253.8h1M265.5 265.0h1M262.0 260.2h1M290.1 260.5h1M277.7 268.6h1M272.1 256.9h1M273.4 265.2h1M273.7 253.5h1M258.7 257.7h1M250.1 260.7h1M258.7 261.9h1M260.1 261.7h1M240.9 258.9h1M285.9 262.1h1M254.5 259.8h1M256.0 267.9h1M264.9 265.1h1M286.5 262.9h1M256.7 265.3h1M266.1 253.0h1M276.5 254.9h1M269.2 253.9h1M242.2 260.5h1M281.7 255.1h1M284.0 257.3h1M249.4 255.7h1M260.7 268.6h1M258.3 268.3h1M278.3 257.5h1M280.5 265.9h1M282.3 258.4h1M234.4 261.5h1M235.1 259.0h1M272.6 258.9h1M266.6 254.2h1M259.0 256.1h1M271.7 253.9h1M262.3 255.5h1M288.2 258.0h1M260.9 256.2h1M236.4 260.7h1M275.0 265.6h1M290.6 260.6h1M266.0 253.9h1M270.8 266.9h1M253.1 254.9h1M249.8 262.4h1M240.3 256.8h1M263.5 263.2h1M268.1 259.6h1M255.7 261.0h1M294.7 254.4h1M283.0 261.2h1M251.3 262.8h1M253.3 255.3h1M265.2 259.5h1M242.9 260.2h1M283.3 259.2h1M268.0 261.3h1M265.4 267.7h1M246.9 257.9h1M254.9 269.5h1M249.3 261.7h1M248.4 261.2h1M278.4 264.5h1M260.0 259.3h1M296.8 264.3h1M272.5 261.8h1M293.5 261.9h1M246.0 254.6h1M254.6 259.3h1M284.8 259.7h1M266.9 266.2h1M287.8 260.3h1M267.1 261.7h1M264.4 258.5h1M288.7 265.1h1M265.2 265.6h1M254.9 254.9h1M282.6 263.8h1M235.9 255.2h1M253.1 251.9h1M244.6 259.3h1M279.9 254.5h1M260.5 252.0h1M279.6 256.7h1M288.2 259.3h1M279.7 257.1h1M282.2 255.8h1M295.5 266.2h1M286.7 262.0h1M235.7 261.3h1M242.2 267.9h1M274.6 257.7h1M280.0 264.7h1M297.9 258.5h1M282.1 254.1h1M286.9 266.0h1M265.2 268.2h1M286.4 258.2h1M246.0 254.5h1M284.6 260.2h1M273.5 267.9h1M241.3 265.4h1M256.5 256.6h1M288.1 261.9h1M287.5 257.4h1M297.2 259.8h1M273.6 265.0h1M242.1 255.9h1M237.3 259.8h1M271.2 253.2h1M285.0 258.8h1M266.5 255.3h1M245.8 252.2h1M284.1 258.7h1M257.9 264.4h1M276.8 255.2h1M258.6 256.2h1M281.0 268.2h1M260.1 259.5h1M251.3 252.3h1M246.2 261.5h1M268.9 265.5h1M255.9 264.5h1M249.1 260.2h1M281.9 260.2h1M265.0 251.1h1M296.9 261.5h1M257.1 256.2h1M265.6 252.4h1M251.2 264.8h1M239.4 261.1h1M260.6 268.1h1M251.7 259.0h1M272.1 262.0h1M237.9 267.1h1M259.9 257.5h1M284.0 261.8h1M257.9 257.5h1M298.7 262.4h1M252.5 262.2h1M272.6 258.1h1M293.2 256.8h1M264.5 268.5h1M268.3 261.6h1M268.0 260.6h1M263.0 253.3h1M253.5 258.2h1M255.3 253.8h1M269.2 258.4h1M268.0 254.7h1M241.7 262.4h1M276.2 258.1h1M264.0 257.2h1M254.1 261.9h1M288.2 260.1h1M293.1 260.4h1M270.0 246.4h1M252.0 267.1h1M242.9 265.0h1M253.7 268.4h1M292.8 255.8h1M288.7 261.4h1M256.1 257.1h1M234.9 259.8h1M241.8 260.6h1M270.5 262.5h1M291.5 255.4h1M247.9 261.9h1M290.3 262.0h1M276.2 259.5h1M265.1 261.1h1M260.8 254.4h1M270.7 253.9h1M243.3 261.6h1M249.7 258.4h1M279.1 260.3h1M290.4 265.7h1M255.2 259.8h1M272.1 250.3h1M284.5 259.3h1M255.8 264.4h1M292.1 258.3h1M269.2 250.8h1M230.2 259.5h1M271.7 261.8h1M250.8 258.5h1M234.9 260.8h1M270.2 261.1h1M255.6 255.3h1M262.7 262.2h1M286.5 261.8h1M270.2 256.3h1M255.1 260.8h1M271.7 264.6h1M298.6 261.5h1M255.8 252.9h1M273.7 257.8h1M285.6 266.0h1M269.7 256.2h1M257.1 260.1h1M240.6 261.4h1M280.8 262.3h1M257.5 259.7h1M270.5 260.6h1M276.9 259.7h1M277.7 266.3h1M255.4 255.8h1M245.8 263.4h1M265.7 265.4h1M256.7 260.5h1M244.0 259.0h1M280.3 264.9h1M255.5 261.0h1M268.0 251.0h1M294.3 260.1h1M283.3 266.2h1M286.7 256.6h1M273.9 260.8h1M272.7 268.1h1M273.1 262.0h1M244.4 260.5h1M235.2 252.3h1M258.0 255.6h1M268.3 264.9h1M272.2 262.8h1M253.7 262.8h1M253.6 253.8h1M252.2 263.9h1M269.9 261.8h1M240.0 266.6h1M279.7 266.6h1M259.4 261.7h1M292.8 260.9h1M244.5 250.8h1M280.6 254.3h1M271.9 265.8h1M270.5 264.3h1M251.3 259.9h1M258.5 252.7h1M242.1 255.7h1M263.6 258.3h1M281.6 264.9h1M275.6 262.4h1M276.5 264.9h1M281.4 252.7h1M245.9 265.9h1M281.3 258.0h1M281.4 262.6h1M262.2 264.8h1M278.2 255.8h1M265.7 263.9h1M257.5 258.0h1M277.7 263.0h1M251.6 261.7h1M264.3 256.4h1M235.8 261.3h1M240.7 259.8h1M249.5 256.2h1M290.4 258.9h1M243.9 254.4h1M255.1 255.2h1M293.5 255.5h1M265.5 263.3h1M285.5 264.3h1M273.4 261.0h1M264.9 270.9h1M261.6 259.7h1M254.4 262.2h1M300.4 262.9h1M278.3 264.0h1M268.0 261.0h1M275.5 259.9h1M265.6 259.0h1M253.3 259.1h1M266.4 261.8h1M273.9 257.6h1M243.4 257.5h1M250.1 258.0h1M287.6 258.3h1M244.4 266.3h1M282.6 265.3h1M283.8 264.8h1M254.4 260.5h1M288.9 258.3h1M257.7 262.9h1M273.2 257.7h1M256.0 254.8h1M253.9 264.9h1M288.0 255.7h1M296.2 263.0h1M256.7 268.4h1M263.1 264.4h1M260.9 255.2h1M265.3 262.6h1M262.4 263.2h1M278.8 256.6h1M248.7 265.2h1M259.2 254.7h1M265.2 261.4h1M258.3 253.7h1M258.9 262.4h1M259.6 263.8h1M297.0 261.3h1M251.4 266.1h1M273.3 249.7h1M245.4 251.8h1M276.9 261.9h1M248.1 255.0h1M252.0 267.4h1M247.9 259.0h1M247.6 263.8h1M284.0 258.8h1M278.5 251.8h1M290.1 264.4h1M279.5 259.8h1M241.2 255.4h1M276.4 256.7h1M267.7 255.6h1M272.4 252.4h1M235.1 253.7h1M264.7 252.9h1M288.8 257.8h1M269.1 256.7h1M279.0 268.0h1M294.6 264.1h1M287.1 263.5h1M261.4 269.4h1M265.9 250.4h1M271.1 251.5h1M276.3 257.2h1M279.0 253.9h1M295.8 259.3h1M269.0 257.8h1M279.8 259.7h1M283.5 256.3h1M299.8 258.5h1M279.4 258.0h1M264.8 255.4h1M271.6 262.7h1M277.9 263.9h1M270.7 258.6h1M267.2 257.4h1M277.2 267.7h1M274.5 261.8h1M283.5 259.6h1M285.0 259.6h1M271.5 260.0h1M267.0 263.6h1M277.4 262.8h1M278.9 257.1h1M280.5 257.7h1M267.6 262.0h1M286.8 253.0h1M290.6 258.1h1M282.3 261.9h1M272.0 261.4h1M285.2 271.9h1M273.4 263.1h1M271.0 265.1h1M267.4 263.0h1M284.3 256.5h1M265.8 264.5h1M265.3 258.8h1M271.4 261.3h1M291.0 265.5h1M279.2 263.4h1M281.5 265.3h1M286.1 260.2h1M280.8 257.8h1M264.6 258.8h1M271.3 254.3h1M279.8 262.1h1M275.7 259.0h1M274.7 255.4h1M278.8 256.8h1M272.4 261.4h1M275.9 263.4h1M270.9 256.4h1M273.7 254.0h1M293.6 259.0h1M266.8 264.6h1M271.8 256.9h1M290.9 263.2h1M285.1 262.1h1M287.2 266.3h1M281.4 263.6h1M261.7 258.0h1M295.4 262.4h1M283.6 260.6h1M287.2 259.7h1M272.8 258.2h1M279.8 263.6h1M283.7 263.3h1M281.0 266.8h1M287.6 252.4h1M286.4 263.4h1M271.0 262.2h1M274.7 258.5h1M286.2 256.1h1M267.0 258.2h1M287.1 266.2h1M271.7 257.9h1M266.1 257.4h1M267.3 261.3h1M284.2 258.2h1M295.4 264.2h1M265.9 261.2h1M266.0 256.9h1M293.4 261.7h1M278.4 259.3h1M289.7 261.0h1M273.4 258.2h1M282.3 263.0h1M281.8 260.0h1M272.6 259.0h1M285.8 263.7h1M279.6 258.3h1M291.3 266.4h1M275.8 266.2h1M263.3 259.7h1M288.7 265.5h1M284.3 253.8h1M291.6 259.2h1M289.8 262.2h1M267.0 259.1h1M275.0 259.7h1M293.7 261.5h1M293.1 257.9h1M277.2 261.2h1M282.1 261.8h1M265.4 256.2h1M281.0 256.1h1M266.3 255.0h1M267.1 260.3h1M290.2 255.5h1M277.4 262.9h1M267.7 260.8h1M263.9 261.4h1M285.8 265.3h1M278.0 261.4h1M273.4 258.8h1M280.8 261.3h1M294.8 258.9h1M264.8 266.1h1M275.3 266.9h1M273.7 260.8h1M285.2 255.4h1M297.8 258.5h1M275.7 261.7h1M261.7 262.1h1M291.4 260.7h1M272.0 259.0h1M274.8 263.4h1M283.7 255.9h1M278.6 267.2h1M293.1 260.0h1M281.6 263.1h1M264.0 258.1h1M286.7 259.3h1M263.4 259.7h1M261.5 258.0h1M268.7 258.3h1M285.2 266.6h1M276.1 259.7h1M277.5 259.9h1M287.3 258.1h1M277.3 265.7h1M281.4 258.9h1M283.5 263.2h1M265.6 261.4h1M262.0 258.3h1M268.0 255.8h1M282.5 266.5h1M276.3 265.3h1M274.3 265.3h1M270.7 256.3h1M270.6 256.7h1M280.2 260.2h1M270.9 261.1h1M279.8 262.4h1M268.7 263.0h1M280.1 263.3h1M278.2 257.9h1M280.3 258.3h1M288.9 259.3h1M284.1 259.1h1M287.0 256.9h1M284.6 263.8h1M291.5 258.7h1M284.0 261.0h1M269.4 260.3h1M285.9 262.7h1M271.7 262.6h1M262.9 263.6h1M279.0 263.3h1M272.5 264.7h1M271.6 262.9h1M281.2 257.3h1M279.9 259.2h1M275.9 258.3h1M284.6 260.0h1M280.9 264.8h1M266.0 260.8h1M268.5 258.2h1M278.2 265.0h1M292.3 266.5h1M295.2 259.1h1M278.1 257.0h1M270.3 265.5h1M275.6 257.7h1M269.0 258.0h1M264.9 264.9h1M262.1 258.7h1M271.4 260.6h1M286.6 261.0h1M278.8 255.9h1M277.3 260.4h1M275.2 258.5h1M272.6 263.3h1M272.2 259.5h1M276.1 255.3h1M294.4 256.2h1M285.9 267.6h1M274.6 259.3h1M290.4 258.5h1M294.8 262.9h1M262.8 262.6h1M264.3 259.9h1M287.9 252.4h1M262.6 263.6h1M287.6 261.8h1M286.0 260.4h1M268.1 264.2h1M285.6 259.5h1M280.1 263.7h1M285.5 263.6h1M278.2 258.7h1M261.3 258.5h1M286.8 258.6h1M289.0 258.5h1M289.6 253.2h1M278.2 261.6h1M271.5 262.5h1M286.0 257.2h1M291.9 259.3h1M289.5 259.4h1M281.6 258.5h1M263.4 259.5h1M285.3 255.3h1M284.0 262.1h1M268.0 262.6h1M273.8 260.5h1M289.9 256.0h1M277.1 256.2h1M259.3 257.9h1M281.3 257.8h1M271.0 261.5h1M287.7 262.6h1M264.6 259.0h1M279.2 254.1h1M277.9 255.6h1M271.2 267.3h1M270.8 261.7h1M274.8 260.8h1M285.0 263.3h1M275.4 261.0h1M275.2 262.0h1M292.4 256.4h1M275.9 260.2h1M286.5 259.0h1M280.7 259.3h1M285.1 261.8h1M279.1 256.0h1M271.3 258.9h1M272.5 254.5h1M283.1 256.2h1M282.5 261.3h1M278.3 257.5h1M268.3 258.7h1M277.5 261.1h1M276.5 257.7h1M283.8 256.7h1M285.2 262.2h1M275.9 256.8h1M289.5 263.5h1M276.6 262.6h1M282.1 265.1h1M284.5 266.6h1M294.7 259.8h1M272.0 261.6h1M273.9 254.5h1M264.1 259.6h1M283.1 269.4h1M282.2 265.7h1M281.7 257.4h1M284.4 264.1h1M283.5 256.0h1M266.7 262.7h1M285.7 263.4h1M277.4 254.7h1M267.9 263.6h1M294.3 260.3h1M276.8 260.5h1M281.4 263.1h1M283.7 255.0h1M275.5 262.3h1M272.3 259.5h1M288.0 259.9h1M271.3 264.9h1M279.9 263.7h1M269.8 257.3h1M279.0 265.1h1M285.2 253.9h1M283.8 256.6h1M265.2 260.0h1M264.6 258.7h1M280.9 263.9h1M268.6 268.1h1M273.2 259.9h1M274.9 261.7h1M284.2 262.9h1M275.1 257.0h1M265.2 257.9h1M264.3 261.5h1M273.3 258.2h1M285.9 255.5h1M278.6 260.2h1M284.2 259.8h1M272.9 256.7h1M268.0 258.1h1M290.5 258.7h1M281.0 264.2h1M282.6 262.1h1M288.0 256.4h1M285.1 255.8h1M276.6 258.7h1M271.2 258.8h1M284.1 268.5h1M267.0 254.4h1M285.9 262.3h1M259.6 262.6h1M278.5 254.4h1M287.9 267.2h1M270.4 264.0h1M286.3 258.7h1M278.3 266.0h1M277.4 260.9h1M282.4 262.7h1M274.9 266.4h1M286.8 256.0h1M270.7 265.5h1M270.0 260.7h1M280.4 262.8h1M292.3 256.3h1M276.7 258.5h1M271.9 258.9h1M261.7 262.0h1M265.6 261.0h1M274.9 256.6h1M296.9 265.1h1M276.3 260.8h1M290.0 259.5h1M282.3 258.7h1M288.2 262.2h1M284.8 266.4h1M289.2 261.7h1M267.7 258.8h1M267.8 261.5h1M272.7 255.6h1M281.9 259.7h1M283.8 261.9h1M273.8 263.2h1M282.8 259.5h1M277.3 264.4h1M277.5 262.4h1M288.7 263.6h1M271.8 258.1h1M280.2 260.1h1M273.9 262.8h1M278.1 262.5h1M264.9 258.2h1M273.8 255.5h1M283.3 264.6h1M276.3 263.3h1M281.5 268.3h1M261.3 260.0h1M279.6 256.1h1M271.8 258.5h1M282.4 263.6h1M273.9 253.0h1M285.1 263.4h1M276.5 262.4h1M285.9 256.0h1M288.5 255.1h1M281.5 260.8h1M284.2 259.1h1M269.6 259.5h1M295.2 255.6h1M280.9 259.5h1M264.3 262.4h1M279.8 263.3h1M272.3 256.1h1M283.6 263.8h1M291.0 259.2h1M269.2 262.6h1M280.8 263.2h1M263.9 264.7h1M296.4 260.3h1M278.8 260.0h1M283.9 259.3h1M271.1 260.5h1M267.8 285.1h1M249.4 280.0h1M289.6 269.0h1M296.1 282.4h1M296.8 276.7h1M286.8 268.7h1M292.1 273.1h1M274.8 283.4h1M304.6 277.4h1M262.6 280.5h1M259.1 279.1h1M268.3 284.2h1M256.6 291.7h1M253.7 265.8h1M284.6 248.0h1M235.1 289.9h1M234.6 285.2h1M263.9 277.0h1M289.8 273.2h1M254.6 267.7h1M278.9 268.4h1M257.0 282.4h1M258.1 272.8h1M273.3 288.4h1M237.1 300.2h1M240.0 278.2h1M257.9 292.4h1M263.7 281.2h1M277.4 287.0h1M260.1 283.9h1M281.1 284.1h1M258.1 303.6h1M270.2 268.1h1M279.8 274.3h1M267.2 280.5h1M249.8 287.3h1M281.1 276.4h1M291.1 275.7h1M272.2 280.6h1M259.6 290.4h1M271.4 278.2h1M285.3 275.1h1M257.5 291.2h1M240.1 300.9h1M270.4 287.5h1M291.5 278.9h1M270.1 296.4h1M268.2 285.9h1M250.8 286.6h1M240.8 287.9h1M275.2 277.7h1M287.6 272.4h1M279.9 306.1h1M254.3 288.7h1M241.7 279.8h1M287.7 269.8h1M248.7 282.7h1M260.2 283.0h1M267.7 274.6h1M278.5 277.1h1M268.7 294.9h1M250.2 303.0h1M257.3 289.9h1M257.8 304.8h1M266.6 287.5h1M255.2 295.3h1M254.2 253.4h1M244.6 285.2h1M260.0 281.8h1M273.1 273.8h1M275.8 270.3h1M234.8 294.2h1M266.4 273.5h1M267.0 289.8h1M258.6 275.5h1M248.7 284.5h1M244.2 300.2h1M274.7 298.3h1M287.9 282.3h1M234.2 291.1h1M263.2 289.7h1M274.5 281.2h1M285.3 287.0h1M232.7 285.2h1M269.3 285.9h1M233.4 293.4h1M275.8 254.1h1M267.9 297.3h1M276.3 286.0h1M266.7 286.7h1M238.9 288.7h1M298.8 275.7h1M273.5 283.8h1M258.7 286.9h1M233.1 300.0h1M284.7 268.2h1M252.9 300.3h1M270.5 292.9h1M276.4 269.0h1M282.5 273.4h1M256.1 278.5h1M267.2 283.8h1M271.1 272.3h1M274.7 290.7h1M226.3 297.3h1M270.7 286.8h1M256.3 288.2h1M270.1 274.8h1M242.2 287.1h1M271.0 301.2h1M258.7 276.6h1M264.9 286.1h1M240.7 283.8h1M251.7 285.0h1M259.7 264.6h1M308.7 266.3h1M265.5 289.8h1M278.3 276.5h1M275.8 288.6h1M290.9 283.9h1M229.6 292.1h1M261.6 281.8h1M256.1 285.1h1M255.4 291.2h1M261.6 290.7h1M271.5 273.8h1M293.1 258.6h1M234.0 299.3h1M249.7 287.7h1M270.0 283.3h1M242.2 290.6h1M264.4 293.1h1M264.1 305.1h1M250.0 286.7h1M258.8 274.7h1M250.3 284.4h1M266.4 277.4h1M295.2 280.0h1M257.9 301.7h1M275.3 289.5h1M256.3 283.6h1M249.4 285.8h1M268.1 270.8h1M270.3 277.5h1M262.6 288.7h1M273.5 276.6h1M238.6 290.0h1M267.1 292.4h1M274.1 297.6h1M234.6 300.4h1M291.1 268.2h1M263.6 296.7h1M259.4 289.3h1M273.7 271.1h1M275.3 271.7h1M274.3 289.8h1M274.8 288.7h1M256.5 286.1h1M241.3 297.8h1M242.1 296.3h1M264.3 290.2h1M290.5 282.5h1M250.4 296.1h1M267.7 257.5h1M252.1 298.3h1M269.6 290.9h1M283.7 268.7h1M253.1 278.2h1M225.2 292.3h1M291.8 277.1h1M249.4 291.2h1M297.8 275.9h1M293.8 283.2h1M287.4 260.6h1M266.6 281.4h1M287.0 261.7h1M256.1 279.0h1M289.8 283.9h1M256.7 278.7h1M274.6 278.8h1M286.0 287.4h1M261.2 292.2h1M243.1 292.5h1M274.9 286.8h1M271.5 286.3h1M277.7 300.4h1M273.5 269.2h1M256.8 291.6h1M241.2 305.5h1M246.1 300.0h1M256.7 288.1h1M246.2 305.3h1M263.5 285.9h1M266.1 286.9h1M250.5 312.4h1M283.1 298.0h1M256.2 297.0h1M239.8 305.9h1M274.3 278.0h1M254.0 276.1h1M261.6 261.0h1M283.4 286.6h1M249.5 304.6h1M271.1 286.9h1M294.1 261.8h1M291.1 280.0h1M272.0 301.6h1M276.7 284.3h1M270.9 267.8h1M270.2 264.6h1M253.9 287.5h1M266.0 279.3h1M245.1 302.9h1M272.4 259.5h1M264.3 293.4h1M267.0 280.4h1M295.5 282.3h1M270.5 280.2h1M255.6 295.6h1M264.3 280.1h1M269.6 268.4h1M260.0 305.8h1M283.7 266.9h1M272.5 265.6h1M277.5 275.6h1M254.7 291.6h1M249.6 288.4h1M283.5 267.7h1M265.6 280.2h1M264.1 289.6h1M271.9 290.3h1M272.0 283.1h1M286.5 274.2h1M268.9 290.3h1M269.6 270.1h1M250.5 294.7h1M298.8 279.2h1M269.3 275.2h1M272.4 292.9h1M260.9 288.0h1M266.8 294.3h1M270.4 269.6h1M237.4 289.4h1M300.1 276.0h1M262.9 280.1h1M287.8 263.1h1M251.2 292.3h1M226.2 271.2h1M251.8 298.6h1M273.5 295.2h1M272.1 278.5h1M261.4 262.4h1M284.4 245.9h1M259.8 286.4h1M253.1 310.8h1M257.7 288.1h1M249.9 293.9h1M270.0 290.2h1M260.8 279.6h1M261.6 295.1h1M254.8 271.1h1M269.0 278.5h1M249.8 288.0h1M279.4 271.5h1M238.6 273.5h1M270.3 276.9h1M239.8 306.7h1M265.7 276.9h1M279.3 292.8h1M279.7 273.4h1M250.1 293.5h1M252.5 271.1h1M258.6 296.1h1M284.5 276.2h1M265.4 296.8h1M260.4 276.9h1M261.8 286.8h1M260.5 300.2h1M281.8 273.8h1M263.7 283.3h1M251.8 276.3h1M288.5 286.4h1M263.7 296.6h1M261.8 274.6h1M246.2 306.9h1M260.9 302.1h1M287.8 281.4h1M271.9 280.7h1M265.5 285.4h1M242.8 277.6h1M265.5 280.6h1M265.5 280.1h1M263.0 271.0h1M267.8 291.1h1M257.3 286.0h1M283.6 281.0h1M258.9 281.9h1M259.1 270.1h1M223.4 309.1h1M266.4 280.2h1M268.4 289.5h1M261.0 286.3h1M291.6 284.1h1M261.0 280.5h1M290.0 290.1h1M278.4 281.2h1M280.3 287.1h1M251.7 277.4h1M279.6 284.0h1M286.2 273.5h1M282.8 287.7h1M288.7 264.0h1M256.1 290.5h1M237.2 283.0h1M275.5 285.8h1M282.9 285.3h1M267.1 293.0h1M271.0 280.1h1M260.2 296.6h1M266.0 288.2h1M266.4 274.0h1M266.6 284.8h1M287.8 270.8h1M280.2 283.4h1M263.9 292.8h1M253.9 298.6h1M290.9 283.4h1M233.7 285.6h1M262.6 303.7h1M257.8 283.4h1M247.0 286.0h1M251.3 287.6h1M247.1 278.9h1M239.3 290.3h1M243.4 294.1h1M248.3 289.1h1M249.6 281.3h1M239.6 296.3h1M242.0 298.4h1M239.9 293.2h1M258.1 290.2h1M240.6 292.4h1M239.1 295.0h1M242.1 290.2h1M238.8 297.0h1M237.4 297.9h1M244.6 284.4h1M243.9 283.5h1M238.6 298.5h1M247.1 295.9h1M247.2 287.9h1M228.2 299.0h1M228.1 302.8h1M245.4 290.0h1M230.1 298.9h1M247.4 294.0h1M245.6 288.1h1M239.6 291.0h1M236.1 294.2h1M247.1 284.2h1M256.7 289.0h1M235.0 302.0h1M247.4 293.2h1M249.8 285.2h1M247.9 290.4h1M238.2 296.8h1M239.2 298.5h1M231.0 305.8h1M245.4 294.9h1M234.2 297.6h1M247.2 291.1h1M243.1 285.8h1M243.1 294.5h1M243.0 289.6h1M247.5 280.3h1M240.5 293.8h1M258.5 282.8h1M249.3 291.9h1M234.0 297.1h1M232.7 297.1h1M246.7 283.8h1M246.8 292.0h1M231.8 308.0h1M243.9 289.5h1M256.9 283.0h1M247.0 293.3h1M232.6 296.2h1M249.7 288.9h1M251.3 288.7h1M236.8 297.1h1M245.8 288.9h1M228.5 298.8h1M257.1 282.2h1M243.8 289.8h1M229.8 304.1h1M239.4 297.4h1M236.9 295.5h1M236.2 303.5h1M248.4 281.5h1M246.0 286.4h1M243.9 288.8h1M249.9 286.8h1M233.5 294.0h1M239.9 297.9h1M249.5 286.8h1M248.1 289.4h1M241.1 287.1h1M239.4 292.3h1M244.6 291.4h1M237.3 297.6h1M234.4 301.7h1M229.3 302.7h1M245.4 288.1h1M244.5 274.4h1M240.0 295.7h1M249.0 286.3h1M242.2 291.0h1M236.9 297.7h1M247.9 285.0h1M240.6 295.4h1M240.2 296.0h1M242.7 293.3h1M235.8 290.2h1M231.0 300.4h1M236.4 297.2h1M235.2 297.3h1M244.2 291.7h1M247.2 288.5h1M251.6 281.7h1M251.0 297.1h1M229.5 298.1h1M230.2 296.5h1M242.9 294.9h1M254.2 286.8h1M239.7 299.3h1M245.1 293.9h1M233.8 290.7h1M242.2 287.0h1M242.6 298.8h1M249.4 291.0h1M240.7 291.3h1M249.0 288.6h1M234.2 294.2h1M245.1 286.9h1M244.2 291.1h1M247.6 291.7h1M243.0 297.1h1M242.3 281.9h1M246.9 291.8h1M243.8 295.2h1M248.9 287.0h1M240.0 298.2h1M255.7 283.7h1M231.1 302.5h1M239.1 285.9h1M250.0 289.7h1M238.8 290.6h1M243.5 284.4h1M237.4 291.9h1M249.5 289.0h1M249.6 287.5h1M232.4 300.1h1M229.7 302.3h1M244.6 294.9h1M238.6 306.3h1M245.2 293.1h1M245.3 287.5h1M230.4 301.1h1M245.2 293.2h1M237.5 292.0h1M244.4 288.6h1M235.4 297.7h1M248.8 295.7h1M241.8 294.6h1M224.5 299.1h1M233.6 294.3h1M252.6 289.7h1M240.4 286.1h1M241.1 283.6h1M242.9 284.6h1M240.6 293.8h1M233.2 301.0h1M242.7 285.2h1M233.5 296.9h1M229.1 303.7h1M244.0 292.3h1M247.2 284.6h1M243.3 294.3h1M235.0 297.8h1M230.4 308.3h1M244.9 289.5h1M251.9 286.8h1M240.2 300.2h1M244.5 290.9h1M231.8 300.1h1M234.3 296.3h1M246.4 291.2h1M239.2 285.4h1M233.6 294.1h1M235.4 298.1h1M243.8 293.9h1M246.7 297.8h1M242.5 298.4h1M242.6 294.0h1M248.2 284.1h1M234.3 289.9h1M254.4 288.2h1M237.9 283.0h1M250.0 294.5h1M228.6 298.1h1M238.1 299.4h1M242.1 295.6h1M237.0 300.9h1M249.8 288.1h1M248.6 286.4h1M249.3 286.6h1M235.1 288.9h1M228.5 296.9h1M221.7 303.9h1M246.8 290.0h1M237.9 298.1h1M224.6 298.6h1M240.5 298.3h1M254.2 284.8h1M239.8 292.7h1M238.7 294.1h1M250.6 292.2h1M243.7 293.3h1M239.0 295.3h1M244.5 287.2h1M230.9 301.7h1M228.2 311.1h1M230.9 295.1h1M251.5 282.1h1M250.1 288.8h1M229.0 305.9h1M250.4 290.9h1M228.2 301.2h1M242.9 292.6h1M246.3 288.7h1M231.9 293.6h1M248.1 296.2h1M232.1 305.8h1M253.0 283.2h1M257.7 281.5h1M245.5 285.1h1M234.6 301.1h1M238.3 295.1h1M237.3 296.4h1M238.4 289.5h1M242.1 286.1h1M238.2 292.6h1M249.2 288.4h1M260.5 273.5h1M256.3 283.3h1M246.8 285.1h1M233.5 294.7h1M249.6 293.5h1M228.7 301.0h1M236.5 294.3h1M259.1 274.9h1M250.0 283.7h1M252.4 282.8h1M231.1 295.3h1M237.1 294.4h1M237.0 294.6h1M249.8 292.9h1M240.7 290.6h1M240.3 293.7h1M236.5 296.8h1M235.0 299.1h1M248.0 288.5h1M237.6 305.4h1M234.4 292.3h1M251.9 290.5h1M246.4 287.3h1M237.7 285.7h1M252.8 289.7h1M229.9 299.8h1M250.3 292.8h1M242.5 287.1h1M252.4 281.8h1M242.2 294.0h1M234.7 301.8h1M237.6 282.0h1M226.7 295.7h1M240.2 299.5h1M237.7 302.2h1M249.4 285.7h1M248.0 288.9h1M230.0 293.6h1M244.0 293.0h1M239.1 293.6h1M233.3 298.7h1M250.0 289.0h1M241.3 290.9h1M256.3 286.0h1M242.2 288.7h1M240.6 293.3h1M235.6 291.0h1M234.8 300.7h1M231.7 291.5h1M235.1 293.9h1M244.8 293.7h1M244.6 286.5h1M241.4 283.4h1M237.3 299.7h1M248.5 294.9h1M248.5 291.0h1M260.6 274.9h1M246.6 286.7h1M234.7 300.0h1M239.2 299.4h1M236.5 297.4h1M249.8 285.2h1M239.1 298.4h1M252.9 285.1h1M237.6 302.7h1M242.3 290.8h1M250.8 291.8h1M243.9 291.5h1M255.5 287.7h1M241.7 290.8h1M245.2 286.6h1M245.5 284.9h1M254.7 283.6h1M232.9 292.3h1M232.4 302.2h1M245.1 291.8h1M237.4 291.1h1M237.4 288.6h1M247.1 295.5h1M241.2 290.0h1M233.7 294.9h1M241.6 288.6h1M247.4 292.0h1M246.5 291.7h1M229.7 305.5h1M241.9 287.9h1M232.5 303.7h1M244.0 287.4h1M233.4 297.4h1M236.8 295.4h1M250.0 279.1h1M246.0 289.8h1M245.7 289.7h1M243.1 287.3h1M241.4 294.7h1M252.4 286.3h1M239.7 293.1h1M243.4 297.8h1M248.6 285.0h1M236.3 292.5h1M241.1 286.1h1M249.8 289.4h1M236.3 294.5h1M253.6 280.7h1M252.2 289.5h1M240.6 287.6h1M248.8 285.3h1M238.5 291.6h1M222.4 300.4h1M242.0 286.7h1M245.9 288.1h1M248.8 286.2h1M243.6 290.1h1M240.8 289.1h1M242.5 284.4h1M238.9 289.1h1M240.3 297.7h1M244.5 281.8h1M242.4 283.1h1M249.7 287.3h1M243.8 291.4h1M246.4 285.1h1M240.8 293.3h1M220.8 300.2h1M237.6 296.4h1M246.7 287.8h1M247.2 283.5h1M232.6 295.4h1M246.9 289.5h1M235.6 300.4h1M244.6 289.5h1M261.8 286.7h1M243.5 285.4h1M245.6 288.5h1M249.9 284.6h1M244.9 288.4h1M241.9 292.7h1M237.5 291.6h1M238.9 298.6h1M233.8 296.6h1M240.5 294.0h1M239.0 293.1h1M255.3 280.5h1M244.8 294.6h1M236.4 288.8h1M257.8 279.8h1M234.9 285.0h1M240.8 293.3h1M241.8 287.6h1M245.0 290.9h1M239.0 294.6h1M240.6 298.6h1M250.3 287.9h1M239.1 297.8h1M238.4 300.3h1M240.0 290.7h1M242.5 297.3h1M242.1 294.4h1M244.1 298.8h1M239.3 288.5h1M244.2 293.2h1M246.1 287.9h1M227.5 301.4h1M251.2 281.4h1M259.3 288.9h1M235.8 294.2h1M245.0 289.4h1M231.8 292.8h1M234.1 283.8h1M254.3 284.0h1M255.9 288.4h1M241.1 291.0h1M256.5 272.7h1M244.6 285.0h1M224.5 310.0h1M240.6 291.4h1M261.3 284.6h1M243.1 286.3h1M257.1 286.2h1M239.4 284.2h1M246.8 285.7h1M253.8 272.7h1M245.0 294.6h1M244.3 294.4h1M251.5 287.1h1M254.1 282.1h1M257.7 277.9h1M246.1 283.7h1M252.9 282.5h1M222.7 305.2h1M241.3 296.7h1M238.5 290.2h1M246.2 278.2h1M233.8 301.8h1M243.2 291.8h1M227.8 310.0h1M245.1 291.9h1M256.6 284.6h1M230.9 293.7h1M243.2 295.6h1M236.8 298.0h1M249.4 295.9h1M231.4 302.7h1M245.7 289.2h1M240.3 286.2h1M232.8 301.8h1M253.1 291.4h1M250.3 284.4h1M241.4 288.4h1M250.0 288.7h1M238.2 291.7h1M242.9 295.6h1M254.9 282.2h1M244.7 295.7h1M243.3 295.4h1M231.8 301.3h1M230.7 305.8h1M232.0 295.6h1M259.5 281.4h1M237.9 294.8h1M250.6 286.7h1M251.1 293.0h1M233.6 295.3h1M241.4 294.2h1M241.1 294.7h1M246.1 292.0h1M246.2 287.6h1M246.5 293.7h1M257.2 287.7h1M241.6 288.9h1M251.2 282.3h1M252.8 286.6h1M230.1 307.5h1M245.0 289.1h1M233.6 301.1h1M242.7 284.5h1M240.3 287.0h1M241.7 286.9h1M251.5 293.7h1M245.8 302.1h1M238.5 290.7h1M247.9 287.5h1M248.5 289.9h1M250.5 289.3h1M245.4 288.6h1M251.6 285.1h1M229.0 293.4h1M244.2 289.7h1M242.8 285.3h1M233.1 295.1h1M242.9 290.5h1M230.1 293.4h1M218.8 304.8h1M227.8 303.3h1M250.2 288.6h1M250.2 287.4h1" stroke="#c81c20" stroke-width="1" opacity="0.8"/>
<path d="" stroke="#f51010" stroke-width="1" opacity="0.85"/>
<path d="M211.3 196.1H329.6V313.9" fill="none" stroke="#555" stroke-width="1"/>
<path d="M211.3 195.6V313.9H330.1" fill="none" stroke="#333" stroke-width="1.4"/>
<line x1="249.6" y1="196.1" x2="249.6" y2="313.9" stroke="#3a3a3a" stroke-width="1.3"/>
<line x1="211.3" y1="268.0" x2="329.6" y2="268.0" stroke="#3a3a3a" stroke-width="1.3"/>
<path d="M208.9 313.4H211.3M211.8 313.9V316.5M208.9 284.3H211.3M241.0 313.9V316.5M208.9 255.2H211.3M270.2 313.9V316.5M208.9 226.2H211.3M299.4 313.9V316.5M208.9 197.1H211.3M328.6 313.9V316.5" stroke="#333" stroke-width="1"/>
<path d="M209.9 304.6H211.3M209.9 299.5H211.3M209.9 295.9H211.3M209.9 293.1H211.3M209.9 290.8H211.3M209.9 288.8H211.3M209.9 287.1H211.3M209.9 285.7H211.3M220.6 313.9V315.4M225.7 313.9V315.4M229.4 313.9V315.4M232.2 313.9V315.4M234.5 313.9V315.4M236.5 313.9V315.4M238.2 313.9V315.4M239.7 313.9V315.4M209.9 275.6H211.3M209.9 270.5H211.3M209.9 266.8H211.3M209.9 264.0H211.3M209.9 261.7H211.3M209.9 259.8H211.3M209.9 258.1H211.3M209.9 256.6H211.3M249.8 313.9V315.4M254.9 313.9V315.4M258.6 313.9V315.4M261.4 313.9V315.4M263.7 313.9V315.4M265.7 313.9V315.4M267.4 313.9V315.4M268.9 313.9V315.4M209.9 246.5H211.3M209.9 241.4H211.3M209.9 237.7H211.3M209.9 234.9H211.3M209.9 232.6H211.3M209.9 230.7H211.3M209.9 229.0H211.3M209.9 227.5H211.3M279.0 313.9V315.4M284.1 313.9V315.4M287.8 313.9V315.4M290.6 313.9V315.4M292.9 313.9V315.4M294.9 313.9V315.4M296.6 313.9V315.4M298.1 313.9V315.4M209.9 217.4H211.3M209.9 212.3H211.3M209.9 208.7H211.3M209.9 205.9H211.3M209.9 203.6H211.3M209.9 201.6H211.3M209.9 199.9H211.3M209.9 198.4H211.3M308.2 313.9V315.4M313.3 313.9V315.4M317.0 313.9V315.4M319.8 313.9V315.4M322.1 313.9V315.4M324.1 313.9V315.4M325.8 313.9V315.4M327.3 313.9V315.4" stroke="#666" stroke-width="0.8"/>
<text x="199.0" y="315.4" class="tl">10<tspan dy="-3" class="sp">0</tspan></text>
<text x="213.6" y="326.1" class="tl">10<tspan dy="-3.6" class="sp">0</tspan></text>
<text x="199.0" y="286.3" class="tl">10<tspan dy="-3" class="sp">1</tspan></text>
<text x="241.3" y="326.1" class="tl">10<tspan dy="-3.6" class="sp">1</tspan></text>
<text x="199.0" y="257.2" class="tl">10<tspan dy="-3" class="sp">2</tspan></text>
<text x="270.5" y="326.1" class="tl">10<tspan dy="-3.6" class="sp">2</tspan></text>
<text x="199.0" y="228.2" class="tl">10<tspan dy="-3" class="sp">3</tspan></text>
<text x="299.7" y="326.1" class="tl">10<tspan dy="-3.6" class="sp">3</tspan></text>
<text x="199.0" y="204.6" class="tl">10<tspan dy="-3" class="sp">4</tspan></text>
<text x="321.4" y="326.1" class="tl">10<tspan dy="-3.6" class="sp">4</tspan></text>
<text x="213.4" y="208.6" class="q">5.89</text>
<text x="319.6" y="208.6" class="q" text-anchor="end">45.1</text>
<text x="213.4" y="307.1" class="q">27.0</text>
<text x="319.6" y="307.1" class="q" text-anchor="end">22.1</text>
<text x="262.76" y="187.2" class="pt" text-anchor="middle" letter-spacing="-0.32">Chrysin+RT</text>
<text x="373.6" y="22.6" class="serif" font-weight="bold" font-size="18.3" fill="#111">(b)</text>
<text transform="translate(411,224.6) rotate(-90)" class="serif" font-weight="bold" font-size="20.8" fill="#111">Apoptotic cells %</text>
<g class="serif" font-weight="bold" font-size="18" fill="#111" text-anchor="end">
<text x="448" y="44.7">100</text>
<text x="448" y="98.7">75</text>
<text x="448" y="152.6">50</text>
<text x="448" y="206.6">25</text>
<text x="448" y="260.3">0</text>
</g>
<rect x="476.6" y="247.3" width="30.4" height="6.5" fill="#050505" stroke="#222" stroke-width="1.15"/>
<path d="M491.8 247.3V241.9M484.3 241.9H499.3" stroke="#333" stroke-width="1.35" fill="none"/>
<path d="M491.3 253.8V264" stroke="#000" stroke-width="2.6"/>
<rect x="523.2" y="186.3" width="30.4" height="67.5" fill="#a4a4a8" stroke="#222" stroke-width="1.15"/>
<path d="M538.4 186.3V174.8M530.9 174.8H545.9" stroke="#333" stroke-width="1.35" fill="none"/>
<path d="M537.9 253.8V264" stroke="#000" stroke-width="2.6"/>
<rect x="569.6" y="150.2" width="30.4" height="103.6" fill="#7f7f7f" stroke="#222" stroke-width="1.15"/>
<path d="M584.8 150.2V136.2M577.3 136.2H592.3" stroke="#333" stroke-width="1.35" fill="none"/>
<path d="M584.3 253.8V264" stroke="#000" stroke-width="2.6"/>
<rect x="616.5" y="79.1" width="30.4" height="174.7" fill="#d4d4d4" stroke="#222" stroke-width="1.15"/>
<path d="M631.7 79.1V71.6M624.2 71.6H639.2" stroke="#333" stroke-width="1.35" fill="none"/>
<path d="M631.2 253.8V264" stroke="#000" stroke-width="2.6"/>
<path d="M460.6 36.8V253.8M450.5 38.0H461M450.5 91.95000000000002H461M450.5 145.9H461M450.5 199.85000000000002H461M450.5 253.8H663.8" stroke="#000" stroke-width="2.7" fill="none"/>
<g class="serif" font-size="17" fill="#333">
<text x="526.7" y="170.8">###</text>
<text x="572.6" y="131.9">###</text>
</g>
<path d="M538.2 37.7H631.6M538.2 32.9V43M631.6 32.9V43M584.8 60.4H631.6M584.8 55.4V65.8M631.6 55.4V65.8" stroke="#4a4a4a" stroke-width="1.7" fill="none"/>
<g font-family="'Liberation Sans', sans-serif" font-size="16.6" fill="#222" stroke="#222" stroke-width="0.35" letter-spacing="2.1">
<text x="571.9" y="37.2">***</text>
<text x="597.0" y="62.5">***</text>
</g>
<g class="serif" font-weight="bold" font-size="17.9" fill="#111" stroke="#111" stroke-width="0.25" text-anchor="end">
<text transform="translate(497.7,279.6) rotate(-45)">Control</text>
<text transform="translate(544.4,279.5) rotate(-45)">RT(4 Gray)</text>
<text transform="translate(590.9,279.2) rotate(-45)">Chrysin(60μM)</text>
<text transform="translate(637.5,279.8) rotate(-45)">Chrysin+RT</text>
</g>
</svg>
</body></html>
